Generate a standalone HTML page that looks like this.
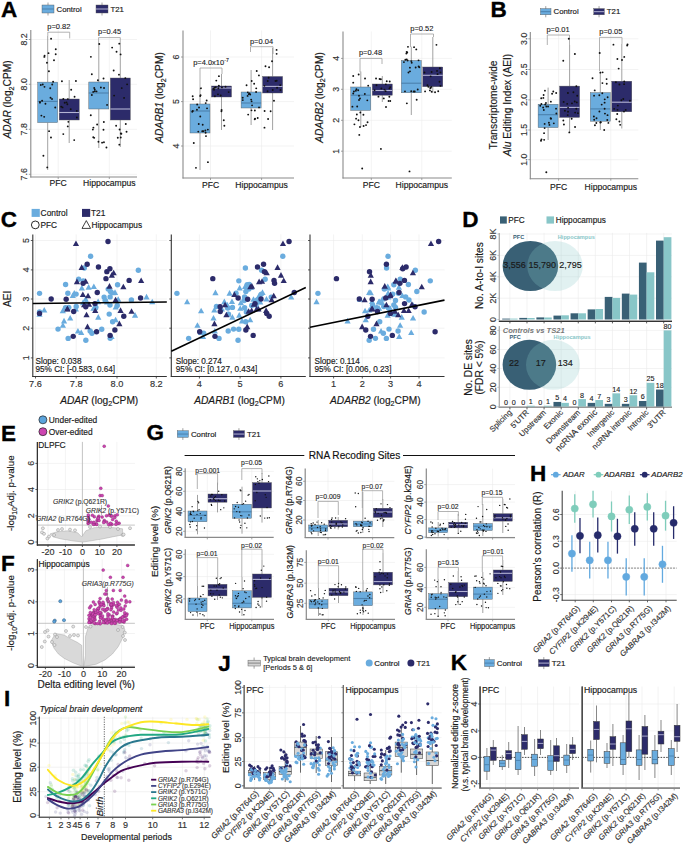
<!DOCTYPE html>
<html><head><meta charset="utf-8"><style>
html,body{margin:0;padding:0;background:#fff;}
svg{display:block;font-family:"Liberation Sans",sans-serif;}
</style></head><body>
<svg width="685" height="844" viewBox="0 0 685 844">
<rect width="685" height="844" fill="#fff"/>
<text x="0.95" y="17.05" font-size="22.5" font-weight="bold" fill="#000" stroke="#000" stroke-width="0.35">A</text>
<line x1="48.00" y1="2.50" x2="48.00" y2="15.50" stroke="#8a8a8a" stroke-width="0.8" />
<rect x="42.00" y="5.00" width="12.00" height="8.00" fill="#6aacde" stroke="#555" stroke-width="0.4" />
<line x1="42.00" y1="9.00" x2="54.00" y2="9.00" stroke="#4b81ad" stroke-width="1" />
<text x="56.50" y="11.69" font-size="7.8" text-anchor="start" fill="#1a1a1a" stroke="#1a1a1a" stroke-width="0.16">Control</text>
<line x1="102.00" y1="2.50" x2="102.00" y2="15.50" stroke="#8a8a8a" stroke-width="0.8" />
<rect x="96.00" y="5.00" width="12.00" height="8.00" fill="#2c2b6a" stroke="#555" stroke-width="0.4" />
<line x1="96.00" y1="9.00" x2="108.00" y2="9.00" stroke="#b4b4d4" stroke-width="1" />
<text x="110.50" y="11.69" font-size="7.8" text-anchor="start" fill="#1a1a1a" stroke="#1a1a1a" stroke-width="0.16">T21</text>
<line x1="30.80" y1="39.50" x2="137.00" y2="39.50" stroke="#ebebeb" stroke-width="0.6" />
<line x1="30.80" y1="84.30" x2="137.00" y2="84.30" stroke="#ebebeb" stroke-width="0.6" />
<line x1="30.80" y1="129.30" x2="137.00" y2="129.30" stroke="#ebebeb" stroke-width="0.6" />
<line x1="30.80" y1="174.30" x2="137.00" y2="174.30" stroke="#ebebeb" stroke-width="0.6" />
<line x1="58.20" y1="30.00" x2="58.20" y2="177.00" stroke="#ebebeb" stroke-width="0.6" />
<line x1="109.30" y1="30.00" x2="109.30" y2="177.00" stroke="#ebebeb" stroke-width="0.6" />
<line x1="30.80" y1="30.00" x2="30.80" y2="177.50" stroke="#8a8a8a" stroke-width="1.1" />
<line x1="30.30" y1="177.00" x2="137.00" y2="177.00" stroke="#8a8a8a" stroke-width="1.1" />
<line x1="28.80" y1="39.50" x2="30.80" y2="39.50" stroke="#8a8a8a" stroke-width="0.8" />
<text transform="translate(27.20,39.50) rotate(-90)" font-size="8.8" text-anchor="middle" fill="#333" stroke="#333" stroke-width="0.16">8.2</text>
<line x1="28.80" y1="84.30" x2="30.80" y2="84.30" stroke="#8a8a8a" stroke-width="0.8" />
<text transform="translate(27.20,84.30) rotate(-90)" font-size="8.8" text-anchor="middle" fill="#333" stroke="#333" stroke-width="0.16">8.0</text>
<line x1="28.80" y1="129.30" x2="30.80" y2="129.30" stroke="#8a8a8a" stroke-width="0.8" />
<text transform="translate(27.20,129.30) rotate(-90)" font-size="8.8" text-anchor="middle" fill="#333" stroke="#333" stroke-width="0.16">7.8</text>
<line x1="28.80" y1="174.30" x2="30.80" y2="174.30" stroke="#8a8a8a" stroke-width="0.8" />
<text transform="translate(27.20,174.30) rotate(-90)" font-size="8.8" text-anchor="middle" fill="#333" stroke="#333" stroke-width="0.16">7.6</text>
<line x1="58.20" y1="177.00" x2="58.20" y2="179.00" stroke="#8a8a8a" stroke-width="0.8" />
<line x1="109.30" y1="177.00" x2="109.30" y2="179.00" stroke="#8a8a8a" stroke-width="0.8" />
<line x1="47.70" y1="36.00" x2="47.70" y2="82.10" stroke="#8a8a8a" stroke-width="0.8" />
<line x1="47.70" y1="122.60" x2="47.70" y2="170.00" stroke="#8a8a8a" stroke-width="0.8" />
<rect x="37.70" y="82.10" width="20.00" height="40.50" fill="#6aacde" stroke="#555" stroke-width="0.4" />
<line x1="37.70" y1="101.40" x2="57.70" y2="101.40" stroke="#4b81ad" stroke-width="1.1" />
<circle cx="50.24" cy="88.21" r="0.95" fill="#111"/>
<circle cx="45.44" cy="103.80" r="0.95" fill="#111"/>
<circle cx="39.93" cy="102.65" r="0.95" fill="#111"/>
<circle cx="40.82" cy="84.93" r="0.95" fill="#111"/>
<circle cx="41.38" cy="115.59" r="0.95" fill="#111"/>
<circle cx="55.22" cy="107.51" r="0.95" fill="#111"/>
<circle cx="55.70" cy="54.29" r="0.95" fill="#111"/>
<circle cx="44.17" cy="116.87" r="0.95" fill="#111"/>
<circle cx="44.48" cy="86.87" r="0.95" fill="#111"/>
<circle cx="49.07" cy="131.17" r="0.95" fill="#111"/>
<circle cx="48.50" cy="53.17" r="0.95" fill="#111"/>
<circle cx="42.76" cy="84.51" r="0.95" fill="#111"/>
<circle cx="44.58" cy="55.71" r="0.95" fill="#111"/>
<circle cx="44.34" cy="56.89" r="0.95" fill="#111"/>
<circle cx="43.40" cy="155.73" r="0.95" fill="#111"/>
<circle cx="54.00" cy="60.21" r="0.95" fill="#111"/>
<circle cx="55.77" cy="49.27" r="0.95" fill="#111"/>
<circle cx="52.02" cy="99.03" r="0.95" fill="#111"/>
<circle cx="39.96" cy="101.90" r="0.95" fill="#111"/>
<circle cx="48.93" cy="71.25" r="0.95" fill="#111"/>
<circle cx="50.98" cy="137.47" r="0.95" fill="#111"/>
<circle cx="46.96" cy="62.73" r="0.95" fill="#111"/>
<circle cx="47.26" cy="167.38" r="0.95" fill="#111"/>
<circle cx="51.09" cy="38.80" r="0.95" fill="#111"/>
<circle cx="53.11" cy="81.78" r="0.95" fill="#111"/>
<circle cx="50.53" cy="97.72" r="0.95" fill="#111"/>
<circle cx="42.12" cy="100.80" r="0.95" fill="#111"/>
<circle cx="52.21" cy="84.49" r="0.95" fill="#111"/>
<line x1="69.20" y1="80.00" x2="69.20" y2="99.00" stroke="#8a8a8a" stroke-width="0.8" />
<line x1="69.20" y1="120.00" x2="69.20" y2="143.00" stroke="#8a8a8a" stroke-width="0.8" />
<rect x="59.20" y="99.00" width="20.00" height="21.00" fill="#2c2b6a" stroke="#555" stroke-width="0.4" />
<line x1="59.20" y1="112.50" x2="79.20" y2="112.50" stroke="#b4b4d4" stroke-width="1.1" />
<circle cx="67.37" cy="104.20" r="0.95" fill="#111"/>
<circle cx="68.35" cy="121.85" r="0.95" fill="#111"/>
<circle cx="74.56" cy="96.78" r="0.95" fill="#111"/>
<circle cx="67.78" cy="126.40" r="0.95" fill="#111"/>
<circle cx="76.89" cy="117.57" r="0.95" fill="#111"/>
<circle cx="64.70" cy="102.70" r="0.95" fill="#111"/>
<circle cx="70.70" cy="109.18" r="0.95" fill="#111"/>
<circle cx="67.84" cy="99.09" r="0.95" fill="#111"/>
<circle cx="76.81" cy="110.89" r="0.95" fill="#111"/>
<circle cx="71.18" cy="89.79" r="0.95" fill="#111"/>
<circle cx="75.91" cy="81.03" r="0.95" fill="#111"/>
<circle cx="74.20" cy="140.11" r="0.95" fill="#111"/>
<circle cx="62.54" cy="107.38" r="0.95" fill="#111"/>
<circle cx="61.93" cy="81.18" r="0.95" fill="#111"/>
<circle cx="66.51" cy="102.41" r="0.95" fill="#111"/>
<circle cx="63.34" cy="99.00" r="0.95" fill="#111"/>
<circle cx="61.23" cy="106.64" r="0.95" fill="#111"/>
<circle cx="63.30" cy="134.12" r="0.95" fill="#111"/>
<line x1="98.80" y1="43.00" x2="98.80" y2="82.00" stroke="#8a8a8a" stroke-width="0.8" />
<line x1="98.80" y1="109.00" x2="98.80" y2="148.00" stroke="#8a8a8a" stroke-width="0.8" />
<rect x="88.80" y="82.00" width="20.00" height="27.00" fill="#6aacde" stroke="#555" stroke-width="0.4" />
<line x1="88.80" y1="93.00" x2="108.80" y2="93.00" stroke="#4b81ad" stroke-width="1.1" />
<circle cx="96.52" cy="91.38" r="0.95" fill="#111"/>
<circle cx="107.08" cy="104.92" r="0.95" fill="#111"/>
<circle cx="91.84" cy="95.06" r="0.95" fill="#111"/>
<circle cx="94.85" cy="91.25" r="0.95" fill="#111"/>
<circle cx="90.79" cy="115.30" r="0.95" fill="#111"/>
<circle cx="92.86" cy="129.60" r="0.95" fill="#111"/>
<circle cx="99.27" cy="44.05" r="0.95" fill="#111"/>
<circle cx="102.10" cy="142.67" r="0.95" fill="#111"/>
<circle cx="93.21" cy="91.90" r="0.95" fill="#111"/>
<circle cx="103.49" cy="129.77" r="0.95" fill="#111"/>
<circle cx="104.03" cy="88.02" r="0.95" fill="#111"/>
<circle cx="103.94" cy="142.25" r="0.95" fill="#111"/>
<circle cx="94.21" cy="137.86" r="0.95" fill="#111"/>
<circle cx="90.89" cy="56.87" r="0.95" fill="#111"/>
<circle cx="94.75" cy="89.54" r="0.95" fill="#111"/>
<circle cx="97.91" cy="80.30" r="0.95" fill="#111"/>
<circle cx="106.44" cy="147.53" r="0.95" fill="#111"/>
<circle cx="94.21" cy="87.95" r="0.95" fill="#111"/>
<circle cx="100.88" cy="87.52" r="0.95" fill="#111"/>
<circle cx="98.46" cy="141.78" r="0.95" fill="#111"/>
<circle cx="91.82" cy="74.19" r="0.95" fill="#111"/>
<circle cx="103.54" cy="78.48" r="0.95" fill="#111"/>
<circle cx="93.40" cy="127.64" r="0.95" fill="#111"/>
<circle cx="103.85" cy="121.97" r="0.95" fill="#111"/>
<circle cx="97.14" cy="124.44" r="0.95" fill="#111"/>
<circle cx="93.26" cy="137.27" r="0.95" fill="#111"/>
<line x1="120.30" y1="43.00" x2="120.30" y2="78.00" stroke="#8a8a8a" stroke-width="0.8" />
<line x1="120.30" y1="120.00" x2="120.30" y2="147.00" stroke="#8a8a8a" stroke-width="0.8" />
<rect x="110.30" y="78.00" width="20.00" height="42.00" fill="#2c2b6a" stroke="#555" stroke-width="0.4" />
<line x1="110.30" y1="109.00" x2="130.30" y2="109.00" stroke="#b4b4d4" stroke-width="1.1" />
<circle cx="127.10" cy="84.35" r="0.95" fill="#111"/>
<circle cx="125.79" cy="123.95" r="0.95" fill="#111"/>
<circle cx="117.79" cy="137.75" r="0.95" fill="#111"/>
<circle cx="112.14" cy="47.58" r="0.95" fill="#111"/>
<circle cx="120.75" cy="137.54" r="0.95" fill="#111"/>
<circle cx="126.55" cy="131.71" r="0.95" fill="#111"/>
<circle cx="116.13" cy="125.70" r="0.95" fill="#111"/>
<circle cx="121.75" cy="88.10" r="0.95" fill="#111"/>
<circle cx="114.10" cy="95.60" r="0.95" fill="#111"/>
<circle cx="119.60" cy="129.55" r="0.95" fill="#111"/>
<circle cx="118.97" cy="74.65" r="0.95" fill="#111"/>
<circle cx="120.83" cy="133.54" r="0.95" fill="#111"/>
<circle cx="119.29" cy="43.65" r="0.95" fill="#111"/>
<circle cx="125.33" cy="78.17" r="0.95" fill="#111"/>
<circle cx="124.08" cy="97.89" r="0.95" fill="#111"/>
<circle cx="120.61" cy="54.41" r="0.95" fill="#111"/>
<circle cx="113.68" cy="70.45" r="0.95" fill="#111"/>
<circle cx="116.55" cy="51.70" r="0.95" fill="#111"/>
<circle cx="121.34" cy="133.71" r="0.95" fill="#111"/>
<circle cx="119.35" cy="144.64" r="0.95" fill="#111"/>
<text x="58.90" y="28.99" font-size="7.5" text-anchor="middle" fill="#222" stroke="#222" stroke-width="0.12">p=0.82</text>
<path d="M47.80,36.00V32.20H69.70V38.40" fill="none" stroke="#a0a0a0" stroke-width="0.8"/>
<text x="109.60" y="34.39" font-size="7.5" text-anchor="middle" fill="#222" stroke="#222" stroke-width="0.12">p=0.45</text>
<path d="M98.60,43.00V37.60H120.30V43.00" fill="none" stroke="#a0a0a0" stroke-width="0.8"/>
<text x="58.20" y="186.47" font-size="8.6" text-anchor="middle" fill="#1a1a1a" stroke="#1a1a1a" stroke-width="0.16">PFC</text>
<text x="109.30" y="186.47" font-size="8.6" text-anchor="middle" fill="#1a1a1a" stroke="#1a1a1a" stroke-width="0.16">Hippocampus</text>
<text transform="translate(11.12,99.50) rotate(-90)" font-size="10.2" text-anchor="middle" fill="#1a1a1a" stroke="#1a1a1a" stroke-width="0.16"><tspan font-style="italic">ADAR</tspan><tspan> (log</tspan><tspan font-size="7.14" dy="2.55">2</tspan><tspan dy="-2.55">CPM)</tspan></text>
<line x1="183.00" y1="57.00" x2="294.00" y2="57.00" stroke="#ebebeb" stroke-width="0.6" />
<line x1="183.00" y1="101.60" x2="294.00" y2="101.60" stroke="#ebebeb" stroke-width="0.6" />
<line x1="183.00" y1="146.00" x2="294.00" y2="146.00" stroke="#ebebeb" stroke-width="0.6" />
<line x1="210.50" y1="30.40" x2="210.50" y2="178.00" stroke="#ebebeb" stroke-width="0.6" />
<line x1="261.60" y1="30.40" x2="261.60" y2="178.00" stroke="#ebebeb" stroke-width="0.6" />
<line x1="183.00" y1="30.40" x2="183.00" y2="178.50" stroke="#8a8a8a" stroke-width="1.1" />
<line x1="182.50" y1="178.00" x2="294.00" y2="178.00" stroke="#8a8a8a" stroke-width="1.1" />
<line x1="181.00" y1="57.00" x2="183.00" y2="57.00" stroke="#8a8a8a" stroke-width="0.8" />
<text transform="translate(179.40,57.00) rotate(-90)" font-size="8.8" text-anchor="middle" fill="#333" stroke="#333" stroke-width="0.16">6</text>
<line x1="181.00" y1="101.60" x2="183.00" y2="101.60" stroke="#8a8a8a" stroke-width="0.8" />
<text transform="translate(179.40,101.60) rotate(-90)" font-size="8.8" text-anchor="middle" fill="#333" stroke="#333" stroke-width="0.16">5</text>
<line x1="181.00" y1="146.00" x2="183.00" y2="146.00" stroke="#8a8a8a" stroke-width="0.8" />
<text transform="translate(179.40,146.00) rotate(-90)" font-size="8.8" text-anchor="middle" fill="#333" stroke="#333" stroke-width="0.16">4</text>
<line x1="210.50" y1="178.00" x2="210.50" y2="180.00" stroke="#8a8a8a" stroke-width="0.8" />
<line x1="261.60" y1="178.00" x2="261.60" y2="180.00" stroke="#8a8a8a" stroke-width="0.8" />
<line x1="200.00" y1="88.00" x2="200.00" y2="104.00" stroke="#8a8a8a" stroke-width="0.8" />
<line x1="200.00" y1="133.00" x2="200.00" y2="170.00" stroke="#8a8a8a" stroke-width="0.8" />
<rect x="190.00" y="104.00" width="20.00" height="29.00" fill="#6aacde" stroke="#555" stroke-width="0.4" />
<line x1="190.00" y1="111.00" x2="210.00" y2="111.00" stroke="#4b81ad" stroke-width="1.1" />
<circle cx="200.20" cy="96.09" r="0.95" fill="#111"/>
<circle cx="200.56" cy="95.24" r="0.95" fill="#111"/>
<circle cx="203.35" cy="131.30" r="0.95" fill="#111"/>
<circle cx="195.96" cy="167.86" r="0.95" fill="#111"/>
<circle cx="205.71" cy="103.09" r="0.95" fill="#111"/>
<circle cx="199.03" cy="107.53" r="0.95" fill="#111"/>
<circle cx="192.83" cy="110.98" r="0.95" fill="#111"/>
<circle cx="206.67" cy="100.54" r="0.95" fill="#111"/>
<circle cx="202.69" cy="124.77" r="0.95" fill="#111"/>
<circle cx="207.85" cy="129.60" r="0.95" fill="#111"/>
<circle cx="198.29" cy="131.62" r="0.95" fill="#111"/>
<circle cx="205.59" cy="132.71" r="0.95" fill="#111"/>
<circle cx="200.26" cy="116.51" r="0.95" fill="#111"/>
<circle cx="196.95" cy="109.68" r="0.95" fill="#111"/>
<circle cx="200.91" cy="88.31" r="0.95" fill="#111"/>
<circle cx="197.17" cy="104.52" r="0.95" fill="#111"/>
<circle cx="192.68" cy="96.20" r="0.95" fill="#111"/>
<circle cx="207.92" cy="162.17" r="0.95" fill="#111"/>
<circle cx="192.27" cy="111.70" r="0.95" fill="#111"/>
<circle cx="193.78" cy="143.01" r="0.95" fill="#111"/>
<circle cx="205.36" cy="130.43" r="0.95" fill="#111"/>
<circle cx="207.04" cy="108.33" r="0.95" fill="#111"/>
<circle cx="193.10" cy="99.21" r="0.95" fill="#111"/>
<circle cx="198.75" cy="123.96" r="0.95" fill="#111"/>
<circle cx="202.26" cy="131.21" r="0.95" fill="#111"/>
<circle cx="205.98" cy="136.10" r="0.95" fill="#111"/>
<line x1="221.50" y1="74.00" x2="221.50" y2="86.00" stroke="#8a8a8a" stroke-width="0.8" />
<line x1="221.50" y1="97.00" x2="221.50" y2="130.00" stroke="#8a8a8a" stroke-width="0.8" />
<rect x="211.50" y="86.00" width="20.00" height="11.00" fill="#2c2b6a" stroke="#555" stroke-width="0.4" />
<line x1="211.50" y1="88.00" x2="231.50" y2="88.00" stroke="#b4b4d4" stroke-width="1.1" />
<circle cx="220.72" cy="95.49" r="0.95" fill="#111"/>
<circle cx="228.67" cy="92.08" r="0.95" fill="#111"/>
<circle cx="221.95" cy="87.42" r="0.95" fill="#111"/>
<circle cx="215.81" cy="87.20" r="0.95" fill="#111"/>
<circle cx="218.34" cy="88.22" r="0.95" fill="#111"/>
<circle cx="217.97" cy="94.35" r="0.95" fill="#111"/>
<circle cx="218.93" cy="76.13" r="0.95" fill="#111"/>
<circle cx="213.36" cy="88.75" r="0.95" fill="#111"/>
<circle cx="216.28" cy="80.61" r="0.95" fill="#111"/>
<circle cx="214.89" cy="96.28" r="0.95" fill="#111"/>
<circle cx="221.42" cy="111.26" r="0.95" fill="#111"/>
<circle cx="221.61" cy="109.97" r="0.95" fill="#111"/>
<circle cx="218.86" cy="85.79" r="0.95" fill="#111"/>
<circle cx="223.78" cy="120.32" r="0.95" fill="#111"/>
<circle cx="214.01" cy="89.82" r="0.95" fill="#111"/>
<circle cx="225.55" cy="86.78" r="0.95" fill="#111"/>
<circle cx="214.52" cy="87.80" r="0.95" fill="#111"/>
<circle cx="224.37" cy="125.73" r="0.95" fill="#111"/>
<line x1="251.10" y1="70.00" x2="251.10" y2="92.00" stroke="#8a8a8a" stroke-width="0.8" />
<line x1="251.10" y1="108.00" x2="251.10" y2="125.00" stroke="#8a8a8a" stroke-width="0.8" />
<rect x="241.10" y="92.00" width="20.00" height="16.00" fill="#6aacde" stroke="#555" stroke-width="0.4" />
<line x1="241.10" y1="103.00" x2="261.10" y2="103.00" stroke="#4b81ad" stroke-width="1.1" />
<circle cx="247.62" cy="95.88" r="0.95" fill="#111"/>
<circle cx="250.19" cy="94.52" r="0.95" fill="#111"/>
<circle cx="259.04" cy="107.39" r="0.95" fill="#111"/>
<circle cx="258.92" cy="75.38" r="0.95" fill="#111"/>
<circle cx="242.72" cy="97.71" r="0.95" fill="#111"/>
<circle cx="251.15" cy="99.59" r="0.95" fill="#111"/>
<circle cx="242.78" cy="100.08" r="0.95" fill="#111"/>
<circle cx="249.41" cy="93.44" r="0.95" fill="#111"/>
<circle cx="247.81" cy="92.36" r="0.95" fill="#111"/>
<circle cx="251.59" cy="101.37" r="0.95" fill="#111"/>
<circle cx="254.73" cy="119.18" r="0.95" fill="#111"/>
<circle cx="248.18" cy="114.62" r="0.95" fill="#111"/>
<circle cx="254.87" cy="110.54" r="0.95" fill="#111"/>
<circle cx="256.73" cy="70.96" r="0.95" fill="#111"/>
<circle cx="255.03" cy="118.66" r="0.95" fill="#111"/>
<circle cx="251.50" cy="110.37" r="0.95" fill="#111"/>
<circle cx="256.22" cy="88.37" r="0.95" fill="#111"/>
<circle cx="257.70" cy="117.93" r="0.95" fill="#111"/>
<circle cx="246.56" cy="85.25" r="0.95" fill="#111"/>
<circle cx="248.76" cy="94.13" r="0.95" fill="#111"/>
<circle cx="252.08" cy="105.37" r="0.95" fill="#111"/>
<circle cx="254.14" cy="83.78" r="0.95" fill="#111"/>
<circle cx="256.10" cy="92.05" r="0.95" fill="#111"/>
<circle cx="251.69" cy="81.07" r="0.95" fill="#111"/>
<line x1="272.60" y1="48.00" x2="272.60" y2="76.50" stroke="#8a8a8a" stroke-width="0.8" />
<line x1="272.60" y1="93.00" x2="272.60" y2="130.00" stroke="#8a8a8a" stroke-width="0.8" />
<rect x="262.60" y="76.50" width="20.00" height="16.50" fill="#2c2b6a" stroke="#555" stroke-width="0.4" />
<line x1="262.60" y1="86.40" x2="282.60" y2="86.40" stroke="#b4b4d4" stroke-width="1.1" />
<circle cx="276.58" cy="49.88" r="0.95" fill="#111"/>
<circle cx="268.66" cy="77.73" r="0.95" fill="#111"/>
<circle cx="276.63" cy="53.85" r="0.95" fill="#111"/>
<circle cx="270.63" cy="111.28" r="0.95" fill="#111"/>
<circle cx="277.09" cy="87.78" r="0.95" fill="#111"/>
<circle cx="265.50" cy="66.32" r="0.95" fill="#111"/>
<circle cx="276.69" cy="80.69" r="0.95" fill="#111"/>
<circle cx="264.41" cy="85.87" r="0.95" fill="#111"/>
<circle cx="275.49" cy="80.93" r="0.95" fill="#111"/>
<circle cx="269.09" cy="67.26" r="0.95" fill="#111"/>
<circle cx="272.03" cy="61.24" r="0.95" fill="#111"/>
<circle cx="267.55" cy="91.25" r="0.95" fill="#111"/>
<circle cx="264.49" cy="127.64" r="0.95" fill="#111"/>
<circle cx="280.46" cy="90.03" r="0.95" fill="#111"/>
<circle cx="267.73" cy="80.93" r="0.95" fill="#111"/>
<circle cx="273.97" cy="100.80" r="0.95" fill="#111"/>
<circle cx="280.21" cy="85.15" r="0.95" fill="#111"/>
<circle cx="272.75" cy="90.03" r="0.95" fill="#111"/>
<circle cx="268.09" cy="119.02" r="0.95" fill="#111"/>
<circle cx="264.62" cy="110.99" r="0.95" fill="#111"/>
<text x="211.00" y="65.09" font-size="7.5" text-anchor="middle" fill="#222" stroke="#222" stroke-width="0.12">p=4.0x10<tspan font-size="5.2" dy="-3">-7</tspan></text>
<path d="M200.00,88.00V68.00H222.00V74.00" fill="none" stroke="#a0a0a0" stroke-width="0.8"/>
<text x="261.50" y="44.09" font-size="7.5" text-anchor="middle" fill="#222" stroke="#222" stroke-width="0.12">p=0.04</text>
<path d="M250.50,52.00V46.70H273.00V54.00" fill="none" stroke="#a0a0a0" stroke-width="0.8"/>
<text x="210.50" y="188.27" font-size="8.6" text-anchor="middle" fill="#1a1a1a" stroke="#1a1a1a" stroke-width="0.16">PFC</text>
<text x="261.60" y="188.27" font-size="8.6" text-anchor="middle" fill="#1a1a1a" stroke="#1a1a1a" stroke-width="0.16">Hippocampus</text>
<text transform="translate(163.02,97.50) rotate(-90)" font-size="10.2" text-anchor="middle" fill="#1a1a1a" stroke="#1a1a1a" stroke-width="0.16"><tspan font-style="italic">ADARB1</tspan><tspan> (log</tspan><tspan font-size="7.14" dy="2.55">2</tspan><tspan dy="-2.55">CPM)</tspan></text>
<line x1="343.00" y1="58.40" x2="451.80" y2="58.40" stroke="#ebebeb" stroke-width="0.6" />
<line x1="343.00" y1="89.30" x2="451.80" y2="89.30" stroke="#ebebeb" stroke-width="0.6" />
<line x1="343.00" y1="120.30" x2="451.80" y2="120.30" stroke="#ebebeb" stroke-width="0.6" />
<line x1="343.00" y1="151.20" x2="451.80" y2="151.20" stroke="#ebebeb" stroke-width="0.6" />
<line x1="371.30" y1="31.50" x2="371.30" y2="178.00" stroke="#ebebeb" stroke-width="0.6" />
<line x1="421.80" y1="31.50" x2="421.80" y2="178.00" stroke="#ebebeb" stroke-width="0.6" />
<line x1="343.00" y1="31.50" x2="343.00" y2="178.50" stroke="#8a8a8a" stroke-width="1.1" />
<line x1="342.50" y1="178.00" x2="451.80" y2="178.00" stroke="#8a8a8a" stroke-width="1.1" />
<line x1="341.00" y1="58.40" x2="343.00" y2="58.40" stroke="#8a8a8a" stroke-width="0.8" />
<text transform="translate(339.40,58.40) rotate(-90)" font-size="8.8" text-anchor="middle" fill="#333" stroke="#333" stroke-width="0.16">4</text>
<line x1="341.00" y1="89.30" x2="343.00" y2="89.30" stroke="#8a8a8a" stroke-width="0.8" />
<text transform="translate(339.40,89.30) rotate(-90)" font-size="8.8" text-anchor="middle" fill="#333" stroke="#333" stroke-width="0.16">3</text>
<line x1="341.00" y1="120.30" x2="343.00" y2="120.30" stroke="#8a8a8a" stroke-width="0.8" />
<text transform="translate(339.40,120.30) rotate(-90)" font-size="8.8" text-anchor="middle" fill="#333" stroke="#333" stroke-width="0.16">2</text>
<line x1="341.00" y1="151.20" x2="343.00" y2="151.20" stroke="#8a8a8a" stroke-width="0.8" />
<text transform="translate(339.40,151.20) rotate(-90)" font-size="8.8" text-anchor="middle" fill="#333" stroke="#333" stroke-width="0.16">1</text>
<line x1="371.30" y1="178.00" x2="371.30" y2="180.00" stroke="#8a8a8a" stroke-width="0.8" />
<line x1="421.80" y1="178.00" x2="421.80" y2="180.00" stroke="#8a8a8a" stroke-width="0.8" />
<line x1="360.80" y1="71.50" x2="360.80" y2="87.00" stroke="#8a8a8a" stroke-width="0.8" />
<line x1="360.80" y1="110.40" x2="360.80" y2="127.00" stroke="#8a8a8a" stroke-width="0.8" />
<rect x="350.80" y="87.00" width="20.00" height="23.40" fill="#6aacde" stroke="#555" stroke-width="0.4" />
<line x1="350.80" y1="95.20" x2="370.80" y2="95.20" stroke="#4b81ad" stroke-width="1.1" />
<circle cx="359.97" cy="98.51" r="0.95" fill="#111"/>
<circle cx="358.18" cy="90.29" r="0.95" fill="#111"/>
<circle cx="352.43" cy="106.66" r="0.95" fill="#111"/>
<circle cx="354.42" cy="124.33" r="0.95" fill="#111"/>
<circle cx="367.55" cy="122.24" r="0.95" fill="#111"/>
<circle cx="359.00" cy="95.71" r="0.95" fill="#111"/>
<circle cx="358.46" cy="120.18" r="0.95" fill="#111"/>
<circle cx="353.21" cy="93.44" r="0.95" fill="#111"/>
<circle cx="357.20" cy="106.53" r="0.95" fill="#111"/>
<circle cx="356.86" cy="114.54" r="0.95" fill="#111"/>
<circle cx="358.67" cy="74.44" r="0.95" fill="#111"/>
<circle cx="366.04" cy="125.08" r="0.95" fill="#111"/>
<circle cx="368.20" cy="85.66" r="0.95" fill="#111"/>
<circle cx="353.23" cy="82.65" r="0.95" fill="#111"/>
<circle cx="365.04" cy="78.49" r="0.95" fill="#111"/>
<circle cx="353.22" cy="75.94" r="0.95" fill="#111"/>
<circle cx="360.33" cy="112.51" r="0.95" fill="#111"/>
<circle cx="364.82" cy="93.97" r="0.95" fill="#111"/>
<circle cx="363.42" cy="114.72" r="0.95" fill="#111"/>
<circle cx="359.03" cy="100.04" r="0.95" fill="#111"/>
<circle cx="355.89" cy="90.78" r="0.95" fill="#111"/>
<circle cx="356.10" cy="118.65" r="0.95" fill="#111"/>
<circle cx="359.96" cy="126.94" r="0.95" fill="#111"/>
<circle cx="353.92" cy="91.50" r="0.95" fill="#111"/>
<circle cx="356.42" cy="89.13" r="0.95" fill="#111"/>
<circle cx="367.31" cy="100.33" r="0.95" fill="#111"/>
<line x1="382.30" y1="76.00" x2="382.30" y2="84.00" stroke="#8a8a8a" stroke-width="0.8" />
<line x1="382.30" y1="95.20" x2="382.30" y2="102.00" stroke="#8a8a8a" stroke-width="0.8" />
<rect x="372.30" y="84.00" width="20.00" height="11.20" fill="#2c2b6a" stroke="#555" stroke-width="0.4" />
<line x1="372.30" y1="90.50" x2="392.30" y2="90.50" stroke="#b4b4d4" stroke-width="1.1" />
<circle cx="380.85" cy="79.30" r="0.95" fill="#111"/>
<circle cx="379.58" cy="79.01" r="0.95" fill="#111"/>
<circle cx="390.16" cy="87.11" r="0.95" fill="#111"/>
<circle cx="384.48" cy="89.64" r="0.95" fill="#111"/>
<circle cx="378.45" cy="96.67" r="0.95" fill="#111"/>
<circle cx="381.39" cy="88.48" r="0.95" fill="#111"/>
<circle cx="388.56" cy="100.97" r="0.95" fill="#111"/>
<circle cx="385.82" cy="84.36" r="0.95" fill="#111"/>
<circle cx="383.76" cy="98.42" r="0.95" fill="#111"/>
<circle cx="389.47" cy="88.39" r="0.95" fill="#111"/>
<circle cx="390.23" cy="101.02" r="0.95" fill="#111"/>
<circle cx="376.49" cy="85.22" r="0.95" fill="#111"/>
<circle cx="389.72" cy="81.46" r="0.95" fill="#111"/>
<circle cx="386.75" cy="81.18" r="0.95" fill="#111"/>
<circle cx="374.56" cy="90.18" r="0.95" fill="#111"/>
<circle cx="389.35" cy="96.78" r="0.95" fill="#111"/>
<circle cx="376.05" cy="78.43" r="0.95" fill="#111"/>
<circle cx="385.64" cy="91.13" r="0.95" fill="#111"/>
<line x1="411.30" y1="46.70" x2="411.30" y2="60.40" stroke="#8a8a8a" stroke-width="0.8" />
<line x1="411.30" y1="92.80" x2="411.30" y2="115.00" stroke="#8a8a8a" stroke-width="0.8" />
<rect x="401.30" y="60.40" width="20.00" height="32.40" fill="#6aacde" stroke="#555" stroke-width="0.4" />
<line x1="401.30" y1="83.20" x2="421.30" y2="83.20" stroke="#4b81ad" stroke-width="1.1" />
<circle cx="411.71" cy="62.68" r="0.95" fill="#111"/>
<circle cx="406.66" cy="52.02" r="0.95" fill="#111"/>
<circle cx="407.97" cy="46.84" r="0.95" fill="#111"/>
<circle cx="413.73" cy="91.47" r="0.95" fill="#111"/>
<circle cx="406.84" cy="103.35" r="0.95" fill="#111"/>
<circle cx="414.74" cy="91.52" r="0.95" fill="#111"/>
<circle cx="411.27" cy="61.11" r="0.95" fill="#111"/>
<circle cx="407.22" cy="52.45" r="0.95" fill="#111"/>
<circle cx="406.71" cy="59.37" r="0.95" fill="#111"/>
<circle cx="409.97" cy="71.35" r="0.95" fill="#111"/>
<circle cx="416.29" cy="49.41" r="0.95" fill="#111"/>
<circle cx="406.35" cy="53.62" r="0.95" fill="#111"/>
<circle cx="416.68" cy="99.72" r="0.95" fill="#111"/>
<circle cx="415.68" cy="67.57" r="0.95" fill="#111"/>
<circle cx="411.23" cy="91.24" r="0.95" fill="#111"/>
<circle cx="409.91" cy="67.64" r="0.95" fill="#111"/>
<circle cx="405.36" cy="59.70" r="0.95" fill="#111"/>
<circle cx="419.27" cy="67.30" r="0.95" fill="#111"/>
<circle cx="403.91" cy="62.08" r="0.95" fill="#111"/>
<circle cx="417.74" cy="89.50" r="0.95" fill="#111"/>
<circle cx="418.55" cy="60.37" r="0.95" fill="#111"/>
<circle cx="418.62" cy="66.41" r="0.95" fill="#111"/>
<circle cx="414.06" cy="47.14" r="0.95" fill="#111"/>
<circle cx="408.47" cy="72.51" r="0.95" fill="#111"/>
<circle cx="407.60" cy="60.49" r="0.95" fill="#111"/>
<circle cx="404.98" cy="91.36" r="0.95" fill="#111"/>
<line x1="432.80" y1="37.00" x2="432.80" y2="67.00" stroke="#8a8a8a" stroke-width="0.8" />
<line x1="432.80" y1="86.70" x2="432.80" y2="92.80" stroke="#8a8a8a" stroke-width="0.8" />
<rect x="422.80" y="67.00" width="20.00" height="19.70" fill="#2c2b6a" stroke="#555" stroke-width="0.4" />
<line x1="422.80" y1="75.30" x2="442.80" y2="75.30" stroke="#b4b4d4" stroke-width="1.1" />
<circle cx="430.39" cy="87.97" r="0.95" fill="#111"/>
<circle cx="431.67" cy="91.71" r="0.95" fill="#111"/>
<circle cx="430.66" cy="76.33" r="0.95" fill="#111"/>
<circle cx="430.52" cy="87.88" r="0.95" fill="#111"/>
<circle cx="431.30" cy="86.88" r="0.95" fill="#111"/>
<circle cx="425.08" cy="91.38" r="0.95" fill="#111"/>
<circle cx="439.86" cy="68.23" r="0.95" fill="#111"/>
<circle cx="439.50" cy="81.72" r="0.95" fill="#111"/>
<circle cx="440.49" cy="72.36" r="0.95" fill="#111"/>
<circle cx="436.44" cy="44.87" r="0.95" fill="#111"/>
<circle cx="424.46" cy="72.43" r="0.95" fill="#111"/>
<circle cx="435.05" cy="92.29" r="0.95" fill="#111"/>
<circle cx="428.33" cy="86.85" r="0.95" fill="#111"/>
<circle cx="440.43" cy="85.85" r="0.95" fill="#111"/>
<circle cx="431.62" cy="71.95" r="0.95" fill="#111"/>
<circle cx="427.47" cy="85.28" r="0.95" fill="#111"/>
<circle cx="438.22" cy="91.20" r="0.95" fill="#111"/>
<circle cx="429.91" cy="90.40" r="0.95" fill="#111"/>
<circle cx="437.54" cy="74.13" r="0.95" fill="#111"/>
<circle cx="437.05" cy="70.89" r="0.95" fill="#111"/>
<text x="370.50" y="55.09" font-size="7.5" text-anchor="middle" fill="#222" stroke="#222" stroke-width="0.12">p=0.48</text>
<path d="M360.00,72.00V58.40H382.00V64.00" fill="none" stroke="#a0a0a0" stroke-width="0.8"/>
<text x="421.80" y="30.89" font-size="7.5" text-anchor="middle" fill="#222" stroke="#222" stroke-width="0.12">p=0.52</text>
<path d="M410.50,47.00V34.00H433.50V37.00" fill="none" stroke="#a0a0a0" stroke-width="0.8"/>
<text x="371.30" y="188.27" font-size="8.6" text-anchor="middle" fill="#1a1a1a" stroke="#1a1a1a" stroke-width="0.16">PFC</text>
<text x="421.80" y="188.27" font-size="8.6" text-anchor="middle" fill="#1a1a1a" stroke="#1a1a1a" stroke-width="0.16">Hippocampus</text>
<text transform="translate(322.52,97.50) rotate(-90)" font-size="10.2" text-anchor="middle" fill="#1a1a1a" stroke="#1a1a1a" stroke-width="0.16"><tspan font-style="italic">ADARB2</tspan><tspan> (log</tspan><tspan font-size="7.14" dy="2.55">2</tspan><tspan dy="-2.55">CPM)</tspan></text>
<circle cx="362.20" cy="168.50" r="0.95" fill="#111"/>
<circle cx="380.90" cy="148.90" r="0.95" fill="#111"/>
<circle cx="359.30" cy="134.90" r="0.95" fill="#111"/>
<circle cx="409.50" cy="171.40" r="0.95" fill="#111"/>
<circle cx="363.60" cy="126.00" r="0.95" fill="#111"/>
<circle cx="386.00" cy="107.00" r="0.95" fill="#111"/>
<text x="490.50" y="16.90" font-size="22.5" font-weight="bold" fill="#000" stroke="#000" stroke-width="0.35">B</text>
<line x1="545.75" y1="6.10" x2="545.75" y2="17.30" stroke="#8a8a8a" stroke-width="0.8" />
<rect x="540.50" y="8.60" width="10.50" height="6.20" fill="#6aacde" stroke="#555" stroke-width="0.4" />
<line x1="540.50" y1="11.70" x2="551.00" y2="11.70" stroke="#4b81ad" stroke-width="1" />
<text x="553.50" y="14.39" font-size="7.8" text-anchor="start" fill="#1a1a1a" stroke="#1a1a1a" stroke-width="0.16">Control</text>
<line x1="599.05" y1="6.10" x2="599.05" y2="17.30" stroke="#8a8a8a" stroke-width="0.8" />
<rect x="593.80" y="8.60" width="10.50" height="6.20" fill="#2c2b6a" stroke="#555" stroke-width="0.4" />
<line x1="593.80" y1="11.70" x2="604.30" y2="11.70" stroke="#b4b4d4" stroke-width="1" />
<text x="606.80" y="14.39" font-size="7.8" text-anchor="start" fill="#1a1a1a" stroke="#1a1a1a" stroke-width="0.16">T21</text>
<line x1="530.30" y1="38.80" x2="638.30" y2="38.80" stroke="#ebebeb" stroke-width="0.6" />
<line x1="530.30" y1="69.50" x2="638.30" y2="69.50" stroke="#ebebeb" stroke-width="0.6" />
<line x1="530.30" y1="99.90" x2="638.30" y2="99.90" stroke="#ebebeb" stroke-width="0.6" />
<line x1="530.30" y1="130.00" x2="638.30" y2="130.00" stroke="#ebebeb" stroke-width="0.6" />
<line x1="530.30" y1="159.70" x2="638.30" y2="159.70" stroke="#ebebeb" stroke-width="0.6" />
<line x1="558.60" y1="32.00" x2="558.60" y2="178.70" stroke="#ebebeb" stroke-width="0.6" />
<line x1="610.80" y1="32.00" x2="610.80" y2="178.70" stroke="#ebebeb" stroke-width="0.6" />
<line x1="530.30" y1="32.00" x2="530.30" y2="179.20" stroke="#8a8a8a" stroke-width="1.1" />
<line x1="529.80" y1="178.70" x2="638.30" y2="178.70" stroke="#8a8a8a" stroke-width="1.1" />
<line x1="528.30" y1="38.80" x2="530.30" y2="38.80" stroke="#8a8a8a" stroke-width="0.8" />
<text transform="translate(526.70,38.80) rotate(-90)" font-size="8.8" text-anchor="middle" fill="#333" stroke="#333" stroke-width="0.16">3.0</text>
<line x1="528.30" y1="69.50" x2="530.30" y2="69.50" stroke="#8a8a8a" stroke-width="0.8" />
<text transform="translate(526.70,69.50) rotate(-90)" font-size="8.8" text-anchor="middle" fill="#333" stroke="#333" stroke-width="0.16">2.5</text>
<line x1="528.30" y1="99.90" x2="530.30" y2="99.90" stroke="#8a8a8a" stroke-width="0.8" />
<text transform="translate(526.70,99.90) rotate(-90)" font-size="8.8" text-anchor="middle" fill="#333" stroke="#333" stroke-width="0.16">2.0</text>
<line x1="528.30" y1="130.00" x2="530.30" y2="130.00" stroke="#8a8a8a" stroke-width="0.8" />
<text transform="translate(526.70,130.00) rotate(-90)" font-size="8.8" text-anchor="middle" fill="#333" stroke="#333" stroke-width="0.16">1.5</text>
<line x1="528.30" y1="159.70" x2="530.30" y2="159.70" stroke="#8a8a8a" stroke-width="0.8" />
<text transform="translate(526.70,159.70) rotate(-90)" font-size="8.8" text-anchor="middle" fill="#333" stroke="#333" stroke-width="0.16">1.0</text>
<line x1="558.60" y1="178.70" x2="558.60" y2="180.70" stroke="#8a8a8a" stroke-width="0.8" />
<line x1="610.80" y1="178.70" x2="610.80" y2="180.70" stroke="#8a8a8a" stroke-width="0.8" />
<line x1="548.10" y1="87.60" x2="548.10" y2="104.20" stroke="#8a8a8a" stroke-width="0.8" />
<line x1="548.10" y1="127.60" x2="548.10" y2="140.00" stroke="#8a8a8a" stroke-width="0.8" />
<rect x="538.10" y="104.20" width="20.00" height="23.40" fill="#6aacde" stroke="#555" stroke-width="0.4" />
<line x1="538.10" y1="114.70" x2="558.10" y2="114.70" stroke="#4b81ad" stroke-width="1.1" />
<circle cx="540.27" cy="105.71" r="0.95" fill="#111"/>
<circle cx="556.17" cy="93.01" r="0.95" fill="#111"/>
<circle cx="544.15" cy="139.85" r="0.95" fill="#111"/>
<circle cx="548.07" cy="106.46" r="0.95" fill="#111"/>
<circle cx="543.63" cy="95.02" r="0.95" fill="#111"/>
<circle cx="551.03" cy="118.72" r="0.95" fill="#111"/>
<circle cx="550.86" cy="101.66" r="0.95" fill="#111"/>
<circle cx="544.64" cy="123.88" r="0.95" fill="#111"/>
<circle cx="552.10" cy="93.79" r="0.95" fill="#111"/>
<circle cx="543.82" cy="109.99" r="0.95" fill="#111"/>
<circle cx="549.42" cy="124.89" r="0.95" fill="#111"/>
<circle cx="556.37" cy="113.47" r="0.95" fill="#111"/>
<circle cx="553.28" cy="91.44" r="0.95" fill="#111"/>
<circle cx="541.42" cy="104.05" r="0.95" fill="#111"/>
<circle cx="553.82" cy="123.37" r="0.95" fill="#111"/>
<circle cx="544.63" cy="128.10" r="0.95" fill="#111"/>
<circle cx="556.05" cy="108.64" r="0.95" fill="#111"/>
<circle cx="545.95" cy="103.04" r="0.95" fill="#111"/>
<circle cx="544.07" cy="133.17" r="0.95" fill="#111"/>
<circle cx="541.48" cy="139.33" r="0.95" fill="#111"/>
<circle cx="543.36" cy="97.89" r="0.95" fill="#111"/>
<circle cx="543.13" cy="107.51" r="0.95" fill="#111"/>
<circle cx="550.65" cy="118.23" r="0.95" fill="#111"/>
<circle cx="545.20" cy="104.47" r="0.95" fill="#111"/>
<circle cx="544.94" cy="90.67" r="0.95" fill="#111"/>
<circle cx="548.91" cy="122.81" r="0.95" fill="#111"/>
<circle cx="546.34" cy="106.57" r="0.95" fill="#111"/>
<circle cx="541.23" cy="98.21" r="0.95" fill="#111"/>
<line x1="569.60" y1="45.00" x2="569.60" y2="86.10" stroke="#8a8a8a" stroke-width="0.8" />
<line x1="569.60" y1="117.40" x2="569.60" y2="132.80" stroke="#8a8a8a" stroke-width="0.8" />
<rect x="559.60" y="86.10" width="20.00" height="31.30" fill="#2c2b6a" stroke="#555" stroke-width="0.4" />
<line x1="559.60" y1="107.40" x2="579.60" y2="107.40" stroke="#b4b4d4" stroke-width="1.1" />
<circle cx="568.08" cy="107.87" r="0.95" fill="#111"/>
<circle cx="577.21" cy="95.73" r="0.95" fill="#111"/>
<circle cx="567.20" cy="103.83" r="0.95" fill="#111"/>
<circle cx="577.94" cy="113.15" r="0.95" fill="#111"/>
<circle cx="573.43" cy="92.27" r="0.95" fill="#111"/>
<circle cx="576.35" cy="86.28" r="0.95" fill="#111"/>
<circle cx="568.02" cy="111.78" r="0.95" fill="#111"/>
<circle cx="563.93" cy="124.50" r="0.95" fill="#111"/>
<circle cx="571.96" cy="103.36" r="0.95" fill="#111"/>
<circle cx="571.65" cy="118.77" r="0.95" fill="#111"/>
<circle cx="563.65" cy="101.89" r="0.95" fill="#111"/>
<circle cx="576.75" cy="102.41" r="0.95" fill="#111"/>
<circle cx="574.72" cy="101.45" r="0.95" fill="#111"/>
<circle cx="563.33" cy="120.44" r="0.95" fill="#111"/>
<circle cx="569.31" cy="132.42" r="0.95" fill="#111"/>
<circle cx="567.72" cy="115.09" r="0.95" fill="#111"/>
<circle cx="575.05" cy="126.95" r="0.95" fill="#111"/>
<circle cx="564.93" cy="110.70" r="0.95" fill="#111"/>
<circle cx="575.13" cy="112.59" r="0.95" fill="#111"/>
<circle cx="567.92" cy="92.93" r="0.95" fill="#111"/>
<circle cx="563.27" cy="60.76" r="0.95" fill="#111"/>
<circle cx="576.27" cy="108.79" r="0.95" fill="#111"/>
<line x1="600.30" y1="71.50" x2="600.30" y2="92.60" stroke="#8a8a8a" stroke-width="0.8" />
<line x1="600.30" y1="121.20" x2="600.30" y2="130.00" stroke="#8a8a8a" stroke-width="0.8" />
<rect x="590.30" y="92.60" width="20.00" height="28.60" fill="#6aacde" stroke="#555" stroke-width="0.4" />
<line x1="590.30" y1="108.90" x2="610.30" y2="108.90" stroke="#4b81ad" stroke-width="1.1" />
<circle cx="604.63" cy="108.68" r="0.95" fill="#111"/>
<circle cx="593.88" cy="116.57" r="0.95" fill="#111"/>
<circle cx="602.43" cy="83.11" r="0.95" fill="#111"/>
<circle cx="601.69" cy="104.61" r="0.95" fill="#111"/>
<circle cx="599.41" cy="111.44" r="0.95" fill="#111"/>
<circle cx="602.30" cy="93.27" r="0.95" fill="#111"/>
<circle cx="604.73" cy="99.33" r="0.95" fill="#111"/>
<circle cx="594.92" cy="125.23" r="0.95" fill="#111"/>
<circle cx="594.06" cy="95.66" r="0.95" fill="#111"/>
<circle cx="599.33" cy="95.22" r="0.95" fill="#111"/>
<circle cx="602.59" cy="72.36" r="0.95" fill="#111"/>
<circle cx="604.96" cy="113.58" r="0.95" fill="#111"/>
<circle cx="600.37" cy="72.64" r="0.95" fill="#111"/>
<circle cx="594.19" cy="119.79" r="0.95" fill="#111"/>
<circle cx="604.20" cy="129.97" r="0.95" fill="#111"/>
<circle cx="608.39" cy="122.90" r="0.95" fill="#111"/>
<circle cx="607.29" cy="119.96" r="0.95" fill="#111"/>
<circle cx="607.53" cy="115.15" r="0.95" fill="#111"/>
<circle cx="604.60" cy="102.64" r="0.95" fill="#111"/>
<circle cx="596.52" cy="118.24" r="0.95" fill="#111"/>
<circle cx="600.34" cy="122.46" r="0.95" fill="#111"/>
<circle cx="596.32" cy="123.03" r="0.95" fill="#111"/>
<circle cx="592.52" cy="78.23" r="0.95" fill="#111"/>
<circle cx="607.63" cy="97.21" r="0.95" fill="#111"/>
<circle cx="594.73" cy="90.39" r="0.95" fill="#111"/>
<circle cx="600.82" cy="122.21" r="0.95" fill="#111"/>
<circle cx="606.57" cy="79.09" r="0.95" fill="#111"/>
<circle cx="606.73" cy="83.74" r="0.95" fill="#111"/>
<line x1="621.80" y1="43.80" x2="621.80" y2="81.20" stroke="#8a8a8a" stroke-width="0.8" />
<line x1="621.80" y1="111.80" x2="621.80" y2="128.50" stroke="#8a8a8a" stroke-width="0.8" />
<rect x="611.80" y="81.20" width="20.00" height="30.60" fill="#2c2b6a" stroke="#555" stroke-width="0.4" />
<line x1="611.80" y1="102.20" x2="631.80" y2="102.20" stroke="#b4b4d4" stroke-width="1.1" />
<circle cx="623.98" cy="111.58" r="0.95" fill="#111"/>
<circle cx="617.85" cy="105.61" r="0.95" fill="#111"/>
<circle cx="619.45" cy="121.44" r="0.95" fill="#111"/>
<circle cx="616.37" cy="119.19" r="0.95" fill="#111"/>
<circle cx="627.17" cy="45.61" r="0.95" fill="#111"/>
<circle cx="629.93" cy="100.76" r="0.95" fill="#111"/>
<circle cx="618.65" cy="68.62" r="0.95" fill="#111"/>
<circle cx="615.91" cy="82.23" r="0.95" fill="#111"/>
<circle cx="622.01" cy="59.97" r="0.95" fill="#111"/>
<circle cx="617.22" cy="114.00" r="0.95" fill="#111"/>
<circle cx="613.44" cy="44.63" r="0.95" fill="#111"/>
<circle cx="619.40" cy="84.45" r="0.95" fill="#111"/>
<circle cx="623.30" cy="99.06" r="0.95" fill="#111"/>
<circle cx="621.38" cy="100.29" r="0.95" fill="#111"/>
<circle cx="617.49" cy="109.86" r="0.95" fill="#111"/>
<circle cx="624.12" cy="84.13" r="0.95" fill="#111"/>
<circle cx="620.15" cy="124.86" r="0.95" fill="#111"/>
<circle cx="624.24" cy="81.55" r="0.95" fill="#111"/>
<circle cx="624.25" cy="56.90" r="0.95" fill="#111"/>
<circle cx="625.72" cy="109.88" r="0.95" fill="#111"/>
<circle cx="614.14" cy="108.85" r="0.95" fill="#111"/>
<circle cx="617.39" cy="58.98" r="0.95" fill="#111"/>
<text x="558.00" y="31.79" font-size="7.5" text-anchor="middle" fill="#222" stroke="#222" stroke-width="0.12">p=0.01</text>
<path d="M547.30,45.00V35.00H569.50V45.00" fill="none" stroke="#a0a0a0" stroke-width="0.8"/>
<text x="610.80" y="34.09" font-size="7.5" text-anchor="middle" fill="#222" stroke="#222" stroke-width="0.12">p=0.05</text>
<path d="M599.50,71.00V37.40H622.00V43.80" fill="none" stroke="#a0a0a0" stroke-width="0.8"/>
<text x="558.60" y="189.87" font-size="8.6" text-anchor="middle" fill="#1a1a1a" stroke="#1a1a1a" stroke-width="0.16">PFC</text>
<text x="610.80" y="189.87" font-size="8.6" text-anchor="middle" fill="#1a1a1a" stroke="#1a1a1a" stroke-width="0.16">Hippocampus</text>
<circle cx="546.30" cy="172.30" r="1.00" fill="#111"/>
<circle cx="568.80" cy="38.80" r="1.00" fill="#111"/>
<circle cx="574.90" cy="54.00" r="1.00" fill="#111"/>
<circle cx="599.70" cy="53.10" r="1.00" fill="#111"/>
<circle cx="627.50" cy="44.40" r="1.00" fill="#111"/>
<circle cx="541.00" cy="140.70" r="1.00" fill="#111"/>
<text transform="translate(497.32,105.00) rotate(-90)" font-size="10.2" text-anchor="middle" fill="#1a1a1a" stroke="#1a1a1a" stroke-width="0.16">Transcriptome-wide</text>
<text transform="translate(510.52,105.00) rotate(-90)" font-size="10.2" text-anchor="middle" fill="#1a1a1a" stroke="#1a1a1a" stroke-width="0.16"><tspan font-style="italic">Alu</tspan><tspan> Editing Index (AEI)</tspan></text>
<text x="0.80" y="226.70" font-size="22.5" font-weight="bold" fill="#000" stroke="#000" stroke-width="0.35">C</text>
<rect x="31.60" y="208.90" width="8.20" height="8.00" fill="#6aacde" />
<text x="40.60" y="215.90" font-size="8.4" text-anchor="start" fill="#1a1a1a" stroke="#1a1a1a" stroke-width="0.16">Control</text>
<rect x="82.00" y="208.90" width="8.20" height="8.00" fill="#2c2b6a" />
<text x="91.00" y="215.90" font-size="8.4" text-anchor="start" fill="#1a1a1a" stroke="#1a1a1a" stroke-width="0.16">T21</text>
<circle cx="35.3" cy="224.9" r="3.9" fill="none" stroke="#111" stroke-width="0.9"/>
<text x="40.50" y="227.66" font-size="8.3" text-anchor="start" fill="#1a1a1a" stroke="#1a1a1a" stroke-width="0.16">PFC</text>
<path d="M86.3,220.6L90.6,228.4L82,228.4Z" fill="none" stroke="#111" stroke-width="0.8"/>
<text x="91.40" y="227.66" font-size="8.3" text-anchor="start" fill="#1a1a1a" stroke="#1a1a1a" stroke-width="0.16">Hippocampus</text>
<line x1="32.80" y1="240.50" x2="166.80" y2="240.50" stroke="#ebebeb" stroke-width="0.6" />
<line x1="32.80" y1="269.90" x2="166.80" y2="269.90" stroke="#ebebeb" stroke-width="0.6" />
<line x1="32.80" y1="299.00" x2="166.80" y2="299.00" stroke="#ebebeb" stroke-width="0.6" />
<line x1="32.80" y1="328.20" x2="166.80" y2="328.20" stroke="#ebebeb" stroke-width="0.6" />
<line x1="32.80" y1="357.90" x2="166.80" y2="357.90" stroke="#ebebeb" stroke-width="0.6" />
<line x1="35.50" y1="234.40" x2="35.50" y2="376.50" stroke="#ebebeb" stroke-width="0.6" />
<line x1="76.20" y1="234.40" x2="76.20" y2="376.50" stroke="#ebebeb" stroke-width="0.6" />
<line x1="117.00" y1="234.40" x2="117.00" y2="376.50" stroke="#ebebeb" stroke-width="0.6" />
<line x1="156.30" y1="234.40" x2="156.30" y2="376.50" stroke="#ebebeb" stroke-width="0.6" />
<line x1="32.80" y1="234.40" x2="32.80" y2="377.00" stroke="#333" stroke-width="1.1" />
<line x1="32.30" y1="376.50" x2="166.80" y2="376.50" stroke="#333" stroke-width="1.1" />
<line x1="30.80" y1="240.50" x2="32.80" y2="240.50" stroke="#333" stroke-width="0.8" />
<text transform="translate(29.20,240.50) rotate(-90)" font-size="8.8" text-anchor="middle" fill="#333" stroke="#333" stroke-width="0.16">5</text>
<line x1="30.80" y1="269.90" x2="32.80" y2="269.90" stroke="#333" stroke-width="0.8" />
<text transform="translate(29.20,269.90) rotate(-90)" font-size="8.8" text-anchor="middle" fill="#333" stroke="#333" stroke-width="0.16">4</text>
<line x1="30.80" y1="299.00" x2="32.80" y2="299.00" stroke="#333" stroke-width="0.8" />
<text transform="translate(29.20,299.00) rotate(-90)" font-size="8.8" text-anchor="middle" fill="#333" stroke="#333" stroke-width="0.16">3</text>
<line x1="30.80" y1="328.20" x2="32.80" y2="328.20" stroke="#333" stroke-width="0.8" />
<text transform="translate(29.20,328.20) rotate(-90)" font-size="8.8" text-anchor="middle" fill="#333" stroke="#333" stroke-width="0.16">2</text>
<line x1="30.80" y1="357.90" x2="32.80" y2="357.90" stroke="#333" stroke-width="0.8" />
<text transform="translate(29.20,357.90) rotate(-90)" font-size="8.8" text-anchor="middle" fill="#333" stroke="#333" stroke-width="0.16">1</text>
<line x1="35.50" y1="376.50" x2="35.50" y2="378.50" stroke="#333" stroke-width="0.8" />
<line x1="76.20" y1="376.50" x2="76.20" y2="378.50" stroke="#333" stroke-width="0.8" />
<line x1="117.00" y1="376.50" x2="117.00" y2="378.50" stroke="#333" stroke-width="0.8" />
<line x1="156.30" y1="376.50" x2="156.30" y2="378.50" stroke="#333" stroke-width="0.8" />
<text x="35.50" y="387.37" font-size="9.2" text-anchor="middle" fill="#333" stroke="#333" stroke-width="0.16">7.6</text>
<text x="76.20" y="387.37" font-size="9.2" text-anchor="middle" fill="#333" stroke="#333" stroke-width="0.16">7.8</text>
<text x="117.00" y="387.37" font-size="9.2" text-anchor="middle" fill="#333" stroke="#333" stroke-width="0.16">8.0</text>
<text x="156.30" y="387.37" font-size="9.2" text-anchor="middle" fill="#333" stroke="#333" stroke-width="0.16">8.2</text>
<circle cx="101.75" cy="329.23" r="2.70" fill="#6aacde"/>
<circle cx="90.15" cy="330.93" r="2.70" fill="#6aacde"/>
<circle cx="58.03" cy="329.10" r="2.70" fill="#6aacde"/>
<circle cx="117.57" cy="284.71" r="2.70" fill="#6aacde"/>
<circle cx="84.31" cy="267.98" r="2.70" fill="#6aacde"/>
<circle cx="95.67" cy="307.93" r="2.70" fill="#6aacde"/>
<circle cx="109.98" cy="305.06" r="2.70" fill="#6aacde"/>
<circle cx="110.23" cy="338.36" r="2.70" fill="#6aacde"/>
<circle cx="91.92" cy="333.26" r="2.70" fill="#6aacde"/>
<circle cx="90.59" cy="256.20" r="2.70" fill="#6aacde"/>
<circle cx="109.20" cy="314.12" r="2.70" fill="#6aacde"/>
<circle cx="65.53" cy="307.80" r="2.70" fill="#6aacde"/>
<circle cx="78.64" cy="279.26" r="2.70" fill="#6aacde"/>
<circle cx="76.11" cy="294.10" r="2.70" fill="#6aacde"/>
<circle cx="108.20" cy="289.08" r="2.70" fill="#6aacde"/>
<circle cx="104.12" cy="297.08" r="2.70" fill="#6aacde"/>
<circle cx="105.16" cy="300.52" r="2.70" fill="#6aacde"/>
<circle cx="76.20" cy="306.53" r="2.70" fill="#6aacde"/>
<circle cx="131.41" cy="299.94" r="2.70" fill="#6aacde"/>
<circle cx="110.14" cy="296.92" r="2.70" fill="#6aacde"/>
<circle cx="83.29" cy="280.84" r="2.70" fill="#6aacde"/>
<circle cx="117.27" cy="305.52" r="2.70" fill="#6aacde"/>
<circle cx="138.34" cy="270.19" r="2.70" fill="#6aacde"/>
<circle cx="68.73" cy="307.42" r="2.70" fill="#6aacde"/>
<circle cx="110.42" cy="291.46" r="2.70" fill="#6aacde"/>
<circle cx="112.61" cy="321.75" r="2.70" fill="#6aacde"/>
<circle cx="68.15" cy="338.38" r="2.70" fill="#6aacde"/>
<circle cx="65.59" cy="284.48" r="2.70" fill="#6aacde"/>
<circle cx="39.53" cy="312.02" r="2.70" fill="#6aacde"/>
<circle cx="67.86" cy="293.26" r="2.70" fill="#6aacde"/>
<path d="M62.78,307.76L65.88,313.34L59.68,313.34Z" fill="#6aacde"/>
<path d="M95.81,301.81L98.91,307.39L92.71,307.39Z" fill="#6aacde"/>
<path d="M107.12,298.83L110.22,304.41L104.02,304.41Z" fill="#6aacde"/>
<path d="M111.55,333.52L114.65,339.10L108.45,339.10Z" fill="#6aacde"/>
<path d="M118.21,296.27L121.31,301.85L115.11,301.85Z" fill="#6aacde"/>
<path d="M74.25,290.11L77.35,295.69L71.15,295.69Z" fill="#6aacde"/>
<path d="M115.01,289.32L118.11,294.90L111.91,294.90Z" fill="#6aacde"/>
<path d="M39.53,311.26L42.63,316.84L36.43,316.84Z" fill="#6aacde"/>
<path d="M98.27,314.05L101.37,319.63L95.17,319.63Z" fill="#6aacde"/>
<path d="M70.17,314.98L73.27,320.56L67.07,320.56Z" fill="#6aacde"/>
<path d="M88.63,284.12L91.73,289.70L85.53,289.70Z" fill="#6aacde"/>
<path d="M86.40,298.44L89.50,304.02L83.30,304.02Z" fill="#6aacde"/>
<path d="M135.05,312.08L138.15,317.66L131.95,317.66Z" fill="#6aacde"/>
<path d="M93.50,305.19L96.60,310.77L90.40,310.77Z" fill="#6aacde"/>
<path d="M98.14,298.55L101.24,304.13L95.04,304.13Z" fill="#6aacde"/>
<path d="M64.04,317.85L67.14,323.43L60.94,323.43Z" fill="#6aacde"/>
<path d="M75.87,306.03L78.97,311.61L72.77,311.61Z" fill="#6aacde"/>
<path d="M93.86,283.51L96.96,289.09L90.76,289.09Z" fill="#6aacde"/>
<path d="M115.73,303.80L118.83,309.38L112.63,309.38Z" fill="#6aacde"/>
<path d="M62.90,322.13L66.00,327.71L59.80,327.71Z" fill="#6aacde"/>
<path d="M85.65,295.99L88.75,301.57L82.55,301.57Z" fill="#6aacde"/>
<path d="M112.82,289.57L115.92,295.15L109.72,295.15Z" fill="#6aacde"/>
<path d="M115.59,316.69L118.69,322.27L112.49,322.27Z" fill="#6aacde"/>
<path d="M81.84,284.80L84.94,290.38L78.74,290.38Z" fill="#6aacde"/>
<path d="M44.28,306.95L47.38,312.53L41.18,312.53Z" fill="#6aacde"/>
<path d="M146.53,293.80L149.63,299.38L143.43,299.38Z" fill="#6aacde"/>
<path d="M81.21,329.51L84.31,335.09L78.11,335.09Z" fill="#6aacde"/>
<path d="M72.80,292.50L75.90,298.08L69.70,298.08Z" fill="#6aacde"/>
<path d="M77.96,327.96L81.06,333.54L74.86,333.54Z" fill="#6aacde"/>
<path d="M82.99,299.59L86.09,305.17L79.89,305.17Z" fill="#6aacde"/>
<circle cx="85.83" cy="340.29" r="2.70" fill="#6aacde"/>
<circle cx="39.53" cy="293.33" r="2.70" fill="#6aacde"/>
<path d="M152.25,298.79L155.35,304.37L149.15,304.37Z" fill="#6aacde"/>
<circle cx="108.02" cy="241.47" r="2.70" fill="#2c2b6a"/>
<circle cx="140.57" cy="298.06" r="2.70" fill="#2c2b6a"/>
<circle cx="129.14" cy="280.40" r="2.70" fill="#2c2b6a"/>
<circle cx="73.21" cy="336.36" r="2.70" fill="#2c2b6a"/>
<circle cx="83.09" cy="283.36" r="2.70" fill="#2c2b6a"/>
<circle cx="94.96" cy="303.59" r="2.70" fill="#2c2b6a"/>
<circle cx="85.77" cy="306.78" r="2.70" fill="#2c2b6a"/>
<circle cx="87.18" cy="264.31" r="2.70" fill="#2c2b6a"/>
<circle cx="97.26" cy="292.53" r="2.70" fill="#2c2b6a"/>
<circle cx="39.53" cy="313.39" r="2.70" fill="#2c2b6a"/>
<circle cx="96.58" cy="331.69" r="2.70" fill="#2c2b6a"/>
<circle cx="106.84" cy="271.63" r="2.70" fill="#2c2b6a"/>
<circle cx="51.18" cy="299.05" r="2.70" fill="#2c2b6a"/>
<circle cx="123.78" cy="316.25" r="2.70" fill="#2c2b6a"/>
<circle cx="114.88" cy="330.03" r="2.70" fill="#2c2b6a"/>
<circle cx="73.70" cy="311.55" r="2.70" fill="#2c2b6a"/>
<circle cx="109.91" cy="268.73" r="2.70" fill="#2c2b6a"/>
<circle cx="66.16" cy="299.24" r="2.70" fill="#2c2b6a"/>
<circle cx="110.10" cy="335.39" r="2.70" fill="#2c2b6a"/>
<circle cx="98.47" cy="266.94" r="2.70" fill="#2c2b6a"/>
<path d="M131.53,308.25L134.63,313.83L128.43,313.83Z" fill="#2c2b6a"/>
<path d="M87.51,323.62L90.61,329.20L84.41,329.20Z" fill="#2c2b6a"/>
<path d="M81.67,264.35L84.77,269.93L78.57,269.93Z" fill="#2c2b6a"/>
<path d="M123.36,283.70L126.46,289.28L120.26,289.28Z" fill="#2c2b6a"/>
<path d="M67.48,305.73L70.58,311.31L64.38,311.31Z" fill="#2c2b6a"/>
<path d="M115.60,296.67L118.70,302.25L112.50,302.25Z" fill="#2c2b6a"/>
<path d="M141.16,277.38L144.26,282.96L138.06,282.96Z" fill="#2c2b6a"/>
<path d="M84.10,301.74L87.20,307.32L81.00,307.32Z" fill="#2c2b6a"/>
<path d="M88.05,292.64L91.15,298.22L84.95,298.22Z" fill="#2c2b6a"/>
<path d="M119.37,320.60L122.47,326.18L116.27,326.18Z" fill="#2c2b6a"/>
<path d="M82.86,291.46L85.96,297.04L79.76,297.04Z" fill="#2c2b6a"/>
<path d="M75.98,240.44L79.08,246.02L72.88,246.02Z" fill="#2c2b6a"/>
<path d="M111.84,272.12L114.94,277.70L108.74,277.70Z" fill="#2c2b6a"/>
<path d="M95.22,307.54L98.32,313.12L92.12,313.12Z" fill="#2c2b6a"/>
<path d="M85.63,278.18L88.73,283.76L82.53,283.76Z" fill="#2c2b6a"/>
<path d="M109.51,283.08L112.61,288.66L106.41,288.66Z" fill="#2c2b6a"/>
<path d="M120.57,307.33L123.67,312.91L117.47,312.91Z" fill="#2c2b6a"/>
<path d="M113.67,269.65L116.77,275.23L110.57,275.23Z" fill="#2c2b6a"/>
<path d="M86.55,311.67L89.65,317.25L83.45,317.25Z" fill="#2c2b6a"/>
<path d="M89.03,301.28L92.13,306.86L85.93,306.86Z" fill="#2c2b6a"/>
<path d="M67.30,305.95L70.40,311.53L64.20,311.53Z" fill="#2c2b6a"/>
<path d="M76.95,278.56L80.05,284.14L73.85,284.14Z" fill="#2c2b6a"/>
<circle cx="105.96" cy="278.65" r="2.70" fill="#2c2b6a"/>
<line x1="32.80" y1="303.50" x2="166.80" y2="302.00" stroke="#000" stroke-width="1.6" />
<text x="35.50" y="363.83" font-size="8.2" text-anchor="start" fill="#1a1a1a" stroke="#1a1a1a" stroke-width="0.16">Slope: 0.038</text>
<text x="35.50" y="372.43" font-size="8.2" text-anchor="start" fill="#1a1a1a" stroke="#1a1a1a" stroke-width="0.16">95% CI: [-0.583, 0.64]</text>
<text x="99.20" y="403.82" font-size="10.2" text-anchor="middle" fill="#1a1a1a" stroke="#1a1a1a" stroke-width="0.16"><tspan font-style="italic">ADAR</tspan><tspan> (log</tspan><tspan font-size="7.14" dy="2.55">2</tspan><tspan dy="-2.55">CPM)</tspan></text>
<line x1="171.30" y1="240.50" x2="305.80" y2="240.50" stroke="#ebebeb" stroke-width="0.6" />
<line x1="171.30" y1="269.90" x2="305.80" y2="269.90" stroke="#ebebeb" stroke-width="0.6" />
<line x1="171.30" y1="299.00" x2="305.80" y2="299.00" stroke="#ebebeb" stroke-width="0.6" />
<line x1="171.30" y1="328.20" x2="305.80" y2="328.20" stroke="#ebebeb" stroke-width="0.6" />
<line x1="171.30" y1="357.90" x2="305.80" y2="357.90" stroke="#ebebeb" stroke-width="0.6" />
<line x1="199.40" y1="234.40" x2="199.40" y2="376.50" stroke="#ebebeb" stroke-width="0.6" />
<line x1="240.10" y1="234.40" x2="240.10" y2="376.50" stroke="#ebebeb" stroke-width="0.6" />
<line x1="280.90" y1="234.40" x2="280.90" y2="376.50" stroke="#ebebeb" stroke-width="0.6" />
<line x1="171.30" y1="234.40" x2="171.30" y2="377.00" stroke="#333" stroke-width="1.1" />
<line x1="170.80" y1="376.50" x2="305.80" y2="376.50" stroke="#333" stroke-width="1.1" />
<line x1="169.30" y1="240.50" x2="171.30" y2="240.50" stroke="#333" stroke-width="0.8" />
<line x1="169.30" y1="269.90" x2="171.30" y2="269.90" stroke="#333" stroke-width="0.8" />
<line x1="169.30" y1="299.00" x2="171.30" y2="299.00" stroke="#333" stroke-width="0.8" />
<line x1="169.30" y1="328.20" x2="171.30" y2="328.20" stroke="#333" stroke-width="0.8" />
<line x1="169.30" y1="357.90" x2="171.30" y2="357.90" stroke="#333" stroke-width="0.8" />
<line x1="199.40" y1="376.50" x2="199.40" y2="378.50" stroke="#333" stroke-width="0.8" />
<line x1="240.10" y1="376.50" x2="240.10" y2="378.50" stroke="#333" stroke-width="0.8" />
<line x1="280.90" y1="376.50" x2="280.90" y2="378.50" stroke="#333" stroke-width="0.8" />
<text x="199.40" y="387.37" font-size="9.2" text-anchor="middle" fill="#333" stroke="#333" stroke-width="0.16">4</text>
<text x="240.10" y="387.37" font-size="9.2" text-anchor="middle" fill="#333" stroke="#333" stroke-width="0.16">5</text>
<text x="280.90" y="387.37" font-size="9.2" text-anchor="middle" fill="#333" stroke="#333" stroke-width="0.16">6</text>
<circle cx="238.79" cy="329.23" r="2.70" fill="#6aacde"/>
<circle cx="228.22" cy="330.93" r="2.70" fill="#6aacde"/>
<circle cx="233.57" cy="329.10" r="2.70" fill="#6aacde"/>
<circle cx="247.20" cy="284.71" r="2.70" fill="#6aacde"/>
<circle cx="245.40" cy="267.98" r="2.70" fill="#6aacde"/>
<circle cx="227.87" cy="307.93" r="2.70" fill="#6aacde"/>
<circle cx="256.14" cy="305.06" r="2.70" fill="#6aacde"/>
<circle cx="188.66" cy="338.36" r="2.70" fill="#6aacde"/>
<circle cx="203.68" cy="333.26" r="2.70" fill="#6aacde"/>
<circle cx="282.79" cy="256.20" r="2.70" fill="#6aacde"/>
<circle cx="228.52" cy="314.12" r="2.70" fill="#6aacde"/>
<circle cx="244.61" cy="307.80" r="2.70" fill="#6aacde"/>
<circle cx="265.15" cy="279.26" r="2.70" fill="#6aacde"/>
<circle cx="261.37" cy="294.10" r="2.70" fill="#6aacde"/>
<circle cx="248.86" cy="289.08" r="2.70" fill="#6aacde"/>
<circle cx="271.25" cy="297.08" r="2.70" fill="#6aacde"/>
<circle cx="244.13" cy="300.52" r="2.70" fill="#6aacde"/>
<circle cx="216.48" cy="306.53" r="2.70" fill="#6aacde"/>
<circle cx="257.23" cy="299.94" r="2.70" fill="#6aacde"/>
<circle cx="244.61" cy="296.92" r="2.70" fill="#6aacde"/>
<circle cx="238.83" cy="280.84" r="2.70" fill="#6aacde"/>
<circle cx="251.76" cy="305.52" r="2.70" fill="#6aacde"/>
<circle cx="261.62" cy="270.19" r="2.70" fill="#6aacde"/>
<circle cx="232.46" cy="307.42" r="2.70" fill="#6aacde"/>
<circle cx="245.84" cy="291.46" r="2.70" fill="#6aacde"/>
<circle cx="245.73" cy="321.75" r="2.70" fill="#6aacde"/>
<circle cx="219.03" cy="338.38" r="2.70" fill="#6aacde"/>
<circle cx="249.26" cy="284.48" r="2.70" fill="#6aacde"/>
<circle cx="246.36" cy="312.02" r="2.70" fill="#6aacde"/>
<circle cx="236.03" cy="293.26" r="2.70" fill="#6aacde"/>
<path d="M201.12,307.76L204.22,313.34L198.02,313.34Z" fill="#6aacde"/>
<path d="M227.27,301.81L230.37,307.39L224.17,307.39Z" fill="#6aacde"/>
<path d="M260.22,298.83L263.32,304.41L257.12,304.41Z" fill="#6aacde"/>
<path d="M203.02,333.52L206.12,339.10L199.92,339.10Z" fill="#6aacde"/>
<path d="M253.52,296.27L256.62,301.85L250.42,301.85Z" fill="#6aacde"/>
<path d="M229.60,290.11L232.70,295.69L226.50,295.69Z" fill="#6aacde"/>
<path d="M262.52,289.32L265.62,294.90L259.42,294.90Z" fill="#6aacde"/>
<path d="M228.05,311.26L231.15,316.84L224.95,316.84Z" fill="#6aacde"/>
<path d="M232.36,314.05L235.46,319.63L229.26,319.63Z" fill="#6aacde"/>
<path d="M213.53,314.98L216.63,320.56L210.43,320.56Z" fill="#6aacde"/>
<path d="M251.44,284.12L254.54,289.70L248.34,289.70Z" fill="#6aacde"/>
<path d="M232.00,298.44L235.10,304.02L228.90,304.02Z" fill="#6aacde"/>
<path d="M239.22,312.08L242.32,317.66L236.12,317.66Z" fill="#6aacde"/>
<path d="M240.28,305.19L243.38,310.77L237.18,310.77Z" fill="#6aacde"/>
<path d="M224.33,298.55L227.43,304.13L221.23,304.13Z" fill="#6aacde"/>
<path d="M242.01,317.85L245.11,323.43L238.91,323.43Z" fill="#6aacde"/>
<path d="M221.90,306.03L225.00,311.61L218.80,311.61Z" fill="#6aacde"/>
<path d="M245.12,283.51L248.22,289.09L242.02,289.09Z" fill="#6aacde"/>
<path d="M227.47,303.80L230.57,309.38L224.37,309.38Z" fill="#6aacde"/>
<path d="M197.46,322.13L200.56,327.71L194.36,327.71Z" fill="#6aacde"/>
<path d="M266.46,295.99L269.56,301.57L263.36,301.57Z" fill="#6aacde"/>
<path d="M215.46,289.57L218.56,295.15L212.36,295.15Z" fill="#6aacde"/>
<path d="M250.20,316.69L253.30,322.27L247.10,322.27Z" fill="#6aacde"/>
<path d="M239.66,284.80L242.76,290.38L236.56,290.38Z" fill="#6aacde"/>
<path d="M214.31,306.95L217.41,312.53L211.21,312.53Z" fill="#6aacde"/>
<path d="M291.19,293.80L294.29,299.38L288.09,299.38Z" fill="#6aacde"/>
<path d="M200.99,329.51L204.09,335.09L197.89,335.09Z" fill="#6aacde"/>
<path d="M259.09,292.50L262.19,298.08L255.99,298.08Z" fill="#6aacde"/>
<path d="M214.82,327.96L217.92,333.54L211.72,333.54Z" fill="#6aacde"/>
<path d="M240.87,299.59L243.97,305.17L237.77,305.17Z" fill="#6aacde"/>
<circle cx="238.06" cy="340.29" r="2.70" fill="#6aacde"/>
<circle cx="176.94" cy="293.33" r="2.70" fill="#6aacde"/>
<path d="M187.12,298.79L190.22,304.37L184.03,304.37Z" fill="#6aacde"/>
<circle cx="289.05" cy="241.47" r="2.70" fill="#2c2b6a"/>
<circle cx="238.14" cy="298.06" r="2.70" fill="#2c2b6a"/>
<circle cx="274.01" cy="280.40" r="2.70" fill="#2c2b6a"/>
<circle cx="214.96" cy="336.36" r="2.70" fill="#2c2b6a"/>
<circle cx="274.57" cy="283.36" r="2.70" fill="#2c2b6a"/>
<circle cx="255.02" cy="303.59" r="2.70" fill="#2c2b6a"/>
<circle cx="220.11" cy="306.78" r="2.70" fill="#2c2b6a"/>
<circle cx="263.56" cy="264.31" r="2.70" fill="#2c2b6a"/>
<circle cx="294.26" cy="292.53" r="2.70" fill="#2c2b6a"/>
<circle cx="266.73" cy="313.39" r="2.70" fill="#2c2b6a"/>
<circle cx="199.66" cy="331.69" r="2.70" fill="#2c2b6a"/>
<circle cx="264.43" cy="271.63" r="2.70" fill="#2c2b6a"/>
<circle cx="261.01" cy="299.05" r="2.70" fill="#2c2b6a"/>
<circle cx="269.19" cy="316.25" r="2.70" fill="#2c2b6a"/>
<circle cx="245.86" cy="330.03" r="2.70" fill="#2c2b6a"/>
<circle cx="220.25" cy="311.55" r="2.70" fill="#2c2b6a"/>
<circle cx="247.68" cy="299.24" r="2.70" fill="#2c2b6a"/>
<circle cx="253.19" cy="335.39" r="2.70" fill="#2c2b6a"/>
<circle cx="257.48" cy="266.94" r="2.70" fill="#2c2b6a"/>
<path d="M248.64,308.25L251.74,313.83L245.54,313.83Z" fill="#2c2b6a"/>
<path d="M247.20,323.62L250.30,329.20L244.10,329.20Z" fill="#2c2b6a"/>
<path d="M277.55,264.35L280.65,269.93L274.45,269.93Z" fill="#2c2b6a"/>
<path d="M250.36,283.70L253.46,289.28L247.26,289.28Z" fill="#2c2b6a"/>
<path d="M256.68,305.73L259.78,311.31L253.58,311.31Z" fill="#2c2b6a"/>
<path d="M271.65,296.67L274.75,302.25L268.55,302.25Z" fill="#2c2b6a"/>
<path d="M283.73,277.38L286.83,282.96L280.63,282.96Z" fill="#2c2b6a"/>
<path d="M225.06,301.74L228.16,307.32L221.96,307.32Z" fill="#2c2b6a"/>
<path d="M273.72,292.64L276.82,298.22L270.62,298.22Z" fill="#2c2b6a"/>
<path d="M214.44,320.60L217.54,326.18L211.34,326.18Z" fill="#2c2b6a"/>
<path d="M234.39,291.46L237.49,297.04L231.29,297.04Z" fill="#2c2b6a"/>
<path d="M282.98,240.44L286.08,246.02L279.88,246.02Z" fill="#2c2b6a"/>
<path d="M280.99,272.12L284.09,277.70L277.89,277.70Z" fill="#2c2b6a"/>
<path d="M251.63,307.54L254.73,313.12L248.53,313.12Z" fill="#2c2b6a"/>
<path d="M262.02,278.18L265.12,283.76L258.92,283.76Z" fill="#2c2b6a"/>
<path d="M251.93,283.08L255.03,288.66L248.83,288.66Z" fill="#2c2b6a"/>
<path d="M266.11,307.33L269.21,312.91L263.01,312.91Z" fill="#2c2b6a"/>
<path d="M266.72,269.65L269.82,275.23L263.62,275.23Z" fill="#2c2b6a"/>
<path d="M226.38,311.67L229.48,317.25L223.28,317.25Z" fill="#2c2b6a"/>
<path d="M253.84,301.28L256.94,306.86L250.74,306.86Z" fill="#2c2b6a"/>
<path d="M258.49,305.95L261.59,311.53L255.39,311.53Z" fill="#2c2b6a"/>
<path d="M259.12,278.56L262.22,284.14L256.02,284.14Z" fill="#2c2b6a"/>
<circle cx="212.80" cy="278.65" r="2.70" fill="#2c2b6a"/>
<line x1="171.30" y1="351.30" x2="305.80" y2="287.50" stroke="#000" stroke-width="1.6" />
<text x="175.80" y="363.83" font-size="8.2" text-anchor="start" fill="#1a1a1a" stroke="#1a1a1a" stroke-width="0.16">Slope: 0.274</text>
<text x="175.80" y="372.43" font-size="8.2" text-anchor="start" fill="#1a1a1a" stroke="#1a1a1a" stroke-width="0.16">95% CI: [0.127, 0.434]</text>
<text x="239.50" y="403.82" font-size="10.2" text-anchor="middle" fill="#1a1a1a" stroke="#1a1a1a" stroke-width="0.16"><tspan font-style="italic">ADARB1</tspan><tspan> (log</tspan><tspan font-size="7.14" dy="2.55">2</tspan><tspan dy="-2.55">CPM)</tspan></text>
<line x1="310.00" y1="240.50" x2="444.50" y2="240.50" stroke="#ebebeb" stroke-width="0.6" />
<line x1="310.00" y1="269.90" x2="444.50" y2="269.90" stroke="#ebebeb" stroke-width="0.6" />
<line x1="310.00" y1="299.00" x2="444.50" y2="299.00" stroke="#ebebeb" stroke-width="0.6" />
<line x1="310.00" y1="328.20" x2="444.50" y2="328.20" stroke="#ebebeb" stroke-width="0.6" />
<line x1="310.00" y1="357.90" x2="444.50" y2="357.90" stroke="#ebebeb" stroke-width="0.6" />
<line x1="333.60" y1="234.40" x2="333.60" y2="376.50" stroke="#ebebeb" stroke-width="0.6" />
<line x1="362.30" y1="234.40" x2="362.30" y2="376.50" stroke="#ebebeb" stroke-width="0.6" />
<line x1="390.60" y1="234.40" x2="390.60" y2="376.50" stroke="#ebebeb" stroke-width="0.6" />
<line x1="419.00" y1="234.40" x2="419.00" y2="376.50" stroke="#ebebeb" stroke-width="0.6" />
<line x1="310.00" y1="234.40" x2="310.00" y2="377.00" stroke="#333" stroke-width="1.1" />
<line x1="309.50" y1="376.50" x2="444.50" y2="376.50" stroke="#333" stroke-width="1.1" />
<line x1="308.00" y1="240.50" x2="310.00" y2="240.50" stroke="#333" stroke-width="0.8" />
<line x1="308.00" y1="269.90" x2="310.00" y2="269.90" stroke="#333" stroke-width="0.8" />
<line x1="308.00" y1="299.00" x2="310.00" y2="299.00" stroke="#333" stroke-width="0.8" />
<line x1="308.00" y1="328.20" x2="310.00" y2="328.20" stroke="#333" stroke-width="0.8" />
<line x1="308.00" y1="357.90" x2="310.00" y2="357.90" stroke="#333" stroke-width="0.8" />
<line x1="333.60" y1="376.50" x2="333.60" y2="378.50" stroke="#333" stroke-width="0.8" />
<line x1="362.30" y1="376.50" x2="362.30" y2="378.50" stroke="#333" stroke-width="0.8" />
<line x1="390.60" y1="376.50" x2="390.60" y2="378.50" stroke="#333" stroke-width="0.8" />
<line x1="419.00" y1="376.50" x2="419.00" y2="378.50" stroke="#333" stroke-width="0.8" />
<text x="333.60" y="387.37" font-size="9.2" text-anchor="middle" fill="#333" stroke="#333" stroke-width="0.16">1</text>
<text x="362.30" y="387.37" font-size="9.2" text-anchor="middle" fill="#333" stroke="#333" stroke-width="0.16">2</text>
<text x="390.60" y="387.37" font-size="9.2" text-anchor="middle" fill="#333" stroke="#333" stroke-width="0.16">3</text>
<text x="419.00" y="387.37" font-size="9.2" text-anchor="middle" fill="#333" stroke="#333" stroke-width="0.16">4</text>
<circle cx="373.49" cy="329.23" r="2.70" fill="#6aacde"/>
<circle cx="398.09" cy="330.93" r="2.70" fill="#6aacde"/>
<circle cx="389.00" cy="329.10" r="2.70" fill="#6aacde"/>
<circle cx="393.84" cy="284.71" r="2.70" fill="#6aacde"/>
<circle cx="386.55" cy="267.98" r="2.70" fill="#6aacde"/>
<circle cx="388.50" cy="307.93" r="2.70" fill="#6aacde"/>
<circle cx="393.83" cy="305.06" r="2.70" fill="#6aacde"/>
<circle cx="375.43" cy="338.36" r="2.70" fill="#6aacde"/>
<circle cx="383.37" cy="333.26" r="2.70" fill="#6aacde"/>
<circle cx="388.05" cy="256.20" r="2.70" fill="#6aacde"/>
<circle cx="392.96" cy="314.12" r="2.70" fill="#6aacde"/>
<circle cx="376.80" cy="307.80" r="2.70" fill="#6aacde"/>
<circle cx="400.21" cy="279.26" r="2.70" fill="#6aacde"/>
<circle cx="392.69" cy="294.10" r="2.70" fill="#6aacde"/>
<circle cx="384.29" cy="289.08" r="2.70" fill="#6aacde"/>
<circle cx="387.62" cy="297.08" r="2.70" fill="#6aacde"/>
<circle cx="395.50" cy="300.52" r="2.70" fill="#6aacde"/>
<circle cx="383.79" cy="306.53" r="2.70" fill="#6aacde"/>
<circle cx="408.95" cy="299.94" r="2.70" fill="#6aacde"/>
<circle cx="405.66" cy="296.92" r="2.70" fill="#6aacde"/>
<circle cx="430.27" cy="280.84" r="2.70" fill="#6aacde"/>
<circle cx="372.59" cy="305.52" r="2.70" fill="#6aacde"/>
<circle cx="415.34" cy="270.19" r="2.70" fill="#6aacde"/>
<circle cx="395.52" cy="307.42" r="2.70" fill="#6aacde"/>
<circle cx="416.83" cy="291.46" r="2.70" fill="#6aacde"/>
<circle cx="379.74" cy="321.75" r="2.70" fill="#6aacde"/>
<circle cx="386.38" cy="338.38" r="2.70" fill="#6aacde"/>
<circle cx="408.38" cy="284.48" r="2.70" fill="#6aacde"/>
<circle cx="424.15" cy="312.02" r="2.70" fill="#6aacde"/>
<circle cx="398.42" cy="293.26" r="2.70" fill="#6aacde"/>
<path d="M365.07,307.76L368.17,313.34L361.97,313.34Z" fill="#6aacde"/>
<path d="M412.88,301.81L415.98,307.39L409.78,307.39Z" fill="#6aacde"/>
<path d="M378.78,298.83L381.88,304.41L375.68,304.41Z" fill="#6aacde"/>
<path d="M399.20,333.52L402.30,339.10L396.10,339.10Z" fill="#6aacde"/>
<path d="M359.99,296.27L363.09,301.85L356.89,301.85Z" fill="#6aacde"/>
<path d="M388.06,290.11L391.16,295.69L384.96,295.69Z" fill="#6aacde"/>
<path d="M369.18,289.32L372.28,294.90L366.08,294.90Z" fill="#6aacde"/>
<path d="M396.38,311.26L399.48,316.84L393.28,316.84Z" fill="#6aacde"/>
<path d="M401.72,314.05L404.82,319.63L398.62,319.63Z" fill="#6aacde"/>
<path d="M413.04,314.98L416.14,320.56L409.94,320.56Z" fill="#6aacde"/>
<path d="M398.90,284.12L402.00,289.70L395.80,289.70Z" fill="#6aacde"/>
<path d="M372.09,298.44L375.19,304.02L368.99,304.02Z" fill="#6aacde"/>
<path d="M387.69,312.08L390.79,317.66L384.59,317.66Z" fill="#6aacde"/>
<path d="M379.13,305.19L382.23,310.77L376.03,310.77Z" fill="#6aacde"/>
<path d="M379.37,298.55L382.47,304.13L376.27,304.13Z" fill="#6aacde"/>
<path d="M347.57,317.85L350.67,323.43L344.47,323.43Z" fill="#6aacde"/>
<path d="M390.46,306.03L393.56,311.61L387.36,311.61Z" fill="#6aacde"/>
<path d="M387.74,283.51L390.84,289.09L384.64,289.09Z" fill="#6aacde"/>
<path d="M371.81,303.80L374.91,309.38L368.71,309.38Z" fill="#6aacde"/>
<path d="M400.14,322.13L403.24,327.71L397.04,327.71Z" fill="#6aacde"/>
<path d="M382.38,295.99L385.48,301.57L379.28,301.57Z" fill="#6aacde"/>
<path d="M370.70,289.57L373.80,295.15L367.60,295.15Z" fill="#6aacde"/>
<path d="M365.73,316.69L368.83,322.27L362.63,322.27Z" fill="#6aacde"/>
<path d="M388.22,284.80L391.32,290.38L385.12,290.38Z" fill="#6aacde"/>
<path d="M369.24,306.95L372.34,312.53L366.14,312.53Z" fill="#6aacde"/>
<path d="M388.22,293.80L391.32,299.38L385.12,299.38Z" fill="#6aacde"/>
<path d="M411.23,329.51L414.33,335.09L408.13,335.09Z" fill="#6aacde"/>
<path d="M402.37,292.50L405.47,298.08L399.27,298.08Z" fill="#6aacde"/>
<path d="M381.05,327.96L384.15,333.54L377.95,333.54Z" fill="#6aacde"/>
<path d="M382.16,299.59L385.26,305.17L379.06,305.17Z" fill="#6aacde"/>
<circle cx="369.19" cy="340.29" r="2.70" fill="#6aacde"/>
<circle cx="317.94" cy="293.33" r="2.70" fill="#6aacde"/>
<path d="M316.52,298.79L319.62,304.37L313.42,304.37Z" fill="#6aacde"/>
<circle cx="438.65" cy="241.47" r="2.70" fill="#2c2b6a"/>
<circle cx="385.72" cy="298.06" r="2.70" fill="#2c2b6a"/>
<circle cx="404.47" cy="280.40" r="2.70" fill="#2c2b6a"/>
<circle cx="370.51" cy="336.36" r="2.70" fill="#2c2b6a"/>
<circle cx="399.93" cy="283.36" r="2.70" fill="#2c2b6a"/>
<circle cx="404.53" cy="303.59" r="2.70" fill="#2c2b6a"/>
<circle cx="415.02" cy="306.78" r="2.70" fill="#2c2b6a"/>
<circle cx="386.40" cy="264.31" r="2.70" fill="#2c2b6a"/>
<circle cx="399.08" cy="292.53" r="2.70" fill="#2c2b6a"/>
<circle cx="390.40" cy="313.39" r="2.70" fill="#2c2b6a"/>
<circle cx="435.11" cy="331.69" r="2.70" fill="#2c2b6a"/>
<circle cx="369.51" cy="271.63" r="2.70" fill="#2c2b6a"/>
<circle cx="359.30" cy="299.05" r="2.70" fill="#2c2b6a"/>
<circle cx="367.87" cy="316.25" r="2.70" fill="#2c2b6a"/>
<circle cx="365.78" cy="330.03" r="2.70" fill="#2c2b6a"/>
<circle cx="377.47" cy="311.55" r="2.70" fill="#2c2b6a"/>
<circle cx="402.74" cy="268.73" r="2.70" fill="#2c2b6a"/>
<circle cx="372.15" cy="299.24" r="2.70" fill="#2c2b6a"/>
<circle cx="392.33" cy="335.39" r="2.70" fill="#2c2b6a"/>
<circle cx="406.12" cy="266.94" r="2.70" fill="#2c2b6a"/>
<path d="M394.97,308.25L398.07,313.83L391.87,313.83Z" fill="#2c2b6a"/>
<path d="M362.15,323.62L365.25,329.20L359.05,329.20Z" fill="#2c2b6a"/>
<path d="M402.40,264.35L405.50,269.93L399.30,269.93Z" fill="#2c2b6a"/>
<path d="M421.76,283.70L424.86,289.28L418.66,289.28Z" fill="#2c2b6a"/>
<path d="M372.35,305.73L375.45,311.31L369.25,311.31Z" fill="#2c2b6a"/>
<path d="M364.63,296.67L367.73,302.25L361.53,302.25Z" fill="#2c2b6a"/>
<path d="M395.86,277.38L398.96,282.96L392.76,282.96Z" fill="#2c2b6a"/>
<path d="M386.39,301.74L389.49,307.32L383.29,307.32Z" fill="#2c2b6a"/>
<path d="M390.33,292.64L393.43,298.22L387.23,298.22Z" fill="#2c2b6a"/>
<path d="M376.49,320.60L379.59,326.18L373.39,326.18Z" fill="#2c2b6a"/>
<path d="M390.47,291.46L393.57,297.04L387.37,297.04Z" fill="#2c2b6a"/>
<path d="M431.00,240.44L434.10,246.02L427.90,246.02Z" fill="#2c2b6a"/>
<path d="M370.77,272.12L373.87,277.70L367.67,277.70Z" fill="#2c2b6a"/>
<path d="M408.64,307.54L411.74,313.12L405.54,313.12Z" fill="#2c2b6a"/>
<path d="M396.02,278.18L399.12,283.76L392.92,283.76Z" fill="#2c2b6a"/>
<path d="M384.76,283.08L387.86,288.66L381.66,288.66Z" fill="#2c2b6a"/>
<path d="M403.98,307.33L407.08,312.91L400.88,312.91Z" fill="#2c2b6a"/>
<path d="M412.90,269.65L416.00,275.23L409.80,275.23Z" fill="#2c2b6a"/>
<path d="M398.21,311.67L401.31,317.25L395.11,317.25Z" fill="#2c2b6a"/>
<path d="M411.92,301.28L415.02,306.86L408.82,306.86Z" fill="#2c2b6a"/>
<path d="M371.64,305.95L374.74,311.53L368.54,311.53Z" fill="#2c2b6a"/>
<path d="M370.67,278.56L373.77,284.14L367.57,284.14Z" fill="#2c2b6a"/>
<circle cx="336.45" cy="278.65" r="2.70" fill="#2c2b6a"/>
<line x1="310.00" y1="327.20" x2="444.50" y2="300.10" stroke="#000" stroke-width="1.6" />
<text x="314.50" y="363.83" font-size="8.2" text-anchor="start" fill="#1a1a1a" stroke="#1a1a1a" stroke-width="0.16">Slope: 0.114</text>
<text x="314.50" y="372.43" font-size="8.2" text-anchor="start" fill="#1a1a1a" stroke="#1a1a1a" stroke-width="0.16">95% CI: [0.006, 0.23]</text>
<text x="375.30" y="403.82" font-size="10.2" text-anchor="middle" fill="#1a1a1a" stroke="#1a1a1a" stroke-width="0.16"><tspan font-style="italic">ADARB2</tspan><tspan> (log</tspan><tspan font-size="7.14" dy="2.55">2</tspan><tspan dy="-2.55">CPM)</tspan></text>
<text transform="translate(11.42,298.80) rotate(-90)" font-size="10.2" text-anchor="middle" fill="#1a1a1a" stroke="#1a1a1a" stroke-width="0.16">AEI</text>
<text x="462.20" y="226.80" font-size="22.5" font-weight="bold" fill="#000" stroke="#000" stroke-width="0.35">D</text>
<rect x="500.00" y="216.40" width="6.80" height="7.20" fill="#396075" />
<text x="508.20" y="222.83" font-size="8.2" text-anchor="start" fill="#1a1a1a" stroke="#1a1a1a" stroke-width="0.16">PFC</text>
<rect x="546.50" y="216.40" width="7.50" height="7.20" fill="#88c6c8" />
<text x="555.80" y="222.83" font-size="8.2" text-anchor="start" fill="#1a1a1a" stroke="#1a1a1a" stroke-width="0.16">Hippocampus</text>
<line x1="499.40" y1="234.00" x2="672.00" y2="234.00" stroke="#ebebeb" stroke-width="0.6" />
<line x1="499.40" y1="255.40" x2="672.00" y2="255.40" stroke="#ebebeb" stroke-width="0.6" />
<line x1="499.40" y1="276.80" x2="672.00" y2="276.80" stroke="#ebebeb" stroke-width="0.6" />
<line x1="499.40" y1="298.20" x2="672.00" y2="298.20" stroke="#ebebeb" stroke-width="0.6" />
<line x1="509.90" y1="232.90" x2="509.90" y2="321.40" stroke="#ebebeb" stroke-width="0.6" />
<line x1="526.99" y1="232.90" x2="526.99" y2="321.40" stroke="#ebebeb" stroke-width="0.6" />
<line x1="544.08" y1="232.90" x2="544.08" y2="321.40" stroke="#ebebeb" stroke-width="0.6" />
<line x1="561.17" y1="232.90" x2="561.17" y2="321.40" stroke="#ebebeb" stroke-width="0.6" />
<line x1="578.26" y1="232.90" x2="578.26" y2="321.40" stroke="#ebebeb" stroke-width="0.6" />
<line x1="595.35" y1="232.90" x2="595.35" y2="321.40" stroke="#ebebeb" stroke-width="0.6" />
<line x1="612.44" y1="232.90" x2="612.44" y2="321.40" stroke="#ebebeb" stroke-width="0.6" />
<line x1="629.53" y1="232.90" x2="629.53" y2="321.40" stroke="#ebebeb" stroke-width="0.6" />
<line x1="646.62" y1="232.90" x2="646.62" y2="321.40" stroke="#ebebeb" stroke-width="0.6" />
<line x1="663.71" y1="232.90" x2="663.71" y2="321.40" stroke="#ebebeb" stroke-width="0.6" />
<line x1="499.40" y1="232.90" x2="499.40" y2="321.90" stroke="#b0b0b0" stroke-width="1.2" />
<line x1="498.90" y1="321.40" x2="672.00" y2="321.40" stroke="#333" stroke-width="1.2" />
<line x1="497.40" y1="234.00" x2="499.40" y2="234.00" stroke="#b0b0b0" stroke-width="0.8" />
<text transform="translate(495.80,234.00) rotate(-90)" font-size="8.8" text-anchor="middle" fill="#333" stroke="#333" stroke-width="0.16">8K</text>
<line x1="497.40" y1="255.40" x2="499.40" y2="255.40" stroke="#b0b0b0" stroke-width="0.8" />
<text transform="translate(495.80,255.40) rotate(-90)" font-size="8.8" text-anchor="middle" fill="#333" stroke="#333" stroke-width="0.16">6K</text>
<line x1="497.40" y1="276.80" x2="499.40" y2="276.80" stroke="#b0b0b0" stroke-width="0.8" />
<text transform="translate(495.80,276.80) rotate(-90)" font-size="8.8" text-anchor="middle" fill="#333" stroke="#333" stroke-width="0.16">4K</text>
<line x1="497.40" y1="298.20" x2="499.40" y2="298.20" stroke="#b0b0b0" stroke-width="0.8" />
<text transform="translate(495.80,298.20) rotate(-90)" font-size="8.8" text-anchor="middle" fill="#333" stroke="#333" stroke-width="0.16">2K</text>
<line x1="497.40" y1="319.50" x2="499.40" y2="319.50" stroke="#b0b0b0" stroke-width="0.8" />
<text transform="translate(495.80,319.50) rotate(-90)" font-size="8.8" text-anchor="middle" fill="#333" stroke="#333" stroke-width="0.16">0</text>
<rect x="502.20" y="318.60" width="7.70" height="0.90" fill="#396075" />
<rect x="509.90" y="318.60" width="7.70" height="0.90" fill="#88c6c8" />
<rect x="519.29" y="317.90" width="7.70" height="1.60" fill="#396075" />
<rect x="526.99" y="318.00" width="7.70" height="1.50" fill="#88c6c8" />
<rect x="536.38" y="317.40" width="7.70" height="2.10" fill="#396075" />
<rect x="544.08" y="317.50" width="7.70" height="2.00" fill="#88c6c8" />
<rect x="553.47" y="315.60" width="7.70" height="3.90" fill="#396075" />
<rect x="561.17" y="315.30" width="7.70" height="4.20" fill="#88c6c8" />
<rect x="570.56" y="313.30" width="7.70" height="6.20" fill="#396075" />
<rect x="578.26" y="313.30" width="7.70" height="6.20" fill="#88c6c8" />
<rect x="587.65" y="309.40" width="7.70" height="10.10" fill="#396075" />
<rect x="595.35" y="309.00" width="7.70" height="10.50" fill="#88c6c8" />
<rect x="604.74" y="296.90" width="7.70" height="22.60" fill="#396075" />
<rect x="612.44" y="297.90" width="7.70" height="21.60" fill="#88c6c8" />
<rect x="621.83" y="293.60" width="7.70" height="25.90" fill="#396075" />
<rect x="629.53" y="294.60" width="7.70" height="24.90" fill="#88c6c8" />
<rect x="638.92" y="262.60" width="7.70" height="56.90" fill="#396075" />
<rect x="646.62" y="272.30" width="7.70" height="47.20" fill="#88c6c8" />
<rect x="656.01" y="240.60" width="7.70" height="78.90" fill="#396075" />
<rect x="663.71" y="237.20" width="7.70" height="82.30" fill="#88c6c8" />
<ellipse cx="530.4" cy="266" rx="27.8" ry="25.1" fill="#396075"/>
<ellipse cx="555" cy="266" rx="27.8" ry="25.1" fill="#88c6c8" fill-opacity="0.25"/>
<text x="513.00" y="239.23" font-size="5.6" text-anchor="start" fill="#396075" font-weight="bold">PFC</text>
<text x="557.80" y="239.23" font-size="5.6" text-anchor="start" fill="#88c6c8" font-weight="bold">Hippocampus</text>
<text x="514.60" y="267.91" font-size="9" text-anchor="middle" fill="#1a1a1a" stroke="#1a1a1a" stroke-width="0.16">3,556</text>
<text x="542.30" y="267.91" font-size="9" text-anchor="middle" fill="#1a1a1a" stroke="#1a1a1a" stroke-width="0.16">15,790</text>
<text x="570.60" y="267.91" font-size="9" text-anchor="middle" fill="#1a1a1a" stroke="#1a1a1a" stroke-width="0.16">2,795</text>
<line x1="499.40" y1="232.90" x2="499.40" y2="321.90" stroke="#b0b0b0" stroke-width="1.2" />
<line x1="499.00" y1="321.40" x2="672.00" y2="321.40" stroke="#333" stroke-width="1.2" />
<line x1="509.90" y1="321.40" x2="509.90" y2="323.40" stroke="#333" stroke-width="0.8" />
<line x1="526.99" y1="321.40" x2="526.99" y2="323.40" stroke="#333" stroke-width="0.8" />
<line x1="544.08" y1="321.40" x2="544.08" y2="323.40" stroke="#333" stroke-width="0.8" />
<line x1="561.17" y1="321.40" x2="561.17" y2="323.40" stroke="#333" stroke-width="0.8" />
<line x1="578.26" y1="321.40" x2="578.26" y2="323.40" stroke="#333" stroke-width="0.8" />
<line x1="595.35" y1="321.40" x2="595.35" y2="323.40" stroke="#333" stroke-width="0.8" />
<line x1="612.44" y1="321.40" x2="612.44" y2="323.40" stroke="#333" stroke-width="0.8" />
<line x1="629.53" y1="321.40" x2="629.53" y2="323.40" stroke="#333" stroke-width="0.8" />
<line x1="646.62" y1="321.40" x2="646.62" y2="323.40" stroke="#333" stroke-width="0.8" />
<line x1="663.71" y1="321.40" x2="663.71" y2="323.40" stroke="#333" stroke-width="0.8" />
<text transform="translate(482.52,275.60) rotate(-90)" font-size="10.2" text-anchor="middle" fill="#1a1a1a" stroke="#1a1a1a" stroke-width="0.16"><tspan>No. A-to-I sites</tspan></text>
<line x1="499.40" y1="330.40" x2="672.00" y2="330.40" stroke="#ebebeb" stroke-width="0.6" />
<line x1="499.40" y1="349.50" x2="672.00" y2="349.50" stroke="#ebebeb" stroke-width="0.6" />
<line x1="499.40" y1="368.50" x2="672.00" y2="368.50" stroke="#ebebeb" stroke-width="0.6" />
<line x1="499.40" y1="387.30" x2="672.00" y2="387.30" stroke="#ebebeb" stroke-width="0.6" />
<line x1="509.90" y1="326.20" x2="509.90" y2="407.40" stroke="#ebebeb" stroke-width="0.6" />
<line x1="526.99" y1="326.20" x2="526.99" y2="407.40" stroke="#ebebeb" stroke-width="0.6" />
<line x1="544.08" y1="326.20" x2="544.08" y2="407.40" stroke="#ebebeb" stroke-width="0.6" />
<line x1="561.17" y1="326.20" x2="561.17" y2="407.40" stroke="#ebebeb" stroke-width="0.6" />
<line x1="578.26" y1="326.20" x2="578.26" y2="407.40" stroke="#ebebeb" stroke-width="0.6" />
<line x1="595.35" y1="326.20" x2="595.35" y2="407.40" stroke="#ebebeb" stroke-width="0.6" />
<line x1="612.44" y1="326.20" x2="612.44" y2="407.40" stroke="#ebebeb" stroke-width="0.6" />
<line x1="629.53" y1="326.20" x2="629.53" y2="407.40" stroke="#ebebeb" stroke-width="0.6" />
<line x1="646.62" y1="326.20" x2="646.62" y2="407.40" stroke="#ebebeb" stroke-width="0.6" />
<line x1="663.71" y1="326.20" x2="663.71" y2="407.40" stroke="#ebebeb" stroke-width="0.6" />
<line x1="499.40" y1="326.20" x2="499.40" y2="407.90" stroke="#b0b0b0" stroke-width="1.2" />
<line x1="498.90" y1="407.40" x2="672.00" y2="407.40" stroke="#333" stroke-width="1.2" />
<line x1="497.40" y1="330.40" x2="499.40" y2="330.40" stroke="#b0b0b0" stroke-width="0.8" />
<text transform="translate(495.80,330.40) rotate(-90)" font-size="8.8" text-anchor="middle" fill="#333" stroke="#333" stroke-width="0.16">80</text>
<line x1="497.40" y1="349.50" x2="499.40" y2="349.50" stroke="#b0b0b0" stroke-width="0.8" />
<text transform="translate(495.80,349.50) rotate(-90)" font-size="8.8" text-anchor="middle" fill="#333" stroke="#333" stroke-width="0.16">60</text>
<line x1="497.40" y1="368.50" x2="499.40" y2="368.50" stroke="#b0b0b0" stroke-width="0.8" />
<text transform="translate(495.80,368.50) rotate(-90)" font-size="8.8" text-anchor="middle" fill="#333" stroke="#333" stroke-width="0.16">40</text>
<line x1="497.40" y1="387.30" x2="499.40" y2="387.30" stroke="#b0b0b0" stroke-width="0.8" />
<text transform="translate(495.80,387.30) rotate(-90)" font-size="8.8" text-anchor="middle" fill="#333" stroke="#333" stroke-width="0.16">20</text>
<line x1="497.40" y1="406.70" x2="499.40" y2="406.70" stroke="#b0b0b0" stroke-width="0.8" />
<text transform="translate(495.80,406.70) rotate(-90)" font-size="8.8" text-anchor="middle" fill="#333" stroke="#333" stroke-width="0.16">0</text>
<ellipse cx="529.4" cy="364.8" rx="26.8" ry="25" fill="#396075"/>
<ellipse cx="553" cy="364.8" rx="27" ry="25" fill="#88c6c8" fill-opacity="0.25"/>
<text x="502.70" y="332.62" font-size="7.6" text-anchor="start" fill="#777" font-weight="bold" font-style="italic">Controls vs TS21</text>
<text x="509.50" y="339.43" font-size="5.6" text-anchor="start" fill="#396075" font-weight="bold">PFC</text>
<text x="553.60" y="339.43" font-size="5.6" text-anchor="start" fill="#88c6c8" font-weight="bold">Hippocampus</text>
<text x="514.00" y="365.91" font-size="9" text-anchor="middle" fill="#1a1a1a" stroke="#1a1a1a" stroke-width="0.16">22</text>
<text x="540.70" y="365.91" font-size="9" text-anchor="middle" fill="#1a1a1a" stroke="#1a1a1a" stroke-width="0.16">17</text>
<text x="565.20" y="365.91" font-size="9" text-anchor="middle" fill="#1a1a1a" stroke="#1a1a1a" stroke-width="0.16">134</text>
<text x="506.05" y="405.18" font-size="7.2" text-anchor="middle" fill="#1a1a1a" stroke="#1a1a1a" stroke-width="0.12">0</text>
<text x="513.75" y="405.18" font-size="7.2" text-anchor="middle" fill="#1a1a1a" stroke="#1a1a1a" stroke-width="0.12">0</text>
<rect x="526.99" y="405.75" width="7.70" height="0.95" fill="#88c6c8" />
<text x="523.14" y="405.18" font-size="7.2" text-anchor="middle" fill="#1a1a1a" stroke="#1a1a1a" stroke-width="0.12">0</text>
<text x="530.84" y="404.23" font-size="7.2" text-anchor="middle" fill="#1a1a1a" stroke="#1a1a1a" stroke-width="0.12">1</text>
<rect x="544.08" y="405.75" width="7.70" height="0.95" fill="#88c6c8" />
<text x="540.23" y="405.18" font-size="7.2" text-anchor="middle" fill="#1a1a1a" stroke="#1a1a1a" stroke-width="0.12">0</text>
<text x="547.93" y="404.23" font-size="7.2" text-anchor="middle" fill="#1a1a1a" stroke="#1a1a1a" stroke-width="0.12">1</text>
<rect x="553.47" y="401.93" width="7.70" height="4.77" fill="#396075" />
<rect x="561.17" y="402.88" width="7.70" height="3.82" fill="#88c6c8" />
<text x="557.32" y="400.41" font-size="7.2" text-anchor="middle" fill="#1a1a1a" stroke="#1a1a1a" stroke-width="0.12">5</text>
<text x="565.02" y="401.37" font-size="7.2" text-anchor="middle" fill="#1a1a1a" stroke="#1a1a1a" stroke-width="0.12">4</text>
<rect x="578.26" y="399.07" width="7.70" height="7.63" fill="#88c6c8" />
<text x="574.41" y="405.18" font-size="7.2" text-anchor="middle" fill="#1a1a1a" stroke="#1a1a1a" stroke-width="0.12">0</text>
<text x="582.11" y="397.55" font-size="7.2" text-anchor="middle" fill="#1a1a1a" stroke="#1a1a1a" stroke-width="0.12">8</text>
<rect x="587.65" y="402.88" width="7.70" height="3.82" fill="#396075" />
<rect x="595.35" y="400.02" width="7.70" height="6.68" fill="#88c6c8" />
<text x="591.50" y="401.37" font-size="7.2" text-anchor="middle" fill="#1a1a1a" stroke="#1a1a1a" stroke-width="0.12">4</text>
<text x="599.20" y="398.51" font-size="7.2" text-anchor="middle" fill="#1a1a1a" stroke="#1a1a1a" stroke-width="0.12">7</text>
<rect x="604.74" y="403.84" width="7.70" height="2.86" fill="#396075" />
<rect x="612.44" y="393.34" width="7.70" height="13.36" fill="#88c6c8" />
<text x="608.59" y="402.32" font-size="7.2" text-anchor="middle" fill="#1a1a1a" stroke="#1a1a1a" stroke-width="0.12">3</text>
<text x="616.29" y="391.83" font-size="7.2" text-anchor="middle" fill="#1a1a1a" stroke="#1a1a1a" stroke-width="0.12">14</text>
<rect x="621.83" y="403.84" width="7.70" height="2.86" fill="#396075" />
<rect x="629.53" y="395.25" width="7.70" height="11.45" fill="#88c6c8" />
<text x="625.68" y="402.32" font-size="7.2" text-anchor="middle" fill="#1a1a1a" stroke="#1a1a1a" stroke-width="0.12">3</text>
<text x="633.38" y="393.74" font-size="7.2" text-anchor="middle" fill="#1a1a1a" stroke="#1a1a1a" stroke-width="0.12">12</text>
<rect x="638.92" y="400.98" width="7.70" height="5.72" fill="#396075" />
<rect x="646.62" y="382.85" width="7.70" height="23.85" fill="#88c6c8" />
<text x="642.77" y="399.46" font-size="7.2" text-anchor="middle" fill="#1a1a1a" stroke="#1a1a1a" stroke-width="0.12">6</text>
<text x="650.47" y="381.33" font-size="7.2" text-anchor="middle" fill="#1a1a1a" stroke="#1a1a1a" stroke-width="0.12">25</text>
<rect x="656.01" y="389.53" width="7.70" height="17.17" fill="#396075" />
<rect x="663.71" y="330.38" width="7.70" height="76.32" fill="#88c6c8" />
<text x="659.86" y="388.01" font-size="7.2" text-anchor="middle" fill="#1a1a1a" stroke="#1a1a1a" stroke-width="0.12">18</text>
<text x="667.56" y="328.86" font-size="7.2" text-anchor="middle" fill="#1a1a1a" stroke="#1a1a1a" stroke-width="0.12">80</text>
<line x1="499.40" y1="326.20" x2="499.40" y2="407.90" stroke="#b0b0b0" stroke-width="1.2" />
<line x1="499.00" y1="407.40" x2="672.00" y2="407.40" stroke="#999" stroke-width="1.2" />
<line x1="509.90" y1="407.40" x2="509.90" y2="409.40" stroke="#333" stroke-width="0.8" />
<line x1="526.99" y1="407.40" x2="526.99" y2="409.40" stroke="#333" stroke-width="0.8" />
<line x1="544.08" y1="407.40" x2="544.08" y2="409.40" stroke="#333" stroke-width="0.8" />
<line x1="561.17" y1="407.40" x2="561.17" y2="409.40" stroke="#333" stroke-width="0.8" />
<line x1="578.26" y1="407.40" x2="578.26" y2="409.40" stroke="#333" stroke-width="0.8" />
<line x1="595.35" y1="407.40" x2="595.35" y2="409.40" stroke="#333" stroke-width="0.8" />
<line x1="612.44" y1="407.40" x2="612.44" y2="409.40" stroke="#333" stroke-width="0.8" />
<line x1="629.53" y1="407.40" x2="629.53" y2="409.40" stroke="#333" stroke-width="0.8" />
<line x1="646.62" y1="407.40" x2="646.62" y2="409.40" stroke="#333" stroke-width="0.8" />
<line x1="663.71" y1="407.40" x2="663.71" y2="409.40" stroke="#333" stroke-width="0.8" />
<text transform="translate(471.72,367.50) rotate(-90)" font-size="10.2" text-anchor="middle" fill="#1a1a1a" stroke="#1a1a1a" stroke-width="0.16"><tspan>No. DE sites</tspan></text>
<text transform="translate(482.72,367.50) rotate(-90)" font-size="10.2" text-anchor="middle" fill="#1a1a1a" stroke="#1a1a1a" stroke-width="0.16"><tspan>(FDR &lt; 5%)</tspan></text>
<text transform="translate(512.30,413.00) rotate(-45)" font-size="7.9" text-anchor="end" fill="#333" stroke="#333" stroke-width="0.16">Splicing</text>
<text transform="translate(529.39,413.00) rotate(-45)" font-size="7.9" text-anchor="end" fill="#333" stroke="#333" stroke-width="0.16">5'UTR</text>
<text transform="translate(546.48,413.00) rotate(-45)" font-size="7.9" text-anchor="end" fill="#333" stroke="#333" stroke-width="0.16">Upstream</text>
<text transform="translate(563.57,413.00) rotate(-45)" font-size="7.9" text-anchor="end" fill="#333" stroke="#333" stroke-width="0.16">Exonic</text>
<text transform="translate(580.66,413.00) rotate(-45)" font-size="7.9" text-anchor="end" fill="#333" stroke="#333" stroke-width="0.16">Downstream</text>
<text transform="translate(597.75,413.00) rotate(-45)" font-size="8.8" text-anchor="end" fill="#333" stroke="#333" stroke-width="0.16">ncRNA exonic</text>
<text transform="translate(614.84,413.00) rotate(-45)" font-size="7.9" text-anchor="end" fill="#333" stroke="#333" stroke-width="0.16">Intergenic</text>
<text transform="translate(631.93,413.00) rotate(-45)" font-size="7.9" text-anchor="end" fill="#333" stroke="#333" stroke-width="0.16">ncRNA intronic</text>
<text transform="translate(649.02,413.00) rotate(-45)" font-size="7.9" text-anchor="end" fill="#333" stroke="#333" stroke-width="0.16">Intronic</text>
<text transform="translate(666.11,413.00) rotate(-45)" font-size="7.9" text-anchor="end" fill="#333" stroke="#333" stroke-width="0.16">3'UTR</text>
<text x="1.00" y="441.00" font-size="22.5" font-weight="bold" fill="#000" stroke="#000" stroke-width="0.35">E</text>
<circle cx="42.9" cy="419.8" r="4" fill="#5ca4dc" stroke="#222" stroke-width="0.7"/>
<circle cx="42.9" cy="431.7" r="4" fill="#cc45b0" stroke="#222" stroke-width="0.7"/>
<text x="48.80" y="422.70" font-size="8.4" text-anchor="start" fill="#1a1a1a" stroke="#1a1a1a" stroke-width="0.16">Under-edited</text>
<text x="48.80" y="434.60" font-size="8.4" text-anchor="start" fill="#1a1a1a" stroke="#1a1a1a" stroke-width="0.16">Over-edited</text>
<line x1="37.40" y1="463.40" x2="134.90" y2="463.40" stroke="#ebebeb" stroke-width="0.6" />
<line x1="37.40" y1="489.50" x2="134.90" y2="489.50" stroke="#ebebeb" stroke-width="0.6" />
<line x1="37.40" y1="515.90" x2="134.90" y2="515.90" stroke="#ebebeb" stroke-width="0.6" />
<line x1="37.40" y1="542.00" x2="134.90" y2="542.00" stroke="#ebebeb" stroke-width="0.6" />
<line x1="48.00" y1="441.90" x2="48.00" y2="545.00" stroke="#ebebeb" stroke-width="0.6" />
<line x1="65.40" y1="441.90" x2="65.40" y2="545.00" stroke="#ebebeb" stroke-width="0.6" />
<line x1="82.40" y1="441.90" x2="82.40" y2="545.00" stroke="#ebebeb" stroke-width="0.6" />
<line x1="99.70" y1="441.90" x2="99.70" y2="545.00" stroke="#ebebeb" stroke-width="0.6" />
<line x1="116.90" y1="441.90" x2="116.90" y2="545.00" stroke="#ebebeb" stroke-width="0.6" />
<line x1="37.40" y1="441.90" x2="37.40" y2="545.50" stroke="#333" stroke-width="1.1" />
<line x1="36.90" y1="545.00" x2="134.90" y2="545.00" stroke="#333" stroke-width="1.1" />
<line x1="82.40" y1="441.90" x2="82.40" y2="545.00" stroke="#b0b0b0" stroke-width="0.7" />
<path d="M50.0,533.9L57.2,531.8L67.4,530.8L77.7,532.8L81.7,536.9L85.8,530.8L94.0,527.7L106.3,527.1L114.4,527.7L122.6,528.8L122.6,534.9L112.4,536.9L102.2,539.0L89.9,541.0L82.8,542.0L73.6,541.0L61.3,539.0L53.1,536.9Z" fill="#d9d9d9" stroke="#9a9a9a" stroke-width="0.4"/>
<circle cx="42.9" cy="528.3" r="1.5" fill="#e4e4e4" stroke="#8a8a8a" stroke-width="0.45"/>
<circle cx="42.0" cy="532.4" r="1.5" fill="#e4e4e4" stroke="#8a8a8a" stroke-width="0.45"/>
<circle cx="44.0" cy="533.8" r="1.5" fill="#e4e4e4" stroke="#8a8a8a" stroke-width="0.45"/>
<circle cx="47.4" cy="538.5" r="1.5" fill="#e4e4e4" stroke="#8a8a8a" stroke-width="0.45"/>
<circle cx="49.0" cy="536.5" r="1.5" fill="#e4e4e4" stroke="#8a8a8a" stroke-width="0.45"/>
<circle cx="54.1" cy="535.0" r="1.5" fill="#e4e4e4" stroke="#8a8a8a" stroke-width="0.45"/>
<circle cx="58.0" cy="530.0" r="1.5" fill="#e4e4e4" stroke="#8a8a8a" stroke-width="0.45"/>
<circle cx="62.0" cy="529.0" r="1.5" fill="#e4e4e4" stroke="#8a8a8a" stroke-width="0.45"/>
<circle cx="70.0" cy="529.6" r="1.5" fill="#e4e4e4" stroke="#8a8a8a" stroke-width="0.45"/>
<circle cx="75.0" cy="530.3" r="1.5" fill="#e4e4e4" stroke="#8a8a8a" stroke-width="0.45"/>
<circle cx="122.6" cy="535.0" r="1.5" fill="#e4e4e4" stroke="#8a8a8a" stroke-width="0.45"/>
<circle cx="123.6" cy="534.5" r="1.5" fill="#e4e4e4" stroke="#8a8a8a" stroke-width="0.45"/>
<circle cx="130.0" cy="528.2" r="1.5" fill="#e4e4e4" stroke="#8a8a8a" stroke-width="0.45"/>
<circle cx="118.0" cy="529.0" r="1.5" fill="#e4e4e4" stroke="#8a8a8a" stroke-width="0.45"/>
<circle cx="110.0" cy="527.0" r="1.5" fill="#e4e4e4" stroke="#8a8a8a" stroke-width="0.45"/>
<circle cx="100.0" cy="526.5" r="1.5" fill="#e4e4e4" stroke="#8a8a8a" stroke-width="0.45"/>
<circle cx="90.0" cy="527.0" r="1.5" fill="#e4e4e4" stroke="#8a8a8a" stroke-width="0.45"/>
<line x1="37.40" y1="525.10" x2="134.90" y2="525.10" stroke="#b8b8b8" stroke-width="0.8" />
<circle cx="104.2" cy="446.2" r="1.5" fill="#cc45b0" stroke="#6e1a5c" stroke-width="0.3"/>
<circle cx="100.8" cy="488.3" r="1.5" fill="#cc45b0" stroke="#6e1a5c" stroke-width="0.3"/>
<circle cx="100.1" cy="495.6" r="1.5" fill="#cc45b0" stroke="#6e1a5c" stroke-width="0.3"/>
<circle cx="102.2" cy="495.6" r="1.5" fill="#cc45b0" stroke="#6e1a5c" stroke-width="0.3"/>
<circle cx="108.3" cy="505.9" r="1.5" fill="#cc45b0" stroke="#6e1a5c" stroke-width="0.3"/>
<circle cx="119.1" cy="523.2" r="1.5" fill="#cc45b0" stroke="#6e1a5c" stroke-width="0.3"/>
<circle cx="106.7" cy="522.1" r="1.5" fill="#cc45b0" stroke="#6e1a5c" stroke-width="0.3"/>
<circle cx="111.9" cy="524.2" r="1.5" fill="#cc45b0" stroke="#6e1a5c" stroke-width="0.3"/>
<circle cx="110.2" cy="524.0" r="1.5" fill="#cc45b0" stroke="#6e1a5c" stroke-width="0.3"/>
<circle cx="88.9" cy="519.3" r="1.5" fill="#cc45b0" stroke="#6e1a5c" stroke-width="0.3"/>
<circle cx="116.3" cy="521.2" r="1.5" fill="#cc45b0" stroke="#6e1a5c" stroke-width="0.3"/>
<circle cx="115.0" cy="515.7" r="1.5" fill="#cc45b0" stroke="#6e1a5c" stroke-width="0.3"/>
<circle cx="102.1" cy="517.0" r="1.5" fill="#cc45b0" stroke="#6e1a5c" stroke-width="0.3"/>
<circle cx="104.3" cy="520.4" r="1.5" fill="#cc45b0" stroke="#6e1a5c" stroke-width="0.3"/>
<circle cx="88.4" cy="516.7" r="1.5" fill="#cc45b0" stroke="#6e1a5c" stroke-width="0.3"/>
<circle cx="96.4" cy="523.9" r="1.5" fill="#cc45b0" stroke="#6e1a5c" stroke-width="0.3"/>
<circle cx="111.0" cy="516.1" r="1.5" fill="#cc45b0" stroke="#6e1a5c" stroke-width="0.3"/>
<circle cx="111.9" cy="515.9" r="1.5" fill="#cc45b0" stroke="#6e1a5c" stroke-width="0.3"/>
<circle cx="106.5" cy="515.8" r="1.5" fill="#cc45b0" stroke="#6e1a5c" stroke-width="0.3"/>
<circle cx="88.1" cy="523.5" r="1.5" fill="#cc45b0" stroke="#6e1a5c" stroke-width="0.3"/>
<circle cx="94.3" cy="516.7" r="1.5" fill="#cc45b0" stroke="#6e1a5c" stroke-width="0.3"/>
<circle cx="117.5" cy="523.5" r="1.5" fill="#cc45b0" stroke="#6e1a5c" stroke-width="0.3"/>
<circle cx="96.7" cy="524.4" r="1.5" fill="#cc45b0" stroke="#6e1a5c" stroke-width="0.3"/>
<circle cx="104.2" cy="521.5" r="1.5" fill="#cc45b0" stroke="#6e1a5c" stroke-width="0.3"/>
<circle cx="94.1" cy="524.2" r="1.5" fill="#cc45b0" stroke="#6e1a5c" stroke-width="0.3"/>
<circle cx="108.7" cy="524.5" r="1.5" fill="#cc45b0" stroke="#6e1a5c" stroke-width="0.3"/>
<circle cx="114.8" cy="517.6" r="1.5" fill="#cc45b0" stroke="#6e1a5c" stroke-width="0.3"/>
<circle cx="98.8" cy="516.2" r="1.5" fill="#cc45b0" stroke="#6e1a5c" stroke-width="0.3"/>
<circle cx="92.4" cy="515.2" r="1.5" fill="#cc45b0" stroke="#6e1a5c" stroke-width="0.3"/>
<circle cx="97.0" cy="520.7" r="1.5" fill="#cc45b0" stroke="#6e1a5c" stroke-width="0.3"/>
<circle cx="88.1" cy="521.5" r="1.5" fill="#cc45b0" stroke="#6e1a5c" stroke-width="0.3"/>
<circle cx="98.1" cy="517.7" r="1.5" fill="#cc45b0" stroke="#6e1a5c" stroke-width="0.3"/>
<circle cx="112.6" cy="519.5" r="1.5" fill="#cc45b0" stroke="#6e1a5c" stroke-width="0.3"/>
<circle cx="97.5" cy="519.5" r="1.5" fill="#cc45b0" stroke="#6e1a5c" stroke-width="0.3"/>
<circle cx="109.1" cy="515.1" r="1.5" fill="#cc45b0" stroke="#6e1a5c" stroke-width="0.3"/>
<circle cx="117.3" cy="514.7" r="1.5" fill="#cc45b0" stroke="#6e1a5c" stroke-width="0.3"/>
<circle cx="110.5" cy="523.2" r="1.5" fill="#cc45b0" stroke="#6e1a5c" stroke-width="0.3"/>
<circle cx="88.5" cy="522.6" r="1.5" fill="#cc45b0" stroke="#6e1a5c" stroke-width="0.3"/>
<circle cx="99.0" cy="520.5" r="1.5" fill="#cc45b0" stroke="#6e1a5c" stroke-width="0.3"/>
<circle cx="88.3" cy="515.0" r="1.5" fill="#cc45b0" stroke="#6e1a5c" stroke-width="0.3"/>
<circle cx="93.4" cy="524.3" r="1.5" fill="#cc45b0" stroke="#6e1a5c" stroke-width="0.3"/>
<circle cx="93.9" cy="522.3" r="1.5" fill="#cc45b0" stroke="#6e1a5c" stroke-width="0.3"/>
<circle cx="115.9" cy="524.2" r="1.5" fill="#cc45b0" stroke="#6e1a5c" stroke-width="0.3"/>
<circle cx="98.3" cy="518.2" r="1.5" fill="#cc45b0" stroke="#6e1a5c" stroke-width="0.3"/>
<circle cx="103.7" cy="522.5" r="1.5" fill="#cc45b0" stroke="#6e1a5c" stroke-width="0.3"/>
<circle cx="91.2" cy="522.2" r="1.5" fill="#cc45b0" stroke="#6e1a5c" stroke-width="0.3"/>
<line x1="37.40" y1="441.90" x2="37.40" y2="545.50" stroke="#333" stroke-width="1.1" />
<line x1="36.90" y1="545.00" x2="134.90" y2="545.00" stroke="#333" stroke-width="1.1" />
<line x1="35.40" y1="463.40" x2="37.40" y2="463.40" stroke="#333" stroke-width="0.8" />
<text transform="translate(33.80,463.40) rotate(-90)" font-size="8.8" text-anchor="middle" fill="#333" stroke="#333" stroke-width="0.16">6</text>
<line x1="35.40" y1="489.50" x2="37.40" y2="489.50" stroke="#333" stroke-width="0.8" />
<text transform="translate(33.80,489.50) rotate(-90)" font-size="8.8" text-anchor="middle" fill="#333" stroke="#333" stroke-width="0.16">4</text>
<line x1="35.40" y1="515.90" x2="37.40" y2="515.90" stroke="#333" stroke-width="0.8" />
<text transform="translate(33.80,515.90) rotate(-90)" font-size="8.8" text-anchor="middle" fill="#333" stroke="#333" stroke-width="0.16">2</text>
<line x1="35.40" y1="542.00" x2="37.40" y2="542.00" stroke="#333" stroke-width="0.8" />
<text transform="translate(33.80,542.00) rotate(-90)" font-size="8.8" text-anchor="middle" fill="#333" stroke="#333" stroke-width="0.16">0</text>
<line x1="48.00" y1="545.00" x2="48.00" y2="547.00" stroke="#333" stroke-width="0.8" />
<line x1="65.40" y1="545.00" x2="65.40" y2="547.00" stroke="#333" stroke-width="0.8" />
<line x1="82.40" y1="545.00" x2="82.40" y2="547.00" stroke="#333" stroke-width="0.8" />
<line x1="99.70" y1="545.00" x2="99.70" y2="547.00" stroke="#333" stroke-width="0.8" />
<line x1="116.90" y1="545.00" x2="116.90" y2="547.00" stroke="#333" stroke-width="0.8" />
<text x="48.00" y="554.90" font-size="9" text-anchor="middle" fill="#333" stroke="#333" stroke-width="0.16">-20</text>
<text x="65.40" y="554.90" font-size="9" text-anchor="middle" fill="#333" stroke="#333" stroke-width="0.16">-10</text>
<text x="82.40" y="554.90" font-size="9" text-anchor="middle" fill="#333" stroke="#333" stroke-width="0.16">0</text>
<text x="99.70" y="554.90" font-size="9" text-anchor="middle" fill="#333" stroke="#333" stroke-width="0.16">10</text>
<text x="116.90" y="554.90" font-size="9" text-anchor="middle" fill="#333" stroke="#333" stroke-width="0.16">20</text>
<text x="38.20" y="447.70" font-size="8.4" text-anchor="start" fill="#1a1a1a" stroke="#1a1a1a" stroke-width="0.16">DLPFC</text>
<line x1="101.50" y1="505.00" x2="101.50" y2="515.00" stroke="#777" stroke-width="0.5" />
<line x1="86.00" y1="519.00" x2="90.00" y2="519.00" stroke="#777" stroke-width="0.5" />
<text x="80.10" y="503.95" font-size="6.8" text-anchor="middle" fill="#333" stroke="#333" stroke-width="0.12"><tspan font-style="italic">GRIK2</tspan> (p.Q621R)</text>
<text x="112.40" y="512.75" font-size="6.8" text-anchor="middle" fill="#333" stroke="#333" stroke-width="0.12"><tspan font-style="italic">GRIK2</tspan> (p.Y571C)</text>
<text x="62.90" y="521.35" font-size="6.8" text-anchor="middle" fill="#333" stroke="#333" stroke-width="0.12"><tspan font-style="italic">GRIA2</tspan> (p.R764G)</text>
<text x="1.00" y="571.00" font-size="22.5" font-weight="bold" fill="#000" stroke="#000" stroke-width="0.35">F</text>
<line x1="37.40" y1="569.90" x2="134.90" y2="569.90" stroke="#ebebeb" stroke-width="0.6" />
<line x1="37.40" y1="601.80" x2="134.90" y2="601.80" stroke="#ebebeb" stroke-width="0.6" />
<line x1="37.40" y1="633.50" x2="134.90" y2="633.50" stroke="#ebebeb" stroke-width="0.6" />
<line x1="37.40" y1="665.60" x2="134.90" y2="665.60" stroke="#ebebeb" stroke-width="0.6" />
<line x1="45.40" y1="559.30" x2="45.40" y2="667.20" stroke="#ebebeb" stroke-width="0.6" />
<line x1="64.40" y1="559.30" x2="64.40" y2="667.20" stroke="#ebebeb" stroke-width="0.6" />
<line x1="83.40" y1="559.30" x2="83.40" y2="667.20" stroke="#ebebeb" stroke-width="0.6" />
<line x1="102.20" y1="559.30" x2="102.20" y2="667.20" stroke="#ebebeb" stroke-width="0.6" />
<line x1="121.60" y1="559.30" x2="121.60" y2="667.20" stroke="#ebebeb" stroke-width="0.6" />
<line x1="37.40" y1="559.30" x2="37.40" y2="667.70" stroke="#333" stroke-width="1.1" />
<line x1="36.90" y1="667.20" x2="134.90" y2="667.20" stroke="#333" stroke-width="1.1" />
<line x1="83.40" y1="559.30" x2="83.40" y2="667.20" stroke="#b0b0b0" stroke-width="0.7" />
<path d="M83.9,666.4L85.4,655.5L85.4,636.5L88.3,627.0L93.4,624.1L102.2,623.4L113.8,624.1L122.6,625.5L124.8,629.2L122.6,638.0L118.2,646.7L112.4,654.0L105.1,659.9L96.3,664.2L84.6,666.4Z" fill="#d9d9d9" stroke="#9a9a9a" stroke-width="0.4"/>
<path d="M82.4,666.4L81.7,645.3L77.3,642.3L71.5,639.4L64.2,635.0L55.4,633.6L51.1,640.9L54.0,648.2L58.4,654.0L64.2,658.4L73.0,662.8Z" fill="#d9d9d9" stroke="#9a9a9a" stroke-width="0.4"/>
<circle cx="41.8" cy="647.0" r="1.5" fill="#e4e4e4" stroke="#8a8a8a" stroke-width="0.45"/>
<circle cx="45.0" cy="632.0" r="1.5" fill="#e4e4e4" stroke="#8a8a8a" stroke-width="0.45"/>
<circle cx="47.5" cy="630.5" r="1.5" fill="#e4e4e4" stroke="#8a8a8a" stroke-width="0.45"/>
<circle cx="48.5" cy="636.6" r="1.5" fill="#e4e4e4" stroke="#8a8a8a" stroke-width="0.45"/>
<circle cx="44.8" cy="641.5" r="1.5" fill="#e4e4e4" stroke="#8a8a8a" stroke-width="0.45"/>
<circle cx="55.0" cy="634.5" r="1.5" fill="#e4e4e4" stroke="#8a8a8a" stroke-width="0.45"/>
<circle cx="57.0" cy="637.0" r="1.5" fill="#e4e4e4" stroke="#8a8a8a" stroke-width="0.45"/>
<circle cx="66.0" cy="631.0" r="1.5" fill="#e4e4e4" stroke="#8a8a8a" stroke-width="0.45"/>
<circle cx="70.0" cy="636.0" r="1.5" fill="#e4e4e4" stroke="#8a8a8a" stroke-width="0.45"/>
<circle cx="74.0" cy="635.0" r="1.5" fill="#e4e4e4" stroke="#8a8a8a" stroke-width="0.45"/>
<circle cx="78.0" cy="635.5" r="1.5" fill="#e4e4e4" stroke="#8a8a8a" stroke-width="0.45"/>
<circle cx="73.2" cy="626.6" r="1.5" fill="#e4e4e4" stroke="#8a8a8a" stroke-width="0.45"/>
<circle cx="52.0" cy="642.0" r="1.5" fill="#e4e4e4" stroke="#8a8a8a" stroke-width="0.45"/>
<circle cx="54.5" cy="645.0" r="1.5" fill="#e4e4e4" stroke="#8a8a8a" stroke-width="0.45"/>
<circle cx="118.0" cy="630.0" r="1.5" fill="#e4e4e4" stroke="#8a8a8a" stroke-width="0.45"/>
<circle cx="125.0" cy="640.0" r="1.5" fill="#e4e4e4" stroke="#8a8a8a" stroke-width="0.45"/>
<circle cx="123.0" cy="636.0" r="1.5" fill="#e4e4e4" stroke="#8a8a8a" stroke-width="0.45"/>
<circle cx="122.6" cy="627.0" r="1.5" fill="#e4e4e4" stroke="#8a8a8a" stroke-width="0.45"/>
<circle cx="124.8" cy="632.5" r="1.5" fill="#e4e4e4" stroke="#8a8a8a" stroke-width="0.45"/>
<circle cx="86.0" cy="627.0" r="1.5" fill="#e4e4e4" stroke="#8a8a8a" stroke-width="0.45"/>
<circle cx="90.5" cy="626.5" r="1.5" fill="#e4e4e4" stroke="#8a8a8a" stroke-width="0.45"/>
<line x1="37.40" y1="623.30" x2="134.90" y2="623.30" stroke="#b8b8b8" stroke-width="0.8" />
<circle cx="60.3" cy="601.2" r="1.6" fill="#5ca4dc" stroke="#2a4f70" stroke-width="0.4"/>
<circle cx="54.8" cy="620.6" r="1.6" fill="#5ca4dc" stroke="#2a4f70" stroke-width="0.4"/>
<circle cx="54.2" cy="621.6" r="1.6" fill="#5ca4dc" stroke="#2a4f70" stroke-width="0.4"/>
<circle cx="64.0" cy="620.2" r="1.6" fill="#5ca4dc" stroke="#2a4f70" stroke-width="0.4"/>
<circle cx="127.7" cy="565.4" r="1.5" fill="#cc45b0" stroke="#6e1a5c" stroke-width="0.3"/>
<circle cx="103.2" cy="570.1" r="1.5" fill="#cc45b0" stroke="#6e1a5c" stroke-width="0.3"/>
<circle cx="110.4" cy="577.3" r="1.5" fill="#cc45b0" stroke="#6e1a5c" stroke-width="0.3"/>
<circle cx="123.0" cy="577.3" r="1.5" fill="#cc45b0" stroke="#6e1a5c" stroke-width="0.3"/>
<circle cx="106.3" cy="590.4" r="1.5" fill="#cc45b0" stroke="#6e1a5c" stroke-width="0.3"/>
<circle cx="113.4" cy="590.4" r="1.5" fill="#cc45b0" stroke="#6e1a5c" stroke-width="0.3"/>
<circle cx="120.2" cy="590.4" r="1.5" fill="#cc45b0" stroke="#6e1a5c" stroke-width="0.3"/>
<circle cx="124.7" cy="596.1" r="1.5" fill="#cc45b0" stroke="#6e1a5c" stroke-width="0.3"/>
<circle cx="106.3" cy="594.0" r="1.5" fill="#cc45b0" stroke="#6e1a5c" stroke-width="0.3"/>
<circle cx="104.8" cy="594.0" r="1.5" fill="#cc45b0" stroke="#6e1a5c" stroke-width="0.3"/>
<circle cx="100.1" cy="598.5" r="1.5" fill="#cc45b0" stroke="#6e1a5c" stroke-width="0.3"/>
<circle cx="107.7" cy="598.5" r="1.5" fill="#cc45b0" stroke="#6e1a5c" stroke-width="0.3"/>
<circle cx="99.1" cy="601.8" r="1.5" fill="#cc45b0" stroke="#6e1a5c" stroke-width="0.3"/>
<circle cx="108.3" cy="601.8" r="1.5" fill="#cc45b0" stroke="#6e1a5c" stroke-width="0.3"/>
<circle cx="117.5" cy="602.2" r="1.5" fill="#cc45b0" stroke="#6e1a5c" stroke-width="0.3"/>
<circle cx="129.8" cy="601.8" r="1.5" fill="#cc45b0" stroke="#6e1a5c" stroke-width="0.3"/>
<circle cx="100.1" cy="606.3" r="1.5" fill="#cc45b0" stroke="#6e1a5c" stroke-width="0.3"/>
<circle cx="111.4" cy="605.9" r="1.5" fill="#cc45b0" stroke="#6e1a5c" stroke-width="0.3"/>
<circle cx="118.1" cy="605.3" r="1.5" fill="#cc45b0" stroke="#6e1a5c" stroke-width="0.3"/>
<circle cx="89.5" cy="621.0" r="1.5" fill="#cc45b0" stroke="#6e1a5c" stroke-width="0.3"/>
<circle cx="91.0" cy="622.5" r="1.5" fill="#cc45b0" stroke="#6e1a5c" stroke-width="0.3"/>
<circle cx="124.0" cy="622.0" r="1.5" fill="#cc45b0" stroke="#6e1a5c" stroke-width="0.3"/>
<circle cx="127.0" cy="614.0" r="1.5" fill="#cc45b0" stroke="#6e1a5c" stroke-width="0.3"/>
<circle cx="125.5" cy="616.0" r="1.5" fill="#cc45b0" stroke="#6e1a5c" stroke-width="0.3"/>
<circle cx="119.3" cy="604.3" r="1.5" fill="#cc45b0" stroke="#6e1a5c" stroke-width="0.3"/>
<circle cx="124.9" cy="616.0" r="1.5" fill="#cc45b0" stroke="#6e1a5c" stroke-width="0.3"/>
<circle cx="112.2" cy="599.1" r="1.5" fill="#cc45b0" stroke="#6e1a5c" stroke-width="0.3"/>
<circle cx="124.1" cy="615.7" r="1.5" fill="#cc45b0" stroke="#6e1a5c" stroke-width="0.3"/>
<circle cx="101.0" cy="612.9" r="1.5" fill="#cc45b0" stroke="#6e1a5c" stroke-width="0.3"/>
<circle cx="94.7" cy="613.0" r="1.5" fill="#cc45b0" stroke="#6e1a5c" stroke-width="0.3"/>
<circle cx="95.1" cy="623.6" r="1.5" fill="#cc45b0" stroke="#6e1a5c" stroke-width="0.3"/>
<circle cx="109.3" cy="614.8" r="1.5" fill="#cc45b0" stroke="#6e1a5c" stroke-width="0.3"/>
<circle cx="111.6" cy="608.1" r="1.5" fill="#cc45b0" stroke="#6e1a5c" stroke-width="0.3"/>
<circle cx="105.0" cy="622.8" r="1.5" fill="#cc45b0" stroke="#6e1a5c" stroke-width="0.3"/>
<circle cx="90.2" cy="621.9" r="1.5" fill="#cc45b0" stroke="#6e1a5c" stroke-width="0.3"/>
<circle cx="94.0" cy="612.5" r="1.5" fill="#cc45b0" stroke="#6e1a5c" stroke-width="0.3"/>
<circle cx="113.0" cy="605.0" r="1.5" fill="#cc45b0" stroke="#6e1a5c" stroke-width="0.3"/>
<circle cx="105.5" cy="622.0" r="1.5" fill="#cc45b0" stroke="#6e1a5c" stroke-width="0.3"/>
<circle cx="100.2" cy="623.8" r="1.5" fill="#cc45b0" stroke="#6e1a5c" stroke-width="0.3"/>
<circle cx="121.4" cy="600.1" r="1.5" fill="#cc45b0" stroke="#6e1a5c" stroke-width="0.3"/>
<circle cx="107.6" cy="608.3" r="1.5" fill="#cc45b0" stroke="#6e1a5c" stroke-width="0.3"/>
<circle cx="100.1" cy="613.7" r="1.5" fill="#cc45b0" stroke="#6e1a5c" stroke-width="0.3"/>
<circle cx="103.3" cy="604.6" r="1.5" fill="#cc45b0" stroke="#6e1a5c" stroke-width="0.3"/>
<circle cx="112.8" cy="616.0" r="1.5" fill="#cc45b0" stroke="#6e1a5c" stroke-width="0.3"/>
<circle cx="92.4" cy="621.2" r="1.5" fill="#cc45b0" stroke="#6e1a5c" stroke-width="0.3"/>
<circle cx="122.0" cy="621.3" r="1.5" fill="#cc45b0" stroke="#6e1a5c" stroke-width="0.3"/>
<circle cx="118.4" cy="610.0" r="1.5" fill="#cc45b0" stroke="#6e1a5c" stroke-width="0.3"/>
<circle cx="117.9" cy="620.3" r="1.5" fill="#cc45b0" stroke="#6e1a5c" stroke-width="0.3"/>
<circle cx="99.7" cy="621.1" r="1.5" fill="#cc45b0" stroke="#6e1a5c" stroke-width="0.3"/>
<circle cx="115.3" cy="623.2" r="1.5" fill="#cc45b0" stroke="#6e1a5c" stroke-width="0.3"/>
<circle cx="113.7" cy="612.1" r="1.5" fill="#cc45b0" stroke="#6e1a5c" stroke-width="0.3"/>
<circle cx="109.8" cy="619.9" r="1.5" fill="#cc45b0" stroke="#6e1a5c" stroke-width="0.3"/>
<circle cx="106.6" cy="609.8" r="1.5" fill="#cc45b0" stroke="#6e1a5c" stroke-width="0.3"/>
<circle cx="119.3" cy="619.6" r="1.5" fill="#cc45b0" stroke="#6e1a5c" stroke-width="0.3"/>
<circle cx="117.0" cy="607.2" r="1.5" fill="#cc45b0" stroke="#6e1a5c" stroke-width="0.3"/>
<circle cx="121.0" cy="610.2" r="1.5" fill="#cc45b0" stroke="#6e1a5c" stroke-width="0.3"/>
<circle cx="126.1" cy="600.7" r="1.5" fill="#cc45b0" stroke="#6e1a5c" stroke-width="0.3"/>
<circle cx="109.1" cy="621.9" r="1.5" fill="#cc45b0" stroke="#6e1a5c" stroke-width="0.3"/>
<circle cx="124.6" cy="620.2" r="1.5" fill="#cc45b0" stroke="#6e1a5c" stroke-width="0.3"/>
<circle cx="116.3" cy="605.5" r="1.5" fill="#cc45b0" stroke="#6e1a5c" stroke-width="0.3"/>
<circle cx="118.7" cy="619.9" r="1.5" fill="#cc45b0" stroke="#6e1a5c" stroke-width="0.3"/>
<circle cx="105.0" cy="611.0" r="1.5" fill="#cc45b0" stroke="#6e1a5c" stroke-width="0.3"/>
<circle cx="113.2" cy="604.2" r="1.5" fill="#cc45b0" stroke="#6e1a5c" stroke-width="0.3"/>
<circle cx="95.1" cy="619.7" r="1.5" fill="#cc45b0" stroke="#6e1a5c" stroke-width="0.3"/>
<circle cx="97.3" cy="609.7" r="1.5" fill="#cc45b0" stroke="#6e1a5c" stroke-width="0.3"/>
<circle cx="90.6" cy="614.7" r="1.5" fill="#cc45b0" stroke="#6e1a5c" stroke-width="0.3"/>
<circle cx="91.1" cy="615.7" r="1.5" fill="#cc45b0" stroke="#6e1a5c" stroke-width="0.3"/>
<circle cx="95.9" cy="612.4" r="1.5" fill="#cc45b0" stroke="#6e1a5c" stroke-width="0.3"/>
<circle cx="106.7" cy="619.2" r="1.5" fill="#cc45b0" stroke="#6e1a5c" stroke-width="0.3"/>
<circle cx="111.4" cy="622.7" r="1.5" fill="#cc45b0" stroke="#6e1a5c" stroke-width="0.3"/>
<circle cx="89.0" cy="615.3" r="1.5" fill="#cc45b0" stroke="#6e1a5c" stroke-width="0.3"/>
<circle cx="104.6" cy="621.8" r="1.5" fill="#cc45b0" stroke="#6e1a5c" stroke-width="0.3"/>
<circle cx="103.2" cy="619.2" r="1.5" fill="#cc45b0" stroke="#6e1a5c" stroke-width="0.3"/>
<circle cx="92.6" cy="616.0" r="1.5" fill="#cc45b0" stroke="#6e1a5c" stroke-width="0.3"/>
<circle cx="111.1" cy="603.4" r="1.5" fill="#cc45b0" stroke="#6e1a5c" stroke-width="0.3"/>
<circle cx="104.9" cy="609.8" r="1.5" fill="#cc45b0" stroke="#6e1a5c" stroke-width="0.3"/>
<circle cx="103.0" cy="619.0" r="1.5" fill="#cc45b0" stroke="#6e1a5c" stroke-width="0.3"/>
<circle cx="110.4" cy="604.7" r="1.5" fill="#cc45b0" stroke="#6e1a5c" stroke-width="0.3"/>
<circle cx="112.1" cy="622.5" r="1.5" fill="#cc45b0" stroke="#6e1a5c" stroke-width="0.3"/>
<circle cx="89.0" cy="618.7" r="1.5" fill="#cc45b0" stroke="#6e1a5c" stroke-width="0.3"/>
<circle cx="112.4" cy="619.4" r="1.5" fill="#cc45b0" stroke="#6e1a5c" stroke-width="0.3"/>
<circle cx="122.9" cy="617.1" r="1.5" fill="#cc45b0" stroke="#6e1a5c" stroke-width="0.3"/>
<circle cx="97.6" cy="623.5" r="1.5" fill="#cc45b0" stroke="#6e1a5c" stroke-width="0.3"/>
<circle cx="103.4" cy="604.2" r="1.5" fill="#cc45b0" stroke="#6e1a5c" stroke-width="0.3"/>
<circle cx="111.6" cy="623.6" r="1.5" fill="#cc45b0" stroke="#6e1a5c" stroke-width="0.3"/>
<circle cx="107.9" cy="615.8" r="1.5" fill="#cc45b0" stroke="#6e1a5c" stroke-width="0.3"/>
<circle cx="126.4" cy="615.4" r="1.5" fill="#cc45b0" stroke="#6e1a5c" stroke-width="0.3"/>
<circle cx="107.1" cy="619.3" r="1.5" fill="#cc45b0" stroke="#6e1a5c" stroke-width="0.3"/>
<circle cx="105.9" cy="621.2" r="1.5" fill="#cc45b0" stroke="#6e1a5c" stroke-width="0.3"/>
<circle cx="120.4" cy="618.3" r="1.5" fill="#cc45b0" stroke="#6e1a5c" stroke-width="0.3"/>
<circle cx="99.4" cy="603.0" r="1.5" fill="#cc45b0" stroke="#6e1a5c" stroke-width="0.3"/>
<circle cx="98.3" cy="613.8" r="1.5" fill="#cc45b0" stroke="#6e1a5c" stroke-width="0.3"/>
<circle cx="126.6" cy="619.2" r="1.5" fill="#cc45b0" stroke="#6e1a5c" stroke-width="0.3"/>
<circle cx="107.0" cy="609.4" r="1.5" fill="#cc45b0" stroke="#6e1a5c" stroke-width="0.3"/>
<circle cx="117.3" cy="621.0" r="1.5" fill="#cc45b0" stroke="#6e1a5c" stroke-width="0.3"/>
<circle cx="100.4" cy="616.0" r="1.5" fill="#cc45b0" stroke="#6e1a5c" stroke-width="0.3"/>
<circle cx="100.3" cy="617.5" r="1.5" fill="#cc45b0" stroke="#6e1a5c" stroke-width="0.3"/>
<circle cx="102.7" cy="609.3" r="1.5" fill="#cc45b0" stroke="#6e1a5c" stroke-width="0.3"/>
<circle cx="90.4" cy="617.4" r="1.5" fill="#cc45b0" stroke="#6e1a5c" stroke-width="0.3"/>
<circle cx="123.8" cy="608.9" r="1.5" fill="#cc45b0" stroke="#6e1a5c" stroke-width="0.3"/>
<circle cx="89.6" cy="607.8" r="1.5" fill="#cc45b0" stroke="#6e1a5c" stroke-width="0.3"/>
<circle cx="110.9" cy="609.7" r="1.5" fill="#cc45b0" stroke="#6e1a5c" stroke-width="0.3"/>
<circle cx="107.3" cy="599.5" r="1.5" fill="#cc45b0" stroke="#6e1a5c" stroke-width="0.3"/>
<circle cx="103.9" cy="605.8" r="1.5" fill="#cc45b0" stroke="#6e1a5c" stroke-width="0.3"/>
<circle cx="100.3" cy="604.6" r="1.5" fill="#cc45b0" stroke="#6e1a5c" stroke-width="0.3"/>
<circle cx="120.8" cy="607.9" r="1.5" fill="#cc45b0" stroke="#6e1a5c" stroke-width="0.3"/>
<circle cx="99.9" cy="612.2" r="1.5" fill="#cc45b0" stroke="#6e1a5c" stroke-width="0.3"/>
<circle cx="94.4" cy="618.5" r="1.5" fill="#cc45b0" stroke="#6e1a5c" stroke-width="0.3"/>
<circle cx="107.9" cy="613.8" r="1.5" fill="#cc45b0" stroke="#6e1a5c" stroke-width="0.3"/>
<circle cx="111.3" cy="604.6" r="1.5" fill="#cc45b0" stroke="#6e1a5c" stroke-width="0.3"/>
<circle cx="97.7" cy="611.1" r="1.5" fill="#cc45b0" stroke="#6e1a5c" stroke-width="0.3"/>
<circle cx="114.2" cy="620.5" r="1.5" fill="#cc45b0" stroke="#6e1a5c" stroke-width="0.3"/>
<circle cx="126.2" cy="602.3" r="1.5" fill="#cc45b0" stroke="#6e1a5c" stroke-width="0.3"/>
<circle cx="90.9" cy="606.0" r="1.5" fill="#cc45b0" stroke="#6e1a5c" stroke-width="0.3"/>
<circle cx="113.5" cy="602.4" r="1.5" fill="#cc45b0" stroke="#6e1a5c" stroke-width="0.3"/>
<circle cx="94.1" cy="622.8" r="1.5" fill="#cc45b0" stroke="#6e1a5c" stroke-width="0.3"/>
<circle cx="94.7" cy="616.9" r="1.5" fill="#cc45b0" stroke="#6e1a5c" stroke-width="0.3"/>
<circle cx="95.1" cy="604.4" r="1.5" fill="#cc45b0" stroke="#6e1a5c" stroke-width="0.3"/>
<circle cx="93.1" cy="612.8" r="1.5" fill="#cc45b0" stroke="#6e1a5c" stroke-width="0.3"/>
<circle cx="91.2" cy="620.8" r="1.5" fill="#cc45b0" stroke="#6e1a5c" stroke-width="0.3"/>
<circle cx="122.4" cy="617.1" r="1.5" fill="#cc45b0" stroke="#6e1a5c" stroke-width="0.3"/>
<circle cx="101.0" cy="617.8" r="1.5" fill="#cc45b0" stroke="#6e1a5c" stroke-width="0.3"/>
<circle cx="124.7" cy="612.7" r="1.5" fill="#cc45b0" stroke="#6e1a5c" stroke-width="0.3"/>
<circle cx="115.5" cy="619.4" r="1.5" fill="#cc45b0" stroke="#6e1a5c" stroke-width="0.3"/>
<circle cx="108.2" cy="601.0" r="1.5" fill="#cc45b0" stroke="#6e1a5c" stroke-width="0.3"/>
<circle cx="112.6" cy="618.5" r="1.5" fill="#cc45b0" stroke="#6e1a5c" stroke-width="0.3"/>
<circle cx="98.7" cy="608.7" r="1.5" fill="#cc45b0" stroke="#6e1a5c" stroke-width="0.3"/>
<circle cx="94.1" cy="616.4" r="1.5" fill="#cc45b0" stroke="#6e1a5c" stroke-width="0.3"/>
<circle cx="117.0" cy="620.4" r="1.5" fill="#cc45b0" stroke="#6e1a5c" stroke-width="0.3"/>
<circle cx="113.9" cy="619.9" r="1.5" fill="#cc45b0" stroke="#6e1a5c" stroke-width="0.3"/>
<circle cx="92.5" cy="619.0" r="1.5" fill="#cc45b0" stroke="#6e1a5c" stroke-width="0.3"/>
<circle cx="98.1" cy="608.3" r="1.5" fill="#cc45b0" stroke="#6e1a5c" stroke-width="0.3"/>
<circle cx="101.3" cy="604.3" r="1.5" fill="#cc45b0" stroke="#6e1a5c" stroke-width="0.3"/>
<circle cx="116.6" cy="613.8" r="1.5" fill="#cc45b0" stroke="#6e1a5c" stroke-width="0.3"/>
<circle cx="125.2" cy="606.0" r="1.5" fill="#cc45b0" stroke="#6e1a5c" stroke-width="0.3"/>
<circle cx="93.4" cy="602.0" r="1.5" fill="#cc45b0" stroke="#6e1a5c" stroke-width="0.3"/>
<circle cx="120.2" cy="619.4" r="1.5" fill="#cc45b0" stroke="#6e1a5c" stroke-width="0.3"/>
<circle cx="102.5" cy="615.9" r="1.5" fill="#cc45b0" stroke="#6e1a5c" stroke-width="0.3"/>
<circle cx="112.3" cy="616.6" r="1.5" fill="#cc45b0" stroke="#6e1a5c" stroke-width="0.3"/>
<circle cx="94.2" cy="609.8" r="1.5" fill="#cc45b0" stroke="#6e1a5c" stroke-width="0.3"/>
<circle cx="119.6" cy="622.0" r="1.5" fill="#cc45b0" stroke="#6e1a5c" stroke-width="0.3"/>
<circle cx="108.7" cy="618.8" r="1.5" fill="#cc45b0" stroke="#6e1a5c" stroke-width="0.3"/>
<circle cx="117.1" cy="613.1" r="1.5" fill="#cc45b0" stroke="#6e1a5c" stroke-width="0.3"/>
<circle cx="90.3" cy="612.5" r="1.5" fill="#cc45b0" stroke="#6e1a5c" stroke-width="0.3"/>
<circle cx="122.8" cy="621.0" r="1.5" fill="#cc45b0" stroke="#6e1a5c" stroke-width="0.3"/>
<circle cx="89.0" cy="622.5" r="1.5" fill="#cc45b0" stroke="#6e1a5c" stroke-width="0.3"/>
<circle cx="112.5" cy="617.5" r="1.5" fill="#cc45b0" stroke="#6e1a5c" stroke-width="0.3"/>
<circle cx="92.8" cy="613.9" r="1.5" fill="#cc45b0" stroke="#6e1a5c" stroke-width="0.3"/>
<circle cx="103.2" cy="622.4" r="1.5" fill="#cc45b0" stroke="#6e1a5c" stroke-width="0.3"/>
<circle cx="94.8" cy="615.3" r="1.5" fill="#cc45b0" stroke="#6e1a5c" stroke-width="0.3"/>
<circle cx="95.1" cy="614.8" r="1.5" fill="#cc45b0" stroke="#6e1a5c" stroke-width="0.3"/>
<circle cx="107.3" cy="622.9" r="1.5" fill="#cc45b0" stroke="#6e1a5c" stroke-width="0.3"/>
<circle cx="103.0" cy="602.2" r="1.5" fill="#cc45b0" stroke="#6e1a5c" stroke-width="0.3"/>
<circle cx="114.6" cy="623.2" r="1.5" fill="#cc45b0" stroke="#6e1a5c" stroke-width="0.3"/>
<line x1="37.40" y1="559.30" x2="37.40" y2="667.70" stroke="#333" stroke-width="1.1" />
<line x1="36.90" y1="667.20" x2="134.90" y2="667.20" stroke="#333" stroke-width="1.1" />
<line x1="35.40" y1="569.90" x2="37.40" y2="569.90" stroke="#333" stroke-width="0.8" />
<text transform="translate(33.80,569.90) rotate(-90)" font-size="8.8" text-anchor="middle" fill="#333" stroke="#333" stroke-width="0.16">3</text>
<line x1="35.40" y1="601.80" x2="37.40" y2="601.80" stroke="#333" stroke-width="0.8" />
<text transform="translate(33.80,601.80) rotate(-90)" font-size="8.8" text-anchor="middle" fill="#333" stroke="#333" stroke-width="0.16">2</text>
<line x1="35.40" y1="633.50" x2="37.40" y2="633.50" stroke="#333" stroke-width="0.8" />
<text transform="translate(33.80,633.50) rotate(-90)" font-size="8.8" text-anchor="middle" fill="#333" stroke="#333" stroke-width="0.16">1</text>
<line x1="35.40" y1="665.60" x2="37.40" y2="665.60" stroke="#333" stroke-width="0.8" />
<text transform="translate(33.80,665.60) rotate(-90)" font-size="8.8" text-anchor="middle" fill="#333" stroke="#333" stroke-width="0.16">0</text>
<line x1="45.40" y1="667.20" x2="45.40" y2="669.20" stroke="#333" stroke-width="0.8" />
<line x1="64.40" y1="667.20" x2="64.40" y2="669.20" stroke="#333" stroke-width="0.8" />
<line x1="83.40" y1="667.20" x2="83.40" y2="669.20" stroke="#333" stroke-width="0.8" />
<line x1="102.20" y1="667.20" x2="102.20" y2="669.20" stroke="#333" stroke-width="0.8" />
<line x1="121.60" y1="667.20" x2="121.60" y2="669.20" stroke="#333" stroke-width="0.8" />
<text x="45.40" y="677.11" font-size="9" text-anchor="middle" fill="#333" stroke="#333" stroke-width="0.16">-20</text>
<text x="64.40" y="677.11" font-size="9" text-anchor="middle" fill="#333" stroke="#333" stroke-width="0.16">-10</text>
<text x="83.40" y="677.11" font-size="9" text-anchor="middle" fill="#333" stroke="#333" stroke-width="0.16">0</text>
<text x="102.20" y="677.11" font-size="9" text-anchor="middle" fill="#333" stroke="#333" stroke-width="0.16">10</text>
<text x="121.60" y="677.11" font-size="9" text-anchor="middle" fill="#333" stroke="#333" stroke-width="0.16">20</text>
<text x="38.40" y="566.90" font-size="8.4" text-anchor="start" fill="#1a1a1a" stroke="#1a1a1a" stroke-width="0.16">Hippocampus</text>
<line x1="107.50" y1="587.00" x2="107.50" y2="606.00" stroke="#777" stroke-width="0.5" />
<text x="107.80" y="586.15" font-size="6.8" text-anchor="middle" fill="#333" stroke="#333" stroke-width="0.12" font-style="italic">GRIA3(p.R775G)</text>
<text x="86.20" y="688.05" font-size="10" text-anchor="middle" fill="#1a1a1a" stroke="#1a1a1a" stroke-width="0.16">Delta editing level (%)</text>
<text transform="translate(14.48,493.20) rotate(-90)" font-size="9.8" text-anchor="middle" fill="#1a1a1a" stroke="#1a1a1a" stroke-width="0.16"><tspan>-log</tspan><tspan font-size="6.86" dy="2.45">10</tspan><tspan dy="-2.45">Adj. p-value</tspan></text>
<text transform="translate(14.48,613.00) rotate(-90)" font-size="9.8" text-anchor="middle" fill="#1a1a1a" stroke="#1a1a1a" stroke-width="0.16"><tspan>-log</tspan><tspan font-size="6.86" dy="2.45">10</tspan><tspan dy="-2.45">Adj. p-value</tspan></text>
<text x="146.50" y="440.00" font-size="22.5" font-weight="bold" fill="#000" stroke="#000" stroke-width="0.35">G</text>
<line x1="182.85" y1="428.20" x2="182.85" y2="439.90" stroke="#8a8a8a" stroke-width="0.8" />
<rect x="177.30" y="430.70" width="11.10" height="6.70" fill="#6aacde" stroke="#555" stroke-width="0.4" />
<line x1="177.30" y1="434.05" x2="188.40" y2="434.05" stroke="#4b81ad" stroke-width="1" />
<text x="190.90" y="436.78" font-size="7.9" text-anchor="start" fill="#1a1a1a" stroke="#1a1a1a" stroke-width="0.16">Control</text>
<line x1="238.95" y1="428.20" x2="238.95" y2="439.90" stroke="#8a8a8a" stroke-width="0.8" />
<rect x="233.40" y="430.70" width="11.10" height="6.70" fill="#2c2b6a" stroke="#555" stroke-width="0.4" />
<line x1="233.40" y1="434.05" x2="244.50" y2="434.05" stroke="#b4b4d4" stroke-width="1" />
<text x="247.00" y="436.78" font-size="7.9" text-anchor="start" fill="#1a1a1a" stroke="#1a1a1a" stroke-width="0.16">T21</text>
<line x1="184.60" y1="455.50" x2="304.30" y2="455.50" stroke="#111" stroke-width="1.2" />
<line x1="403.00" y1="455.50" x2="515.00" y2="455.50" stroke="#111" stroke-width="1.2" />
<text x="308.80" y="459.48" font-size="10.1" text-anchor="start" fill="#111" stroke="#111" stroke-width="0.16">RNA Recoding Sites</text>
<text transform="translate(158.02,541.30) rotate(-90)" font-size="9.9" text-anchor="middle" fill="#1a1a1a" stroke="#1a1a1a" stroke-width="0.16">Editing level (%)</text>
<line x1="185.20" y1="471.40" x2="273.70" y2="471.40" stroke="#ebebeb" stroke-width="0.6" />
<line x1="185.20" y1="491.30" x2="273.70" y2="491.30" stroke="#ebebeb" stroke-width="0.6" />
<line x1="185.20" y1="511.40" x2="273.70" y2="511.40" stroke="#ebebeb" stroke-width="0.6" />
<line x1="185.20" y1="531.30" x2="273.70" y2="531.30" stroke="#ebebeb" stroke-width="0.6" />
<line x1="207.30" y1="468.30" x2="207.30" y2="537.40" stroke="#ebebeb" stroke-width="0.6" />
<line x1="251.80" y1="468.30" x2="251.80" y2="537.40" stroke="#ebebeb" stroke-width="0.6" />
<line x1="185.20" y1="468.30" x2="185.20" y2="537.90" stroke="#8a8a8a" stroke-width="1.2" />
<line x1="184.70" y1="537.40" x2="273.70" y2="537.40" stroke="#8a8a8a" stroke-width="1.2" />
<line x1="183.20" y1="471.40" x2="185.20" y2="471.40" stroke="#8a8a8a" stroke-width="0.8" />
<text transform="translate(181.60,471.40) rotate(-90)" font-size="8.3" text-anchor="middle" fill="#333" stroke="#333" stroke-width="0.16">80</text>
<line x1="183.20" y1="491.30" x2="185.20" y2="491.30" stroke="#8a8a8a" stroke-width="0.8" />
<text transform="translate(181.60,491.30) rotate(-90)" font-size="8.3" text-anchor="middle" fill="#333" stroke="#333" stroke-width="0.16">60</text>
<line x1="183.20" y1="511.40" x2="185.20" y2="511.40" stroke="#8a8a8a" stroke-width="0.8" />
<text transform="translate(181.60,511.40) rotate(-90)" font-size="8.3" text-anchor="middle" fill="#333" stroke="#333" stroke-width="0.16">40</text>
<line x1="183.20" y1="531.30" x2="185.20" y2="531.30" stroke="#8a8a8a" stroke-width="0.8" />
<text transform="translate(181.60,531.30) rotate(-90)" font-size="8.3" text-anchor="middle" fill="#333" stroke="#333" stroke-width="0.16">20</text>
<line x1="207.30" y1="537.40" x2="207.30" y2="539.40" stroke="#8a8a8a" stroke-width="0.8" />
<line x1="251.80" y1="537.40" x2="251.80" y2="539.40" stroke="#8a8a8a" stroke-width="0.8" />
<line x1="197.50" y1="494.90" x2="197.50" y2="511.00" stroke="#8a8a8a" stroke-width="0.8" />
<line x1="197.50" y1="521.80" x2="197.50" y2="534.30" stroke="#8a8a8a" stroke-width="0.8" />
<rect x="188.00" y="511.00" width="19.00" height="10.80" fill="#6aacde" stroke="#555" stroke-width="0.4" />
<line x1="188.00" y1="515.30" x2="207.00" y2="515.30" stroke="#4b81ad" stroke-width="1.1" />
<circle cx="194.17" cy="518.22" r="0.70" fill="#111"/>
<circle cx="192.13" cy="506.64" r="0.70" fill="#111"/>
<circle cx="193.20" cy="511.27" r="0.70" fill="#111"/>
<circle cx="205.06" cy="515.33" r="0.70" fill="#111"/>
<circle cx="196.99" cy="514.37" r="0.70" fill="#111"/>
<circle cx="200.98" cy="518.91" r="0.70" fill="#111"/>
<circle cx="200.25" cy="513.60" r="0.70" fill="#111"/>
<circle cx="196.39" cy="529.87" r="0.70" fill="#111"/>
<circle cx="190.49" cy="521.88" r="0.70" fill="#111"/>
<circle cx="190.24" cy="526.93" r="0.70" fill="#111"/>
<circle cx="197.80" cy="510.83" r="0.70" fill="#111"/>
<circle cx="190.66" cy="512.01" r="0.70" fill="#111"/>
<circle cx="204.45" cy="527.94" r="0.70" fill="#111"/>
<circle cx="190.33" cy="513.63" r="0.70" fill="#111"/>
<circle cx="193.60" cy="511.65" r="0.70" fill="#111"/>
<circle cx="190.34" cy="514.30" r="0.70" fill="#111"/>
<circle cx="192.38" cy="521.49" r="0.70" fill="#111"/>
<circle cx="198.00" cy="501.38" r="0.70" fill="#111"/>
<circle cx="191.24" cy="514.39" r="0.70" fill="#111"/>
<circle cx="199.07" cy="509.73" r="0.70" fill="#111"/>
<circle cx="189.80" cy="524.48" r="0.70" fill="#111"/>
<circle cx="198.64" cy="502.73" r="0.70" fill="#111"/>
<circle cx="201.10" cy="517.75" r="0.70" fill="#111"/>
<circle cx="196.69" cy="525.65" r="0.70" fill="#111"/>
<line x1="217.50" y1="482.60" x2="217.50" y2="494.00" stroke="#8a8a8a" stroke-width="0.8" />
<line x1="217.50" y1="502.20" x2="217.50" y2="512.40" stroke="#8a8a8a" stroke-width="0.8" />
<rect x="208.00" y="494.00" width="19.00" height="8.20" fill="#2c2b6a" stroke="#555" stroke-width="0.4" />
<line x1="208.00" y1="498.70" x2="227.00" y2="498.70" stroke="#b4b4d4" stroke-width="1.1" />
<circle cx="211.37" cy="504.48" r="0.70" fill="#111"/>
<circle cx="221.85" cy="494.72" r="0.70" fill="#111"/>
<circle cx="211.59" cy="505.39" r="0.70" fill="#111"/>
<circle cx="210.87" cy="496.01" r="0.70" fill="#111"/>
<circle cx="213.44" cy="498.73" r="0.70" fill="#111"/>
<circle cx="210.29" cy="499.74" r="0.70" fill="#111"/>
<circle cx="215.49" cy="496.35" r="0.70" fill="#111"/>
<circle cx="214.53" cy="497.45" r="0.70" fill="#111"/>
<circle cx="223.82" cy="507.87" r="0.70" fill="#111"/>
<circle cx="218.69" cy="491.26" r="0.70" fill="#111"/>
<circle cx="219.98" cy="500.70" r="0.70" fill="#111"/>
<circle cx="220.71" cy="509.63" r="0.70" fill="#111"/>
<circle cx="215.62" cy="500.66" r="0.70" fill="#111"/>
<circle cx="212.22" cy="494.54" r="0.70" fill="#111"/>
<circle cx="214.08" cy="499.54" r="0.70" fill="#111"/>
<circle cx="218.41" cy="500.26" r="0.70" fill="#111"/>
<circle cx="211.60" cy="494.42" r="0.70" fill="#111"/>
<circle cx="224.67" cy="501.05" r="0.70" fill="#111"/>
<line x1="242.00" y1="486.70" x2="242.00" y2="504.20" stroke="#8a8a8a" stroke-width="0.8" />
<line x1="242.00" y1="518.20" x2="242.00" y2="533.70" stroke="#8a8a8a" stroke-width="0.8" />
<rect x="232.50" y="504.20" width="19.00" height="14.00" fill="#6aacde" stroke="#555" stroke-width="0.4" />
<line x1="232.50" y1="511.80" x2="251.50" y2="511.80" stroke="#4b81ad" stroke-width="1.1" />
<circle cx="240.87" cy="490.74" r="0.70" fill="#111"/>
<circle cx="234.22" cy="508.83" r="0.70" fill="#111"/>
<circle cx="245.62" cy="501.17" r="0.70" fill="#111"/>
<circle cx="236.75" cy="511.62" r="0.70" fill="#111"/>
<circle cx="249.00" cy="494.51" r="0.70" fill="#111"/>
<circle cx="239.08" cy="520.03" r="0.70" fill="#111"/>
<circle cx="240.95" cy="525.35" r="0.70" fill="#111"/>
<circle cx="248.96" cy="514.95" r="0.70" fill="#111"/>
<circle cx="243.53" cy="503.67" r="0.70" fill="#111"/>
<circle cx="240.71" cy="515.60" r="0.70" fill="#111"/>
<circle cx="234.54" cy="517.89" r="0.70" fill="#111"/>
<circle cx="248.09" cy="495.13" r="0.70" fill="#111"/>
<circle cx="238.44" cy="507.22" r="0.70" fill="#111"/>
<circle cx="239.72" cy="512.07" r="0.70" fill="#111"/>
<circle cx="239.63" cy="521.94" r="0.70" fill="#111"/>
<circle cx="247.43" cy="517.95" r="0.70" fill="#111"/>
<circle cx="240.42" cy="527.78" r="0.70" fill="#111"/>
<circle cx="241.84" cy="515.84" r="0.70" fill="#111"/>
<circle cx="235.60" cy="506.57" r="0.70" fill="#111"/>
<circle cx="237.20" cy="502.45" r="0.70" fill="#111"/>
<circle cx="244.92" cy="523.22" r="0.70" fill="#111"/>
<circle cx="246.79" cy="527.86" r="0.70" fill="#111"/>
<circle cx="242.19" cy="504.34" r="0.70" fill="#111"/>
<circle cx="240.23" cy="489.93" r="0.70" fill="#111"/>
<line x1="262.00" y1="473.00" x2="262.00" y2="482.60" stroke="#8a8a8a" stroke-width="0.8" />
<line x1="262.00" y1="508.00" x2="262.00" y2="522.60" stroke="#8a8a8a" stroke-width="0.8" />
<rect x="252.50" y="482.60" width="19.00" height="25.40" fill="#2c2b6a" stroke="#555" stroke-width="0.4" />
<line x1="252.50" y1="491.00" x2="271.50" y2="491.00" stroke="#b4b4d4" stroke-width="1.1" />
<circle cx="259.00" cy="483.29" r="0.70" fill="#111"/>
<circle cx="265.25" cy="494.69" r="0.70" fill="#111"/>
<circle cx="267.04" cy="507.55" r="0.70" fill="#111"/>
<circle cx="264.72" cy="518.11" r="0.70" fill="#111"/>
<circle cx="259.81" cy="480.67" r="0.70" fill="#111"/>
<circle cx="262.35" cy="479.52" r="0.70" fill="#111"/>
<circle cx="255.41" cy="484.57" r="0.70" fill="#111"/>
<circle cx="266.14" cy="497.34" r="0.70" fill="#111"/>
<circle cx="268.85" cy="475.95" r="0.70" fill="#111"/>
<circle cx="255.17" cy="500.79" r="0.70" fill="#111"/>
<circle cx="269.29" cy="517.78" r="0.70" fill="#111"/>
<circle cx="267.40" cy="518.04" r="0.70" fill="#111"/>
<circle cx="257.35" cy="478.87" r="0.70" fill="#111"/>
<circle cx="257.84" cy="481.60" r="0.70" fill="#111"/>
<circle cx="260.30" cy="515.94" r="0.70" fill="#111"/>
<circle cx="256.86" cy="492.51" r="0.70" fill="#111"/>
<circle cx="268.55" cy="481.64" r="0.70" fill="#111"/>
<circle cx="255.76" cy="476.71" r="0.70" fill="#111"/>
<text transform="translate(207.70,472.62) scale(0.9,1)" font-size="7.6" text-anchor="middle" fill="#222" stroke="#222" stroke-width="0.12">p=0.001</text>
<path d="M197.30,489.00V473.60H217.60V484.70" fill="none" stroke="#a0a0a0" stroke-width="0.8"/>
<text transform="translate(251.50,465.42) scale(0.9,1)" font-size="7.6" text-anchor="middle" fill="#222" stroke="#222" stroke-width="0.12">p=0.05</text>
<path d="M241.80,480.00V468.60H262.00V474.00" fill="none" stroke="#a0a0a0" stroke-width="0.8"/>
<text transform="translate(171.23,499.85) rotate(-90)" font-size="8.5" text-anchor="middle" fill="#1a1a1a" stroke="#1a1a1a" stroke-width="0.16"><tspan font-style="italic">GRIK2</tspan><tspan> (p.Q621R)</tspan></text>
<line x1="305.20" y1="481.30" x2="394.30" y2="481.30" stroke="#ebebeb" stroke-width="0.6" />
<line x1="305.20" y1="500.50" x2="394.30" y2="500.50" stroke="#ebebeb" stroke-width="0.6" />
<line x1="305.20" y1="520.00" x2="394.30" y2="520.00" stroke="#ebebeb" stroke-width="0.6" />
<line x1="328.00" y1="468.60" x2="328.00" y2="537.60" stroke="#ebebeb" stroke-width="0.6" />
<line x1="372.60" y1="468.60" x2="372.60" y2="537.60" stroke="#ebebeb" stroke-width="0.6" />
<line x1="305.20" y1="468.60" x2="305.20" y2="538.10" stroke="#8a8a8a" stroke-width="1.2" />
<line x1="304.70" y1="537.60" x2="394.30" y2="537.60" stroke="#8a8a8a" stroke-width="1.2" />
<line x1="303.20" y1="481.30" x2="305.20" y2="481.30" stroke="#8a8a8a" stroke-width="0.8" />
<text transform="translate(301.60,481.30) rotate(-90)" font-size="8.3" text-anchor="middle" fill="#333" stroke="#333" stroke-width="0.16">60</text>
<line x1="303.20" y1="500.50" x2="305.20" y2="500.50" stroke="#8a8a8a" stroke-width="0.8" />
<text transform="translate(301.60,500.50) rotate(-90)" font-size="8.3" text-anchor="middle" fill="#333" stroke="#333" stroke-width="0.16">40</text>
<line x1="303.20" y1="520.00" x2="305.20" y2="520.00" stroke="#8a8a8a" stroke-width="0.8" />
<text transform="translate(301.60,520.00) rotate(-90)" font-size="8.3" text-anchor="middle" fill="#333" stroke="#333" stroke-width="0.16">20</text>
<line x1="328.00" y1="537.60" x2="328.00" y2="539.60" stroke="#8a8a8a" stroke-width="0.8" />
<line x1="372.60" y1="537.60" x2="372.60" y2="539.60" stroke="#8a8a8a" stroke-width="0.8" />
<line x1="318.20" y1="520.00" x2="318.20" y2="525.00" stroke="#8a8a8a" stroke-width="0.8" />
<line x1="318.20" y1="531.60" x2="318.20" y2="536.00" stroke="#8a8a8a" stroke-width="0.8" />
<rect x="308.70" y="525.00" width="19.00" height="6.60" fill="#6aacde" stroke="#555" stroke-width="0.4" />
<line x1="308.70" y1="527.90" x2="327.70" y2="527.90" stroke="#4b81ad" stroke-width="1.1" />
<circle cx="321.64" cy="522.77" r="0.70" fill="#111"/>
<circle cx="313.61" cy="530.85" r="0.70" fill="#111"/>
<circle cx="320.15" cy="526.77" r="0.70" fill="#111"/>
<circle cx="320.32" cy="532.34" r="0.70" fill="#111"/>
<circle cx="311.22" cy="532.59" r="0.70" fill="#111"/>
<circle cx="324.24" cy="524.15" r="0.70" fill="#111"/>
<circle cx="317.01" cy="522.08" r="0.70" fill="#111"/>
<circle cx="315.05" cy="524.52" r="0.70" fill="#111"/>
<circle cx="325.65" cy="529.00" r="0.70" fill="#111"/>
<circle cx="312.06" cy="525.20" r="0.70" fill="#111"/>
<circle cx="313.15" cy="523.02" r="0.70" fill="#111"/>
<circle cx="320.54" cy="528.92" r="0.70" fill="#111"/>
<circle cx="311.20" cy="523.64" r="0.70" fill="#111"/>
<circle cx="325.50" cy="530.51" r="0.70" fill="#111"/>
<circle cx="320.52" cy="530.61" r="0.70" fill="#111"/>
<circle cx="321.34" cy="532.61" r="0.70" fill="#111"/>
<circle cx="311.83" cy="533.70" r="0.70" fill="#111"/>
<circle cx="311.70" cy="526.03" r="0.70" fill="#111"/>
<circle cx="311.89" cy="529.06" r="0.70" fill="#111"/>
<circle cx="323.25" cy="534.84" r="0.70" fill="#111"/>
<circle cx="324.97" cy="534.74" r="0.70" fill="#111"/>
<circle cx="325.62" cy="534.35" r="0.70" fill="#111"/>
<circle cx="311.25" cy="525.68" r="0.70" fill="#111"/>
<circle cx="317.54" cy="527.47" r="0.70" fill="#111"/>
<line x1="338.20" y1="517.00" x2="338.20" y2="520.30" stroke="#8a8a8a" stroke-width="0.8" />
<line x1="338.20" y1="526.80" x2="338.20" y2="529.50" stroke="#8a8a8a" stroke-width="0.8" />
<rect x="328.70" y="520.30" width="19.00" height="6.50" fill="#2c2b6a" stroke="#555" stroke-width="0.4" />
<line x1="328.70" y1="524.00" x2="347.70" y2="524.00" stroke="#b4b4d4" stroke-width="1.1" />
<circle cx="331.56" cy="519.45" r="0.70" fill="#111"/>
<circle cx="336.21" cy="523.83" r="0.70" fill="#111"/>
<circle cx="336.20" cy="524.18" r="0.70" fill="#111"/>
<circle cx="345.58" cy="518.64" r="0.70" fill="#111"/>
<circle cx="342.35" cy="526.99" r="0.70" fill="#111"/>
<circle cx="332.08" cy="517.98" r="0.70" fill="#111"/>
<circle cx="341.99" cy="522.60" r="0.70" fill="#111"/>
<circle cx="334.86" cy="527.83" r="0.70" fill="#111"/>
<circle cx="342.81" cy="524.83" r="0.70" fill="#111"/>
<circle cx="335.60" cy="517.98" r="0.70" fill="#111"/>
<circle cx="331.02" cy="528.20" r="0.70" fill="#111"/>
<circle cx="340.85" cy="521.85" r="0.70" fill="#111"/>
<circle cx="331.75" cy="522.06" r="0.70" fill="#111"/>
<circle cx="338.86" cy="526.70" r="0.70" fill="#111"/>
<circle cx="331.69" cy="526.37" r="0.70" fill="#111"/>
<circle cx="330.30" cy="525.57" r="0.70" fill="#111"/>
<circle cx="330.48" cy="527.77" r="0.70" fill="#111"/>
<circle cx="336.33" cy="523.28" r="0.70" fill="#111"/>
<line x1="362.80" y1="492.00" x2="362.80" y2="521.10" stroke="#8a8a8a" stroke-width="0.8" />
<line x1="362.80" y1="526.80" x2="362.80" y2="533.00" stroke="#8a8a8a" stroke-width="0.8" />
<rect x="353.30" y="521.10" width="19.00" height="5.70" fill="#6aacde" stroke="#555" stroke-width="0.4" />
<line x1="353.30" y1="524.00" x2="372.30" y2="524.00" stroke="#4b81ad" stroke-width="1.1" />
<circle cx="358.31" cy="493.55" r="0.70" fill="#111"/>
<circle cx="362.35" cy="529.54" r="0.70" fill="#111"/>
<circle cx="370.06" cy="522.69" r="0.70" fill="#111"/>
<circle cx="355.67" cy="506.78" r="0.70" fill="#111"/>
<circle cx="361.76" cy="525.54" r="0.70" fill="#111"/>
<circle cx="365.12" cy="518.26" r="0.70" fill="#111"/>
<circle cx="355.20" cy="493.05" r="0.70" fill="#111"/>
<circle cx="368.77" cy="529.36" r="0.70" fill="#111"/>
<circle cx="360.86" cy="532.48" r="0.70" fill="#111"/>
<circle cx="369.05" cy="531.49" r="0.70" fill="#111"/>
<circle cx="361.56" cy="525.55" r="0.70" fill="#111"/>
<circle cx="358.28" cy="532.96" r="0.70" fill="#111"/>
<circle cx="362.32" cy="522.64" r="0.70" fill="#111"/>
<circle cx="356.79" cy="524.90" r="0.70" fill="#111"/>
<circle cx="356.00" cy="523.71" r="0.70" fill="#111"/>
<circle cx="368.95" cy="526.22" r="0.70" fill="#111"/>
<circle cx="368.04" cy="521.21" r="0.70" fill="#111"/>
<circle cx="357.00" cy="530.51" r="0.70" fill="#111"/>
<circle cx="369.78" cy="526.35" r="0.70" fill="#111"/>
<circle cx="361.67" cy="522.15" r="0.70" fill="#111"/>
<circle cx="360.77" cy="525.40" r="0.70" fill="#111"/>
<circle cx="363.09" cy="527.74" r="0.70" fill="#111"/>
<circle cx="356.26" cy="531.15" r="0.70" fill="#111"/>
<circle cx="360.80" cy="524.77" r="0.70" fill="#111"/>
<line x1="382.80" y1="499.00" x2="382.80" y2="508.20" stroke="#8a8a8a" stroke-width="0.8" />
<line x1="382.80" y1="517.40" x2="382.80" y2="527.00" stroke="#8a8a8a" stroke-width="0.8" />
<rect x="373.30" y="508.20" width="19.00" height="9.20" fill="#2c2b6a" stroke="#555" stroke-width="0.4" />
<line x1="373.30" y1="512.00" x2="392.30" y2="512.00" stroke="#b4b4d4" stroke-width="1.1" />
<circle cx="384.10" cy="512.59" r="0.70" fill="#111"/>
<circle cx="383.90" cy="519.71" r="0.70" fill="#111"/>
<circle cx="386.49" cy="513.22" r="0.70" fill="#111"/>
<circle cx="386.08" cy="512.63" r="0.70" fill="#111"/>
<circle cx="381.50" cy="515.29" r="0.70" fill="#111"/>
<circle cx="387.47" cy="504.62" r="0.70" fill="#111"/>
<circle cx="375.43" cy="512.81" r="0.70" fill="#111"/>
<circle cx="375.16" cy="511.38" r="0.70" fill="#111"/>
<circle cx="385.27" cy="512.34" r="0.70" fill="#111"/>
<circle cx="383.28" cy="520.96" r="0.70" fill="#111"/>
<circle cx="389.98" cy="507.62" r="0.70" fill="#111"/>
<circle cx="377.48" cy="520.30" r="0.70" fill="#111"/>
<circle cx="381.98" cy="518.14" r="0.70" fill="#111"/>
<circle cx="381.02" cy="503.86" r="0.70" fill="#111"/>
<circle cx="383.63" cy="520.27" r="0.70" fill="#111"/>
<circle cx="380.42" cy="518.72" r="0.70" fill="#111"/>
<circle cx="378.13" cy="513.41" r="0.70" fill="#111"/>
<circle cx="376.22" cy="508.75" r="0.70" fill="#111"/>
<text transform="translate(328.00,498.82) scale(0.9,1)" font-size="7.6" text-anchor="middle" fill="#222" stroke="#222" stroke-width="0.12">p=0.009</text>
<path d="M318.00,518.00V501.40H338.30V515.00" fill="none" stroke="#a0a0a0" stroke-width="0.8"/>
<text transform="translate(372.00,488.92) scale(0.9,1)" font-size="7.6" text-anchor="middle" fill="#222" stroke="#222" stroke-width="0.12">p=0.07</text>
<path d="M362.30,508.00V490.70H382.60V500.00" fill="none" stroke="#a0a0a0" stroke-width="0.8"/>
<text transform="translate(292.13,500.10) rotate(-90)" font-size="8.5" text-anchor="middle" fill="#1a1a1a" stroke="#1a1a1a" stroke-width="0.16"><tspan font-style="italic">GRIA2</tspan><tspan> (p.R764G)</tspan></text>
<line x1="426.30" y1="484.60" x2="515.00" y2="484.60" stroke="#ebebeb" stroke-width="0.6" />
<line x1="426.30" y1="502.10" x2="515.00" y2="502.10" stroke="#ebebeb" stroke-width="0.6" />
<line x1="426.30" y1="519.60" x2="515.00" y2="519.60" stroke="#ebebeb" stroke-width="0.6" />
<line x1="426.30" y1="537.10" x2="515.00" y2="537.10" stroke="#ebebeb" stroke-width="0.6" />
<line x1="448.00" y1="468.60" x2="448.00" y2="537.60" stroke="#ebebeb" stroke-width="0.6" />
<line x1="492.60" y1="468.60" x2="492.60" y2="537.60" stroke="#ebebeb" stroke-width="0.6" />
<line x1="426.30" y1="468.60" x2="426.30" y2="538.10" stroke="#8a8a8a" stroke-width="1.2" />
<line x1="425.80" y1="537.60" x2="515.00" y2="537.60" stroke="#8a8a8a" stroke-width="1.2" />
<line x1="424.30" y1="484.60" x2="426.30" y2="484.60" stroke="#8a8a8a" stroke-width="0.8" />
<text transform="translate(422.70,484.60) rotate(-90)" font-size="8.3" text-anchor="middle" fill="#333" stroke="#333" stroke-width="0.16">60</text>
<line x1="424.30" y1="502.10" x2="426.30" y2="502.10" stroke="#8a8a8a" stroke-width="0.8" />
<text transform="translate(422.70,502.10) rotate(-90)" font-size="8.3" text-anchor="middle" fill="#333" stroke="#333" stroke-width="0.16">40</text>
<line x1="424.30" y1="519.60" x2="426.30" y2="519.60" stroke="#8a8a8a" stroke-width="0.8" />
<text transform="translate(422.70,519.60) rotate(-90)" font-size="8.3" text-anchor="middle" fill="#333" stroke="#333" stroke-width="0.16">20</text>
<line x1="424.30" y1="537.10" x2="426.30" y2="537.10" stroke="#8a8a8a" stroke-width="0.8" />
<text transform="translate(422.70,537.10) rotate(-90)" font-size="8.3" text-anchor="middle" fill="#333" stroke="#333" stroke-width="0.16">0</text>
<line x1="448.00" y1="537.60" x2="448.00" y2="539.60" stroke="#8a8a8a" stroke-width="0.8" />
<line x1="492.60" y1="537.60" x2="492.60" y2="539.60" stroke="#8a8a8a" stroke-width="0.8" />
<line x1="438.20" y1="522.00" x2="438.20" y2="527.90" stroke="#8a8a8a" stroke-width="0.8" />
<line x1="438.20" y1="532.70" x2="438.20" y2="536.50" stroke="#8a8a8a" stroke-width="0.8" />
<rect x="428.70" y="527.90" width="19.00" height="4.80" fill="#6aacde" stroke="#555" stroke-width="0.4" />
<line x1="428.70" y1="530.50" x2="447.70" y2="530.50" stroke="#4b81ad" stroke-width="1.1" />
<circle cx="445.66" cy="528.59" r="0.70" fill="#111"/>
<circle cx="442.73" cy="529.22" r="0.70" fill="#111"/>
<circle cx="443.45" cy="523.55" r="0.70" fill="#111"/>
<circle cx="440.26" cy="524.29" r="0.70" fill="#111"/>
<circle cx="444.21" cy="529.16" r="0.70" fill="#111"/>
<circle cx="433.04" cy="532.21" r="0.70" fill="#111"/>
<circle cx="442.03" cy="528.15" r="0.70" fill="#111"/>
<circle cx="430.91" cy="522.06" r="0.70" fill="#111"/>
<circle cx="444.13" cy="534.58" r="0.70" fill="#111"/>
<circle cx="432.09" cy="530.73" r="0.70" fill="#111"/>
<circle cx="439.99" cy="525.61" r="0.70" fill="#111"/>
<circle cx="431.99" cy="532.46" r="0.70" fill="#111"/>
<circle cx="431.70" cy="531.18" r="0.70" fill="#111"/>
<circle cx="440.58" cy="530.11" r="0.70" fill="#111"/>
<circle cx="431.33" cy="535.44" r="0.70" fill="#111"/>
<circle cx="432.14" cy="526.98" r="0.70" fill="#111"/>
<circle cx="434.99" cy="533.68" r="0.70" fill="#111"/>
<circle cx="438.45" cy="531.54" r="0.70" fill="#111"/>
<circle cx="432.70" cy="534.47" r="0.70" fill="#111"/>
<circle cx="445.33" cy="529.16" r="0.70" fill="#111"/>
<circle cx="435.85" cy="528.32" r="0.70" fill="#111"/>
<circle cx="440.14" cy="529.94" r="0.70" fill="#111"/>
<circle cx="432.44" cy="523.03" r="0.70" fill="#111"/>
<circle cx="437.36" cy="531.20" r="0.70" fill="#111"/>
<line x1="458.20" y1="514.00" x2="458.20" y2="522.20" stroke="#8a8a8a" stroke-width="0.8" />
<line x1="458.20" y1="527.90" x2="458.20" y2="534.00" stroke="#8a8a8a" stroke-width="0.8" />
<rect x="448.70" y="522.20" width="19.00" height="5.70" fill="#2c2b6a" stroke="#555" stroke-width="0.4" />
<line x1="448.70" y1="524.60" x2="467.70" y2="524.60" stroke="#b4b4d4" stroke-width="1.1" />
<circle cx="452.54" cy="521.48" r="0.70" fill="#111"/>
<circle cx="458.78" cy="525.01" r="0.70" fill="#111"/>
<circle cx="460.79" cy="531.29" r="0.70" fill="#111"/>
<circle cx="463.56" cy="526.67" r="0.70" fill="#111"/>
<circle cx="454.36" cy="522.81" r="0.70" fill="#111"/>
<circle cx="454.44" cy="527.27" r="0.70" fill="#111"/>
<circle cx="465.48" cy="519.25" r="0.70" fill="#111"/>
<circle cx="455.59" cy="526.59" r="0.70" fill="#111"/>
<circle cx="463.70" cy="525.80" r="0.70" fill="#111"/>
<circle cx="465.74" cy="514.41" r="0.70" fill="#111"/>
<circle cx="461.77" cy="525.83" r="0.70" fill="#111"/>
<circle cx="455.48" cy="524.53" r="0.70" fill="#111"/>
<circle cx="461.66" cy="522.57" r="0.70" fill="#111"/>
<circle cx="451.22" cy="527.16" r="0.70" fill="#111"/>
<circle cx="465.28" cy="523.23" r="0.70" fill="#111"/>
<circle cx="458.30" cy="533.37" r="0.70" fill="#111"/>
<circle cx="453.83" cy="524.57" r="0.70" fill="#111"/>
<circle cx="454.85" cy="525.42" r="0.70" fill="#111"/>
<line x1="482.80" y1="504.00" x2="482.80" y2="523.50" stroke="#8a8a8a" stroke-width="0.8" />
<line x1="482.80" y1="530.50" x2="482.80" y2="536.00" stroke="#8a8a8a" stroke-width="0.8" />
<rect x="473.30" y="523.50" width="19.00" height="7.00" fill="#6aacde" stroke="#555" stroke-width="0.4" />
<line x1="473.30" y1="526.20" x2="492.30" y2="526.20" stroke="#4b81ad" stroke-width="1.1" />
<circle cx="489.71" cy="527.08" r="0.70" fill="#111"/>
<circle cx="476.46" cy="533.06" r="0.70" fill="#111"/>
<circle cx="483.40" cy="531.13" r="0.70" fill="#111"/>
<circle cx="483.48" cy="530.41" r="0.70" fill="#111"/>
<circle cx="483.61" cy="525.41" r="0.70" fill="#111"/>
<circle cx="478.16" cy="532.85" r="0.70" fill="#111"/>
<circle cx="480.91" cy="521.91" r="0.70" fill="#111"/>
<circle cx="480.02" cy="521.92" r="0.70" fill="#111"/>
<circle cx="477.05" cy="533.41" r="0.70" fill="#111"/>
<circle cx="482.26" cy="530.07" r="0.70" fill="#111"/>
<circle cx="483.98" cy="529.92" r="0.70" fill="#111"/>
<circle cx="486.70" cy="509.54" r="0.70" fill="#111"/>
<circle cx="486.93" cy="526.79" r="0.70" fill="#111"/>
<circle cx="478.06" cy="506.62" r="0.70" fill="#111"/>
<circle cx="476.46" cy="518.22" r="0.70" fill="#111"/>
<circle cx="477.50" cy="531.23" r="0.70" fill="#111"/>
<circle cx="484.71" cy="526.62" r="0.70" fill="#111"/>
<circle cx="485.97" cy="531.40" r="0.70" fill="#111"/>
<circle cx="478.84" cy="527.56" r="0.70" fill="#111"/>
<circle cx="486.32" cy="523.87" r="0.70" fill="#111"/>
<circle cx="480.19" cy="528.85" r="0.70" fill="#111"/>
<circle cx="482.62" cy="516.46" r="0.70" fill="#111"/>
<circle cx="479.32" cy="535.56" r="0.70" fill="#111"/>
<circle cx="476.94" cy="529.64" r="0.70" fill="#111"/>
<line x1="502.80" y1="499.00" x2="502.80" y2="513.70" stroke="#8a8a8a" stroke-width="0.8" />
<line x1="502.80" y1="521.10" x2="502.80" y2="533.00" stroke="#8a8a8a" stroke-width="0.8" />
<rect x="493.30" y="513.70" width="19.00" height="7.40" fill="#2c2b6a" stroke="#555" stroke-width="0.4" />
<line x1="493.30" y1="517.80" x2="512.30" y2="517.80" stroke="#b4b4d4" stroke-width="1.1" />
<circle cx="510.40" cy="516.77" r="0.70" fill="#111"/>
<circle cx="506.90" cy="518.55" r="0.70" fill="#111"/>
<circle cx="509.88" cy="499.02" r="0.70" fill="#111"/>
<circle cx="505.37" cy="520.01" r="0.70" fill="#111"/>
<circle cx="505.61" cy="519.90" r="0.70" fill="#111"/>
<circle cx="502.88" cy="519.12" r="0.70" fill="#111"/>
<circle cx="507.52" cy="508.03" r="0.70" fill="#111"/>
<circle cx="494.84" cy="517.36" r="0.70" fill="#111"/>
<circle cx="508.18" cy="530.28" r="0.70" fill="#111"/>
<circle cx="502.46" cy="517.66" r="0.70" fill="#111"/>
<circle cx="510.37" cy="515.20" r="0.70" fill="#111"/>
<circle cx="508.05" cy="523.93" r="0.70" fill="#111"/>
<circle cx="505.11" cy="504.66" r="0.70" fill="#111"/>
<circle cx="494.98" cy="515.73" r="0.70" fill="#111"/>
<circle cx="506.68" cy="507.55" r="0.70" fill="#111"/>
<circle cx="499.71" cy="505.39" r="0.70" fill="#111"/>
<circle cx="504.34" cy="504.48" r="0.70" fill="#111"/>
<circle cx="505.77" cy="526.39" r="0.70" fill="#111"/>
<text transform="translate(448.00,509.12) scale(0.9,1)" font-size="7.6" text-anchor="middle" fill="#222" stroke="#222" stroke-width="0.12">p=0.02</text>
<path d="M438.00,520.00V511.50H458.40V516.00" fill="none" stroke="#a0a0a0" stroke-width="0.8"/>
<text transform="translate(492.00,494.82) scale(0.9,1)" font-size="7.6" text-anchor="middle" fill="#222" stroke="#222" stroke-width="0.12">p=0.15</text>
<path d="M482.30,505.00V497.30H502.60V499.00" fill="none" stroke="#a0a0a0" stroke-width="0.8"/>
<text transform="translate(411.03,500.10) rotate(-90)" font-size="8.5" text-anchor="middle" fill="#1a1a1a" stroke="#1a1a1a" stroke-width="0.16"><tspan font-style="italic">CYFIP2</tspan><tspan> (p.k294E)</tspan></text>
<line x1="185.30" y1="554.30" x2="274.00" y2="554.30" stroke="#ebebeb" stroke-width="0.6" />
<line x1="185.30" y1="576.60" x2="274.00" y2="576.60" stroke="#ebebeb" stroke-width="0.6" />
<line x1="185.30" y1="598.90" x2="274.00" y2="598.90" stroke="#ebebeb" stroke-width="0.6" />
<line x1="207.30" y1="549.20" x2="207.30" y2="619.30" stroke="#ebebeb" stroke-width="0.6" />
<line x1="251.80" y1="549.20" x2="251.80" y2="619.30" stroke="#ebebeb" stroke-width="0.6" />
<line x1="185.30" y1="549.20" x2="185.30" y2="619.80" stroke="#8a8a8a" stroke-width="1.2" />
<line x1="184.80" y1="619.30" x2="274.00" y2="619.30" stroke="#8a8a8a" stroke-width="1.2" />
<line x1="183.30" y1="554.30" x2="185.30" y2="554.30" stroke="#8a8a8a" stroke-width="0.8" />
<text transform="translate(181.70,554.30) rotate(-90)" font-size="8.3" text-anchor="middle" fill="#333" stroke="#333" stroke-width="0.16">60</text>
<line x1="183.30" y1="576.60" x2="185.30" y2="576.60" stroke="#8a8a8a" stroke-width="0.8" />
<text transform="translate(181.70,576.60) rotate(-90)" font-size="8.3" text-anchor="middle" fill="#333" stroke="#333" stroke-width="0.16">40</text>
<line x1="183.30" y1="598.90" x2="185.30" y2="598.90" stroke="#8a8a8a" stroke-width="0.8" />
<text transform="translate(181.70,598.90) rotate(-90)" font-size="8.3" text-anchor="middle" fill="#333" stroke="#333" stroke-width="0.16">20</text>
<line x1="207.30" y1="619.30" x2="207.30" y2="621.30" stroke="#8a8a8a" stroke-width="0.8" />
<line x1="251.80" y1="619.30" x2="251.80" y2="621.30" stroke="#8a8a8a" stroke-width="0.8" />
<line x1="197.50" y1="586.00" x2="197.50" y2="598.00" stroke="#8a8a8a" stroke-width="0.8" />
<line x1="197.50" y1="611.60" x2="197.50" y2="616.50" stroke="#8a8a8a" stroke-width="0.8" />
<rect x="188.00" y="598.00" width="19.00" height="13.60" fill="#6aacde" stroke="#555" stroke-width="0.4" />
<line x1="188.00" y1="604.00" x2="207.00" y2="604.00" stroke="#4b81ad" stroke-width="1.1" />
<circle cx="202.94" cy="601.54" r="0.70" fill="#111"/>
<circle cx="189.75" cy="598.77" r="0.70" fill="#111"/>
<circle cx="196.83" cy="612.12" r="0.70" fill="#111"/>
<circle cx="197.13" cy="608.92" r="0.70" fill="#111"/>
<circle cx="202.21" cy="586.30" r="0.70" fill="#111"/>
<circle cx="202.84" cy="614.66" r="0.70" fill="#111"/>
<circle cx="203.10" cy="594.59" r="0.70" fill="#111"/>
<circle cx="203.64" cy="586.24" r="0.70" fill="#111"/>
<circle cx="190.57" cy="612.59" r="0.70" fill="#111"/>
<circle cx="195.41" cy="599.36" r="0.70" fill="#111"/>
<circle cx="189.57" cy="600.99" r="0.70" fill="#111"/>
<circle cx="201.15" cy="602.08" r="0.70" fill="#111"/>
<circle cx="204.74" cy="600.26" r="0.70" fill="#111"/>
<circle cx="192.98" cy="614.98" r="0.70" fill="#111"/>
<circle cx="196.04" cy="604.13" r="0.70" fill="#111"/>
<circle cx="201.77" cy="604.20" r="0.70" fill="#111"/>
<circle cx="200.42" cy="596.32" r="0.70" fill="#111"/>
<circle cx="204.16" cy="615.87" r="0.70" fill="#111"/>
<circle cx="200.05" cy="613.64" r="0.70" fill="#111"/>
<circle cx="200.91" cy="596.59" r="0.70" fill="#111"/>
<circle cx="194.75" cy="600.59" r="0.70" fill="#111"/>
<circle cx="201.80" cy="607.27" r="0.70" fill="#111"/>
<circle cx="202.93" cy="605.26" r="0.70" fill="#111"/>
<circle cx="199.19" cy="599.29" r="0.70" fill="#111"/>
<line x1="217.50" y1="577.00" x2="217.50" y2="584.30" stroke="#8a8a8a" stroke-width="0.8" />
<line x1="217.50" y1="595.90" x2="217.50" y2="600.00" stroke="#8a8a8a" stroke-width="0.8" />
<rect x="208.00" y="584.30" width="19.00" height="11.60" fill="#2c2b6a" stroke="#555" stroke-width="0.4" />
<line x1="208.00" y1="589.10" x2="227.00" y2="589.10" stroke="#b4b4d4" stroke-width="1.1" />
<circle cx="214.12" cy="585.97" r="0.70" fill="#111"/>
<circle cx="216.31" cy="586.03" r="0.70" fill="#111"/>
<circle cx="218.30" cy="584.37" r="0.70" fill="#111"/>
<circle cx="214.73" cy="599.32" r="0.70" fill="#111"/>
<circle cx="211.92" cy="596.23" r="0.70" fill="#111"/>
<circle cx="219.12" cy="584.98" r="0.70" fill="#111"/>
<circle cx="222.34" cy="597.86" r="0.70" fill="#111"/>
<circle cx="219.22" cy="594.96" r="0.70" fill="#111"/>
<circle cx="216.33" cy="578.25" r="0.70" fill="#111"/>
<circle cx="213.18" cy="593.84" r="0.70" fill="#111"/>
<circle cx="210.65" cy="593.77" r="0.70" fill="#111"/>
<circle cx="220.14" cy="578.60" r="0.70" fill="#111"/>
<circle cx="221.17" cy="577.69" r="0.70" fill="#111"/>
<circle cx="223.19" cy="588.02" r="0.70" fill="#111"/>
<circle cx="220.34" cy="597.17" r="0.70" fill="#111"/>
<circle cx="210.84" cy="590.32" r="0.70" fill="#111"/>
<circle cx="219.68" cy="583.69" r="0.70" fill="#111"/>
<circle cx="217.01" cy="590.25" r="0.70" fill="#111"/>
<line x1="242.00" y1="577.00" x2="242.00" y2="590.80" stroke="#8a8a8a" stroke-width="0.8" />
<line x1="242.00" y1="607.90" x2="242.00" y2="616.00" stroke="#8a8a8a" stroke-width="0.8" />
<rect x="232.50" y="590.80" width="19.00" height="17.10" fill="#6aacde" stroke="#555" stroke-width="0.4" />
<line x1="232.50" y1="603.30" x2="251.50" y2="603.30" stroke="#4b81ad" stroke-width="1.1" />
<circle cx="238.46" cy="593.38" r="0.70" fill="#111"/>
<circle cx="244.78" cy="592.02" r="0.70" fill="#111"/>
<circle cx="235.47" cy="595.76" r="0.70" fill="#111"/>
<circle cx="238.68" cy="606.72" r="0.70" fill="#111"/>
<circle cx="249.10" cy="596.71" r="0.70" fill="#111"/>
<circle cx="237.36" cy="596.66" r="0.70" fill="#111"/>
<circle cx="235.59" cy="583.37" r="0.70" fill="#111"/>
<circle cx="244.97" cy="610.56" r="0.70" fill="#111"/>
<circle cx="234.95" cy="605.71" r="0.70" fill="#111"/>
<circle cx="238.24" cy="595.68" r="0.70" fill="#111"/>
<circle cx="239.55" cy="611.97" r="0.70" fill="#111"/>
<circle cx="243.11" cy="588.67" r="0.70" fill="#111"/>
<circle cx="243.84" cy="602.03" r="0.70" fill="#111"/>
<circle cx="236.12" cy="598.09" r="0.70" fill="#111"/>
<circle cx="238.90" cy="605.83" r="0.70" fill="#111"/>
<circle cx="243.44" cy="601.12" r="0.70" fill="#111"/>
<circle cx="245.73" cy="598.43" r="0.70" fill="#111"/>
<circle cx="246.08" cy="592.66" r="0.70" fill="#111"/>
<circle cx="235.32" cy="608.45" r="0.70" fill="#111"/>
<circle cx="244.50" cy="580.93" r="0.70" fill="#111"/>
<circle cx="236.60" cy="598.61" r="0.70" fill="#111"/>
<circle cx="242.16" cy="602.66" r="0.70" fill="#111"/>
<circle cx="243.91" cy="614.72" r="0.70" fill="#111"/>
<circle cx="241.59" cy="609.34" r="0.70" fill="#111"/>
<line x1="262.00" y1="560.00" x2="262.00" y2="574.00" stroke="#8a8a8a" stroke-width="0.8" />
<line x1="262.00" y1="597.40" x2="262.00" y2="607.50" stroke="#8a8a8a" stroke-width="0.8" />
<rect x="252.50" y="574.00" width="19.00" height="23.40" fill="#2c2b6a" stroke="#555" stroke-width="0.4" />
<line x1="252.50" y1="579.40" x2="271.50" y2="579.40" stroke="#b4b4d4" stroke-width="1.1" />
<circle cx="255.80" cy="588.62" r="0.70" fill="#111"/>
<circle cx="266.53" cy="601.14" r="0.70" fill="#111"/>
<circle cx="260.25" cy="606.90" r="0.70" fill="#111"/>
<circle cx="256.10" cy="607.47" r="0.70" fill="#111"/>
<circle cx="261.33" cy="570.18" r="0.70" fill="#111"/>
<circle cx="260.59" cy="578.06" r="0.70" fill="#111"/>
<circle cx="258.10" cy="601.46" r="0.70" fill="#111"/>
<circle cx="263.81" cy="566.12" r="0.70" fill="#111"/>
<circle cx="254.59" cy="580.70" r="0.70" fill="#111"/>
<circle cx="257.91" cy="604.06" r="0.70" fill="#111"/>
<circle cx="262.06" cy="587.59" r="0.70" fill="#111"/>
<circle cx="258.91" cy="605.26" r="0.70" fill="#111"/>
<circle cx="256.61" cy="588.32" r="0.70" fill="#111"/>
<circle cx="261.99" cy="597.86" r="0.70" fill="#111"/>
<circle cx="254.75" cy="586.31" r="0.70" fill="#111"/>
<circle cx="266.60" cy="597.14" r="0.70" fill="#111"/>
<circle cx="254.54" cy="584.67" r="0.70" fill="#111"/>
<circle cx="269.73" cy="578.49" r="0.70" fill="#111"/>
<text transform="translate(207.00,556.22) scale(0.9,1)" font-size="7.6" text-anchor="middle" fill="#222" stroke="#222" stroke-width="0.12">p=0.01</text>
<path d="M197.40,586.00V557.60H217.70V577.00" fill="none" stroke="#a0a0a0" stroke-width="0.8"/>
<text transform="translate(251.50,547.92) scale(0.9,1)" font-size="7.6" text-anchor="middle" fill="#222" stroke="#222" stroke-width="0.12">p=0.02</text>
<path d="M241.80,577.00V549.20H262.00V560.00" fill="none" stroke="#a0a0a0" stroke-width="0.8"/>
<text transform="translate(171.23,581.25) rotate(-90)" font-size="8.5" text-anchor="middle" fill="#1a1a1a" stroke="#1a1a1a" stroke-width="0.16"><tspan font-style="italic">GRIK2</tspan><tspan> (p.Y571C)</tspan></text>
<text transform="translate(207.30,629.20) scale(0.85,1)" font-size="8.7" text-anchor="middle" fill="#1a1a1a" stroke="#1a1a1a" stroke-width="0.16">PFC</text>
<text transform="translate(251.80,629.20) scale(0.85,1)" font-size="8.7" text-anchor="middle" fill="#1a1a1a" stroke="#1a1a1a" stroke-width="0.16">Hippocampus</text>
<line x1="306.30" y1="562.40" x2="395.00" y2="562.40" stroke="#ebebeb" stroke-width="0.6" />
<line x1="306.30" y1="583.20" x2="395.00" y2="583.20" stroke="#ebebeb" stroke-width="0.6" />
<line x1="306.30" y1="603.30" x2="395.00" y2="603.30" stroke="#ebebeb" stroke-width="0.6" />
<line x1="328.30" y1="550.30" x2="328.30" y2="619.30" stroke="#ebebeb" stroke-width="0.6" />
<line x1="372.80" y1="550.30" x2="372.80" y2="619.30" stroke="#ebebeb" stroke-width="0.6" />
<line x1="306.30" y1="550.30" x2="306.30" y2="619.80" stroke="#8a8a8a" stroke-width="1.2" />
<line x1="305.80" y1="619.30" x2="395.00" y2="619.30" stroke="#8a8a8a" stroke-width="1.2" />
<line x1="304.30" y1="562.40" x2="306.30" y2="562.40" stroke="#8a8a8a" stroke-width="0.8" />
<text transform="translate(302.70,562.40) rotate(-90)" font-size="8.3" text-anchor="middle" fill="#333" stroke="#333" stroke-width="0.16">75</text>
<line x1="304.30" y1="583.20" x2="306.30" y2="583.20" stroke="#8a8a8a" stroke-width="0.8" />
<text transform="translate(302.70,583.20) rotate(-90)" font-size="8.3" text-anchor="middle" fill="#333" stroke="#333" stroke-width="0.16">50</text>
<line x1="304.30" y1="603.30" x2="306.30" y2="603.30" stroke="#8a8a8a" stroke-width="0.8" />
<text transform="translate(302.70,603.30) rotate(-90)" font-size="8.3" text-anchor="middle" fill="#333" stroke="#333" stroke-width="0.16">25</text>
<line x1="328.30" y1="619.30" x2="328.30" y2="621.30" stroke="#8a8a8a" stroke-width="0.8" />
<line x1="372.80" y1="619.30" x2="372.80" y2="621.30" stroke="#8a8a8a" stroke-width="0.8" />
<line x1="318.50" y1="588.00" x2="318.50" y2="599.60" stroke="#8a8a8a" stroke-width="0.8" />
<line x1="318.50" y1="608.40" x2="318.50" y2="616.00" stroke="#8a8a8a" stroke-width="0.8" />
<rect x="309.00" y="599.60" width="19.00" height="8.80" fill="#6aacde" stroke="#555" stroke-width="0.4" />
<line x1="309.00" y1="604.00" x2="328.00" y2="604.00" stroke="#4b81ad" stroke-width="1.1" />
<circle cx="311.56" cy="601.78" r="0.70" fill="#111"/>
<circle cx="322.33" cy="608.36" r="0.70" fill="#111"/>
<circle cx="323.01" cy="614.75" r="0.70" fill="#111"/>
<circle cx="314.83" cy="601.09" r="0.70" fill="#111"/>
<circle cx="322.01" cy="601.14" r="0.70" fill="#111"/>
<circle cx="315.38" cy="599.69" r="0.70" fill="#111"/>
<circle cx="322.16" cy="614.87" r="0.70" fill="#111"/>
<circle cx="319.41" cy="598.58" r="0.70" fill="#111"/>
<circle cx="315.03" cy="604.64" r="0.70" fill="#111"/>
<circle cx="317.82" cy="601.89" r="0.70" fill="#111"/>
<circle cx="314.47" cy="600.31" r="0.70" fill="#111"/>
<circle cx="318.29" cy="608.02" r="0.70" fill="#111"/>
<circle cx="319.97" cy="614.06" r="0.70" fill="#111"/>
<circle cx="315.58" cy="603.06" r="0.70" fill="#111"/>
<circle cx="323.14" cy="597.92" r="0.70" fill="#111"/>
<circle cx="310.66" cy="600.92" r="0.70" fill="#111"/>
<circle cx="310.61" cy="590.65" r="0.70" fill="#111"/>
<circle cx="313.80" cy="601.61" r="0.70" fill="#111"/>
<circle cx="315.02" cy="594.78" r="0.70" fill="#111"/>
<circle cx="325.22" cy="590.39" r="0.70" fill="#111"/>
<circle cx="321.77" cy="604.81" r="0.70" fill="#111"/>
<circle cx="324.43" cy="593.65" r="0.70" fill="#111"/>
<circle cx="311.78" cy="596.01" r="0.70" fill="#111"/>
<circle cx="319.22" cy="603.70" r="0.70" fill="#111"/>
<line x1="338.50" y1="583.00" x2="338.50" y2="588.20" stroke="#8a8a8a" stroke-width="0.8" />
<line x1="338.50" y1="595.70" x2="338.50" y2="603.00" stroke="#8a8a8a" stroke-width="0.8" />
<rect x="329.00" y="588.20" width="19.00" height="7.50" fill="#2c2b6a" stroke="#555" stroke-width="0.4" />
<line x1="329.00" y1="591.90" x2="348.00" y2="591.90" stroke="#b4b4d4" stroke-width="1.1" />
<circle cx="336.05" cy="593.76" r="0.70" fill="#111"/>
<circle cx="343.91" cy="592.11" r="0.70" fill="#111"/>
<circle cx="340.18" cy="592.40" r="0.70" fill="#111"/>
<circle cx="334.97" cy="584.62" r="0.70" fill="#111"/>
<circle cx="340.81" cy="592.71" r="0.70" fill="#111"/>
<circle cx="339.46" cy="591.55" r="0.70" fill="#111"/>
<circle cx="345.35" cy="588.97" r="0.70" fill="#111"/>
<circle cx="335.22" cy="591.94" r="0.70" fill="#111"/>
<circle cx="333.10" cy="590.22" r="0.70" fill="#111"/>
<circle cx="331.79" cy="595.02" r="0.70" fill="#111"/>
<circle cx="340.49" cy="593.41" r="0.70" fill="#111"/>
<circle cx="335.01" cy="589.92" r="0.70" fill="#111"/>
<circle cx="334.63" cy="598.93" r="0.70" fill="#111"/>
<circle cx="332.91" cy="591.84" r="0.70" fill="#111"/>
<circle cx="338.14" cy="586.75" r="0.70" fill="#111"/>
<circle cx="345.78" cy="587.01" r="0.70" fill="#111"/>
<circle cx="338.58" cy="583.23" r="0.70" fill="#111"/>
<circle cx="341.44" cy="584.72" r="0.70" fill="#111"/>
<line x1="363.00" y1="580.00" x2="363.00" y2="591.90" stroke="#8a8a8a" stroke-width="0.8" />
<line x1="363.00" y1="605.70" x2="363.00" y2="615.00" stroke="#8a8a8a" stroke-width="0.8" />
<rect x="353.50" y="591.90" width="19.00" height="13.80" fill="#6aacde" stroke="#555" stroke-width="0.4" />
<line x1="353.50" y1="598.50" x2="372.50" y2="598.50" stroke="#4b81ad" stroke-width="1.1" />
<circle cx="364.82" cy="600.41" r="0.70" fill="#111"/>
<circle cx="366.32" cy="591.01" r="0.70" fill="#111"/>
<circle cx="358.70" cy="588.38" r="0.70" fill="#111"/>
<circle cx="355.99" cy="587.38" r="0.70" fill="#111"/>
<circle cx="362.87" cy="607.81" r="0.70" fill="#111"/>
<circle cx="367.23" cy="588.59" r="0.70" fill="#111"/>
<circle cx="362.09" cy="604.87" r="0.70" fill="#111"/>
<circle cx="360.19" cy="591.80" r="0.70" fill="#111"/>
<circle cx="356.37" cy="591.38" r="0.70" fill="#111"/>
<circle cx="363.63" cy="611.76" r="0.70" fill="#111"/>
<circle cx="357.36" cy="613.70" r="0.70" fill="#111"/>
<circle cx="366.17" cy="600.39" r="0.70" fill="#111"/>
<circle cx="368.24" cy="613.17" r="0.70" fill="#111"/>
<circle cx="369.60" cy="597.78" r="0.70" fill="#111"/>
<circle cx="360.34" cy="612.73" r="0.70" fill="#111"/>
<circle cx="365.67" cy="610.64" r="0.70" fill="#111"/>
<circle cx="366.42" cy="590.30" r="0.70" fill="#111"/>
<circle cx="362.90" cy="610.29" r="0.70" fill="#111"/>
<circle cx="355.80" cy="586.69" r="0.70" fill="#111"/>
<circle cx="362.99" cy="608.66" r="0.70" fill="#111"/>
<circle cx="369.84" cy="594.53" r="0.70" fill="#111"/>
<circle cx="367.98" cy="596.02" r="0.70" fill="#111"/>
<circle cx="364.09" cy="601.11" r="0.70" fill="#111"/>
<circle cx="360.27" cy="610.13" r="0.70" fill="#111"/>
<line x1="383.00" y1="553.00" x2="383.00" y2="572.20" stroke="#8a8a8a" stroke-width="0.8" />
<line x1="383.00" y1="584.90" x2="383.00" y2="593.00" stroke="#8a8a8a" stroke-width="0.8" />
<rect x="373.50" y="572.20" width="19.00" height="12.70" fill="#2c2b6a" stroke="#555" stroke-width="0.4" />
<line x1="373.50" y1="581.60" x2="392.50" y2="581.60" stroke="#b4b4d4" stroke-width="1.1" />
<circle cx="375.02" cy="576.82" r="0.70" fill="#111"/>
<circle cx="380.04" cy="574.09" r="0.70" fill="#111"/>
<circle cx="380.67" cy="592.53" r="0.70" fill="#111"/>
<circle cx="385.06" cy="575.92" r="0.70" fill="#111"/>
<circle cx="383.38" cy="573.69" r="0.70" fill="#111"/>
<circle cx="387.55" cy="574.03" r="0.70" fill="#111"/>
<circle cx="387.24" cy="577.78" r="0.70" fill="#111"/>
<circle cx="380.08" cy="569.77" r="0.70" fill="#111"/>
<circle cx="389.31" cy="585.25" r="0.70" fill="#111"/>
<circle cx="379.16" cy="572.24" r="0.70" fill="#111"/>
<circle cx="386.79" cy="590.70" r="0.70" fill="#111"/>
<circle cx="379.92" cy="584.95" r="0.70" fill="#111"/>
<circle cx="389.51" cy="583.75" r="0.70" fill="#111"/>
<circle cx="383.87" cy="584.74" r="0.70" fill="#111"/>
<circle cx="381.83" cy="573.25" r="0.70" fill="#111"/>
<circle cx="379.97" cy="561.71" r="0.70" fill="#111"/>
<circle cx="379.93" cy="588.75" r="0.70" fill="#111"/>
<circle cx="381.77" cy="586.88" r="0.70" fill="#111"/>
<text transform="translate(328.30,563.92) scale(0.9,1)" font-size="7.6" text-anchor="middle" fill="#222" stroke="#222" stroke-width="0.12">p=0.01</text>
<path d="M318.30,588.00V565.70H338.60V583.00" fill="none" stroke="#a0a0a0" stroke-width="0.8"/>
<text transform="translate(373.00,547.92) scale(0.9,1)" font-size="7.6" text-anchor="middle" fill="#222" stroke="#222" stroke-width="0.12">p=0.02</text>
<path d="M362.70,580.00V549.20H383.00V553.00" fill="none" stroke="#a0a0a0" stroke-width="0.8"/>
<text transform="translate(293.23,581.80) rotate(-90)" font-size="8.5" text-anchor="middle" fill="#1a1a1a" stroke="#1a1a1a" stroke-width="0.16"><tspan font-style="italic">GABRA3</tspan><tspan> (p.I342M)</tspan></text>
<text transform="translate(328.30,629.20) scale(0.85,1)" font-size="8.7" text-anchor="middle" fill="#1a1a1a" stroke="#1a1a1a" stroke-width="0.16">PFC</text>
<text transform="translate(372.80,629.20) scale(0.85,1)" font-size="8.7" text-anchor="middle" fill="#1a1a1a" stroke="#1a1a1a" stroke-width="0.16">Hippocampus</text>
<line x1="426.30" y1="567.40" x2="515.00" y2="567.40" stroke="#ebebeb" stroke-width="0.6" />
<line x1="426.30" y1="587.60" x2="515.00" y2="587.60" stroke="#ebebeb" stroke-width="0.6" />
<line x1="426.30" y1="607.30" x2="515.00" y2="607.30" stroke="#ebebeb" stroke-width="0.6" />
<line x1="448.00" y1="549.20" x2="448.00" y2="619.30" stroke="#ebebeb" stroke-width="0.6" />
<line x1="492.60" y1="549.20" x2="492.60" y2="619.30" stroke="#ebebeb" stroke-width="0.6" />
<line x1="426.30" y1="549.20" x2="426.30" y2="619.80" stroke="#8a8a8a" stroke-width="1.2" />
<line x1="425.80" y1="619.30" x2="515.00" y2="619.30" stroke="#8a8a8a" stroke-width="1.2" />
<line x1="424.30" y1="567.40" x2="426.30" y2="567.40" stroke="#8a8a8a" stroke-width="0.8" />
<text transform="translate(422.70,567.40) rotate(-90)" font-size="8.3" text-anchor="middle" fill="#333" stroke="#333" stroke-width="0.16">60</text>
<line x1="424.30" y1="587.60" x2="426.30" y2="587.60" stroke="#8a8a8a" stroke-width="0.8" />
<text transform="translate(422.70,587.60) rotate(-90)" font-size="8.3" text-anchor="middle" fill="#333" stroke="#333" stroke-width="0.16">40</text>
<line x1="424.30" y1="607.30" x2="426.30" y2="607.30" stroke="#8a8a8a" stroke-width="0.8" />
<text transform="translate(422.70,607.30) rotate(-90)" font-size="8.3" text-anchor="middle" fill="#333" stroke="#333" stroke-width="0.16">20</text>
<line x1="448.00" y1="619.30" x2="448.00" y2="621.30" stroke="#8a8a8a" stroke-width="0.8" />
<line x1="492.60" y1="619.30" x2="492.60" y2="621.30" stroke="#8a8a8a" stroke-width="0.8" />
<line x1="438.20" y1="579.00" x2="438.20" y2="593.70" stroke="#8a8a8a" stroke-width="0.8" />
<line x1="438.20" y1="609.00" x2="438.20" y2="617.00" stroke="#8a8a8a" stroke-width="0.8" />
<rect x="428.70" y="593.70" width="19.00" height="15.30" fill="#6aacde" stroke="#555" stroke-width="0.4" />
<line x1="428.70" y1="599.20" x2="447.70" y2="599.20" stroke="#4b81ad" stroke-width="1.1" />
<circle cx="446.13" cy="597.34" r="0.70" fill="#111"/>
<circle cx="440.97" cy="586.70" r="0.70" fill="#111"/>
<circle cx="436.07" cy="586.66" r="0.70" fill="#111"/>
<circle cx="432.15" cy="594.15" r="0.70" fill="#111"/>
<circle cx="440.99" cy="593.86" r="0.70" fill="#111"/>
<circle cx="435.23" cy="597.27" r="0.70" fill="#111"/>
<circle cx="443.82" cy="596.91" r="0.70" fill="#111"/>
<circle cx="431.58" cy="594.75" r="0.70" fill="#111"/>
<circle cx="434.87" cy="613.63" r="0.70" fill="#111"/>
<circle cx="444.41" cy="579.68" r="0.70" fill="#111"/>
<circle cx="431.03" cy="614.31" r="0.70" fill="#111"/>
<circle cx="439.69" cy="606.50" r="0.70" fill="#111"/>
<circle cx="431.24" cy="597.29" r="0.70" fill="#111"/>
<circle cx="437.33" cy="581.67" r="0.70" fill="#111"/>
<circle cx="438.07" cy="616.21" r="0.70" fill="#111"/>
<circle cx="445.35" cy="610.07" r="0.70" fill="#111"/>
<circle cx="444.36" cy="612.86" r="0.70" fill="#111"/>
<circle cx="435.37" cy="608.70" r="0.70" fill="#111"/>
<circle cx="445.14" cy="615.70" r="0.70" fill="#111"/>
<circle cx="434.68" cy="580.08" r="0.70" fill="#111"/>
<circle cx="441.09" cy="592.36" r="0.70" fill="#111"/>
<circle cx="435.73" cy="599.02" r="0.70" fill="#111"/>
<circle cx="438.46" cy="597.14" r="0.70" fill="#111"/>
<circle cx="436.80" cy="597.79" r="0.70" fill="#111"/>
<line x1="458.20" y1="571.00" x2="458.20" y2="582.70" stroke="#8a8a8a" stroke-width="0.8" />
<line x1="458.20" y1="596.70" x2="458.20" y2="605.00" stroke="#8a8a8a" stroke-width="0.8" />
<rect x="448.70" y="582.70" width="19.00" height="14.00" fill="#2c2b6a" stroke="#555" stroke-width="0.4" />
<line x1="448.70" y1="591.50" x2="467.70" y2="591.50" stroke="#b4b4d4" stroke-width="1.1" />
<circle cx="462.22" cy="601.65" r="0.70" fill="#111"/>
<circle cx="464.27" cy="596.96" r="0.70" fill="#111"/>
<circle cx="462.02" cy="585.45" r="0.70" fill="#111"/>
<circle cx="457.82" cy="601.80" r="0.70" fill="#111"/>
<circle cx="453.32" cy="576.01" r="0.70" fill="#111"/>
<circle cx="450.81" cy="584.28" r="0.70" fill="#111"/>
<circle cx="455.78" cy="604.59" r="0.70" fill="#111"/>
<circle cx="462.69" cy="586.60" r="0.70" fill="#111"/>
<circle cx="464.33" cy="585.09" r="0.70" fill="#111"/>
<circle cx="457.55" cy="597.09" r="0.70" fill="#111"/>
<circle cx="455.95" cy="591.65" r="0.70" fill="#111"/>
<circle cx="459.91" cy="586.93" r="0.70" fill="#111"/>
<circle cx="461.08" cy="576.71" r="0.70" fill="#111"/>
<circle cx="457.22" cy="595.96" r="0.70" fill="#111"/>
<circle cx="460.14" cy="604.42" r="0.70" fill="#111"/>
<circle cx="461.58" cy="580.24" r="0.70" fill="#111"/>
<circle cx="452.72" cy="588.54" r="0.70" fill="#111"/>
<circle cx="455.47" cy="592.32" r="0.70" fill="#111"/>
<line x1="482.80" y1="572.00" x2="482.80" y2="587.10" stroke="#8a8a8a" stroke-width="0.8" />
<line x1="482.80" y1="599.20" x2="482.80" y2="613.00" stroke="#8a8a8a" stroke-width="0.8" />
<rect x="473.30" y="587.10" width="19.00" height="12.10" fill="#6aacde" stroke="#555" stroke-width="0.4" />
<line x1="473.30" y1="594.10" x2="492.30" y2="594.10" stroke="#4b81ad" stroke-width="1.1" />
<circle cx="475.18" cy="587.42" r="0.70" fill="#111"/>
<circle cx="481.78" cy="577.40" r="0.70" fill="#111"/>
<circle cx="486.01" cy="585.70" r="0.70" fill="#111"/>
<circle cx="477.75" cy="599.07" r="0.70" fill="#111"/>
<circle cx="479.41" cy="581.72" r="0.70" fill="#111"/>
<circle cx="486.15" cy="607.62" r="0.70" fill="#111"/>
<circle cx="479.41" cy="597.17" r="0.70" fill="#111"/>
<circle cx="479.96" cy="583.13" r="0.70" fill="#111"/>
<circle cx="490.43" cy="591.10" r="0.70" fill="#111"/>
<circle cx="483.79" cy="579.12" r="0.70" fill="#111"/>
<circle cx="476.03" cy="575.96" r="0.70" fill="#111"/>
<circle cx="484.38" cy="594.14" r="0.70" fill="#111"/>
<circle cx="488.43" cy="607.77" r="0.70" fill="#111"/>
<circle cx="481.55" cy="606.05" r="0.70" fill="#111"/>
<circle cx="486.95" cy="591.60" r="0.70" fill="#111"/>
<circle cx="490.07" cy="573.85" r="0.70" fill="#111"/>
<circle cx="483.56" cy="583.31" r="0.70" fill="#111"/>
<circle cx="476.65" cy="580.70" r="0.70" fill="#111"/>
<circle cx="480.40" cy="595.94" r="0.70" fill="#111"/>
<circle cx="486.76" cy="596.97" r="0.70" fill="#111"/>
<circle cx="476.92" cy="604.54" r="0.70" fill="#111"/>
<circle cx="485.48" cy="602.18" r="0.70" fill="#111"/>
<circle cx="474.85" cy="576.13" r="0.70" fill="#111"/>
<circle cx="484.21" cy="583.93" r="0.70" fill="#111"/>
<line x1="502.80" y1="560.00" x2="502.80" y2="570.00" stroke="#8a8a8a" stroke-width="0.8" />
<line x1="502.80" y1="581.40" x2="502.80" y2="595.00" stroke="#8a8a8a" stroke-width="0.8" />
<rect x="493.30" y="570.00" width="19.00" height="11.40" fill="#2c2b6a" stroke="#555" stroke-width="0.4" />
<line x1="493.30" y1="573.30" x2="512.30" y2="573.30" stroke="#b4b4d4" stroke-width="1.1" />
<circle cx="506.49" cy="584.51" r="0.70" fill="#111"/>
<circle cx="499.64" cy="576.62" r="0.70" fill="#111"/>
<circle cx="504.51" cy="576.25" r="0.70" fill="#111"/>
<circle cx="502.80" cy="589.61" r="0.70" fill="#111"/>
<circle cx="501.33" cy="566.28" r="0.70" fill="#111"/>
<circle cx="500.99" cy="577.78" r="0.70" fill="#111"/>
<circle cx="500.55" cy="571.94" r="0.70" fill="#111"/>
<circle cx="502.64" cy="566.56" r="0.70" fill="#111"/>
<circle cx="500.42" cy="585.84" r="0.70" fill="#111"/>
<circle cx="501.62" cy="590.64" r="0.70" fill="#111"/>
<circle cx="503.38" cy="581.76" r="0.70" fill="#111"/>
<circle cx="497.90" cy="593.36" r="0.70" fill="#111"/>
<circle cx="509.75" cy="588.65" r="0.70" fill="#111"/>
<circle cx="505.06" cy="577.57" r="0.70" fill="#111"/>
<circle cx="501.04" cy="586.01" r="0.70" fill="#111"/>
<circle cx="495.94" cy="577.79" r="0.70" fill="#111"/>
<circle cx="497.86" cy="583.39" r="0.70" fill="#111"/>
<circle cx="506.87" cy="588.18" r="0.70" fill="#111"/>
<text transform="translate(448.30,565.02) scale(0.9,1)" font-size="7.6" text-anchor="middle" fill="#222" stroke="#222" stroke-width="0.12">p=0.15</text>
<path d="M438.00,579.00V567.40H458.40V571.00" fill="none" stroke="#a0a0a0" stroke-width="0.8"/>
<text transform="translate(493.30,554.02) scale(0.9,1)" font-size="7.6" text-anchor="middle" fill="#222" stroke="#222" stroke-width="0.12">p=0.01</text>
<path d="M482.30,572.00V555.80H502.60V560.00" fill="none" stroke="#a0a0a0" stroke-width="0.8"/>
<text transform="translate(411.03,581.25) rotate(-90)" font-size="8.5" text-anchor="middle" fill="#1a1a1a" stroke="#1a1a1a" stroke-width="0.16"><tspan font-style="italic">GRIA3</tspan><tspan> (p.R775G)</tspan></text>
<text transform="translate(448.00,629.20) scale(0.85,1)" font-size="8.7" text-anchor="middle" fill="#1a1a1a" stroke="#1a1a1a" stroke-width="0.16">PFC</text>
<text transform="translate(492.60,629.20) scale(0.85,1)" font-size="8.7" text-anchor="middle" fill="#1a1a1a" stroke="#1a1a1a" stroke-width="0.16">Hippocampus</text>
<text x="530.10" y="480.70" font-size="22.5" font-weight="bold" fill="#000" stroke="#000" stroke-width="0.35">H</text>
<line x1="551.00" y1="474.70" x2="560.60" y2="474.70" stroke="#62a9df" stroke-width="1.2" />
<circle cx="555.80" cy="474.70" r="2.90" fill="#62a9df"/>
<text x="562.90" y="477.39" font-size="7.8" text-anchor="start" fill="#1a1a1a" stroke="#1a1a1a" stroke-width="0.16" font-style="italic">ADAR</text>
<line x1="593.70" y1="474.70" x2="603.30" y2="474.70" stroke="#7fcdbb" stroke-width="1.2" />
<circle cx="598.50" cy="474.70" r="2.90" fill="#7fcdbb"/>
<text x="603.90" y="477.39" font-size="7.8" text-anchor="start" fill="#1a1a1a" stroke="#1a1a1a" stroke-width="0.16" font-style="italic">ADARB1</text>
<line x1="639.90" y1="474.70" x2="649.50" y2="474.70" stroke="#262b6b" stroke-width="1.2" />
<circle cx="644.70" cy="474.70" r="2.90" fill="#262b6b"/>
<text x="651.30" y="477.39" font-size="7.8" text-anchor="start" fill="#1a1a1a" stroke="#1a1a1a" stroke-width="0.16" font-style="italic">ADARB2</text>
<line x1="562.20" y1="514.50" x2="676.70" y2="514.50" stroke="#ebebeb" stroke-width="0.6" />
<line x1="562.20" y1="541.30" x2="676.70" y2="541.30" stroke="#ebebeb" stroke-width="0.6" />
<line x1="562.20" y1="568.10" x2="676.70" y2="568.10" stroke="#ebebeb" stroke-width="0.6" />
<line x1="562.20" y1="594.60" x2="676.70" y2="594.60" stroke="#ebebeb" stroke-width="0.6" />
<line x1="575.20" y1="490.80" x2="575.20" y2="600.30" stroke="#ebebeb" stroke-width="0.6" />
<line x1="593.30" y1="490.80" x2="593.30" y2="600.30" stroke="#ebebeb" stroke-width="0.6" />
<line x1="611.50" y1="490.80" x2="611.50" y2="600.30" stroke="#ebebeb" stroke-width="0.6" />
<line x1="629.30" y1="490.80" x2="629.30" y2="600.30" stroke="#ebebeb" stroke-width="0.6" />
<line x1="647.50" y1="490.80" x2="647.50" y2="600.30" stroke="#ebebeb" stroke-width="0.6" />
<line x1="666.00" y1="490.80" x2="666.00" y2="600.30" stroke="#ebebeb" stroke-width="0.6" />
<line x1="562.20" y1="490.80" x2="562.20" y2="600.80" stroke="#444" stroke-width="1.1" />
<line x1="561.70" y1="600.30" x2="676.70" y2="600.30" stroke="#444" stroke-width="1.1" />
<line x1="562.20" y1="568.10" x2="676.70" y2="568.10" stroke="#8a8a8a" stroke-width="1.1" stroke-dasharray="1.6,1.4"/>
<line x1="560.20" y1="514.50" x2="562.20" y2="514.50" stroke="#444" stroke-width="0.8" />
<text transform="translate(558.60,514.50) rotate(-90)" font-size="8.8" text-anchor="middle" fill="#333" stroke="#333" stroke-width="0.16">0.6</text>
<line x1="560.20" y1="541.30" x2="562.20" y2="541.30" stroke="#444" stroke-width="0.8" />
<text transform="translate(558.60,541.30) rotate(-90)" font-size="8.8" text-anchor="middle" fill="#333" stroke="#333" stroke-width="0.16">0.3</text>
<line x1="560.20" y1="568.10" x2="562.20" y2="568.10" stroke="#444" stroke-width="0.8" />
<text transform="translate(558.60,568.10) rotate(-90)" font-size="8.8" text-anchor="middle" fill="#333" stroke="#333" stroke-width="0.16">0.0</text>
<line x1="560.20" y1="594.60" x2="562.20" y2="594.60" stroke="#444" stroke-width="0.8" />
<text transform="translate(558.60,594.60) rotate(-90)" font-size="8.8" text-anchor="middle" fill="#333" stroke="#333" stroke-width="0.16">-0.3</text>
<line x1="575.20" y1="600.30" x2="575.20" y2="602.30" stroke="#444" stroke-width="0.8" />
<line x1="593.30" y1="600.30" x2="593.30" y2="602.30" stroke="#444" stroke-width="0.8" />
<line x1="611.50" y1="600.30" x2="611.50" y2="602.30" stroke="#444" stroke-width="0.8" />
<line x1="629.30" y1="600.30" x2="629.30" y2="602.30" stroke="#444" stroke-width="0.8" />
<line x1="647.50" y1="600.30" x2="647.50" y2="602.30" stroke="#444" stroke-width="0.8" />
<line x1="666.00" y1="600.30" x2="666.00" y2="602.30" stroke="#444" stroke-width="0.8" />
<line x1="571.93" y1="535.37" x2="571.93" y2="571.87" stroke="#62a9df" stroke-width="1.3" />
<circle cx="571.93" cy="553.62" r="3.60" fill="#62a9df" stroke="#62a9df" stroke-width="0.5"/>
<line x1="589.71" y1="541.77" x2="589.71" y2="578.51" stroke="#62a9df" stroke-width="1.3" />
<circle cx="589.71" cy="560.26" r="3.60" fill="#62a9df" stroke="#62a9df" stroke-width="0.5"/>
<line x1="607.96" y1="541.77" x2="607.96" y2="578.51" stroke="#62a9df" stroke-width="1.3" />
<circle cx="607.96" cy="560.26" r="3.60" fill="#62a9df" stroke="#62a9df" stroke-width="0.5"/>
<line x1="626.21" y1="558.36" x2="626.21" y2="595.58" stroke="#62a9df" stroke-width="1.3" />
<circle cx="626.21" cy="576.85" r="3.60" fill="#62a9df" stroke="#62a9df" stroke-width="0.5"/>
<line x1="644.22" y1="558.36" x2="644.22" y2="595.58" stroke="#62a9df" stroke-width="1.3" />
<circle cx="644.22" cy="576.85" r="3.60" fill="#62a9df" stroke="#62a9df" stroke-width="0.5"/>
<line x1="662.47" y1="545.80" x2="662.47" y2="582.78" stroke="#62a9df" stroke-width="1.3" />
<circle cx="662.47" cy="564.29" r="3.60" fill="#62a9df" stroke="#62a9df" stroke-width="0.5"/>
<line x1="574.77" y1="494.37" x2="574.77" y2="522.81" stroke="#7fcdbb" stroke-width="1.3" />
<circle cx="574.77" cy="508.59" r="3.60" fill="#7fcdbb" stroke="#7fcdbb" stroke-width="0.5"/>
<line x1="593.03" y1="490.81" x2="593.03" y2="517.60" stroke="#7fcdbb" stroke-width="1.3" />
<circle cx="593.03" cy="504.32" r="3.60" fill="#7fcdbb" stroke="#7fcdbb" stroke-width="0.5"/>
<line x1="611.51" y1="501.48" x2="611.51" y2="531.58" stroke="#7fcdbb" stroke-width="1.3" />
<circle cx="611.51" cy="516.41" r="3.60" fill="#7fcdbb" stroke="#7fcdbb" stroke-width="0.5"/>
<line x1="629.29" y1="495.55" x2="629.29" y2="524.00" stroke="#7fcdbb" stroke-width="1.3" />
<circle cx="629.29" cy="509.77" r="3.60" fill="#7fcdbb" stroke="#7fcdbb" stroke-width="0.5"/>
<line x1="647.30" y1="493.18" x2="647.30" y2="520.44" stroke="#7fcdbb" stroke-width="1.3" />
<circle cx="647.30" cy="506.93" r="3.60" fill="#7fcdbb" stroke="#7fcdbb" stroke-width="0.5"/>
<line x1="665.55" y1="500.77" x2="665.55" y2="530.63" stroke="#7fcdbb" stroke-width="1.3" />
<circle cx="665.55" cy="515.70" r="3.60" fill="#7fcdbb" stroke="#7fcdbb" stroke-width="0.5"/>
<line x1="579.99" y1="518.07" x2="579.99" y2="553.15" stroke="#262b6b" stroke-width="1.3" />
<circle cx="579.99" cy="535.85" r="3.60" fill="#262b6b" stroke="#262b6b" stroke-width="0.5"/>
<line x1="597.77" y1="517.60" x2="597.77" y2="552.44" stroke="#262b6b" stroke-width="1.3" />
<circle cx="597.77" cy="535.14" r="3.60" fill="#262b6b" stroke="#262b6b" stroke-width="0.5"/>
<line x1="617.44" y1="518.78" x2="617.44" y2="553.62" stroke="#262b6b" stroke-width="1.3" />
<circle cx="617.44" cy="536.32" r="3.60" fill="#262b6b" stroke="#262b6b" stroke-width="0.5"/>
<line x1="634.74" y1="512.15" x2="634.74" y2="545.80" stroke="#262b6b" stroke-width="1.3" />
<circle cx="634.74" cy="528.74" r="3.60" fill="#262b6b" stroke="#262b6b" stroke-width="0.5"/>
<line x1="653.70" y1="512.15" x2="653.70" y2="545.80" stroke="#262b6b" stroke-width="1.3" />
<circle cx="653.70" cy="528.74" r="3.60" fill="#262b6b" stroke="#262b6b" stroke-width="0.5"/>
<line x1="673.61" y1="506.22" x2="673.61" y2="538.93" stroke="#262b6b" stroke-width="1.3" />
<circle cx="673.61" cy="522.81" r="3.60" fill="#262b6b" stroke="#262b6b" stroke-width="0.5"/>
<text transform="translate(541.45,546.50) rotate(-90)" font-size="10" text-anchor="middle" fill="#1a1a1a" stroke="#1a1a1a" stroke-width="0.16">Pearson's correlation (R)</text>
<text transform="translate(580.30,608.90) rotate(-45)" font-size="7.9" text-anchor="end" fill="#333" stroke="#333" stroke-width="0.16"><tspan font-style="italic">GRIA2</tspan> (p.R764G)</text>
<text transform="translate(598.40,608.90) rotate(-45)" font-size="7.9" text-anchor="end" fill="#333" stroke="#333" stroke-width="0.16"><tspan font-style="italic">CYFIP2</tspan> (p.K294E)</text>
<text transform="translate(616.60,608.90) rotate(-45)" font-size="7.9" text-anchor="end" fill="#333" stroke="#333" stroke-width="0.16"><tspan font-style="italic">GRIK2</tspan> (p.Y571C)</text>
<text transform="translate(634.40,608.90) rotate(-45)" font-size="7.9" text-anchor="end" fill="#333" stroke="#333" stroke-width="0.16"><tspan font-style="italic">GRIK2</tspan> (p.Q621R)</text>
<text transform="translate(652.60,608.90) rotate(-45)" font-size="7.9" text-anchor="end" fill="#333" stroke="#333" stroke-width="0.16"><tspan font-style="italic">GRIA3</tspan> (p.R775G)</text>
<text transform="translate(671.10,608.90) rotate(-45)" font-size="7.9" text-anchor="end" fill="#333" stroke="#333" stroke-width="0.16"><tspan font-style="italic">GABRA3</tspan> (p.I342M)</text>
<text x="4.00" y="706.00" font-size="22.5" font-weight="bold" fill="#000" stroke="#000" stroke-width="0.35">I</text>
<text x="39.40" y="712.47" font-size="8.9" text-anchor="start" fill="#1a1a1a" stroke="#1a1a1a" stroke-width="0.16" font-style="italic">Typical brain development</text>
<line x1="39.40" y1="718.10" x2="210.40" y2="718.10" stroke="#ebebeb" stroke-width="0.6" />
<line x1="39.40" y1="743.10" x2="210.40" y2="743.10" stroke="#ebebeb" stroke-width="0.6" />
<line x1="39.40" y1="767.20" x2="210.40" y2="767.20" stroke="#ebebeb" stroke-width="0.6" />
<line x1="39.40" y1="791.70" x2="210.40" y2="791.70" stroke="#ebebeb" stroke-width="0.6" />
<line x1="49.40" y1="716.80" x2="49.40" y2="817.30" stroke="#ebebeb" stroke-width="0.6" />
<line x1="61.00" y1="716.80" x2="61.00" y2="817.30" stroke="#ebebeb" stroke-width="0.6" />
<line x1="68.80" y1="716.80" x2="68.80" y2="817.30" stroke="#ebebeb" stroke-width="0.6" />
<line x1="74.90" y1="716.80" x2="74.90" y2="817.30" stroke="#ebebeb" stroke-width="0.6" />
<line x1="80.10" y1="716.80" x2="80.10" y2="817.30" stroke="#ebebeb" stroke-width="0.6" />
<line x1="87.50" y1="716.80" x2="87.50" y2="817.30" stroke="#ebebeb" stroke-width="0.6" />
<line x1="98.00" y1="716.80" x2="98.00" y2="817.30" stroke="#ebebeb" stroke-width="0.6" />
<line x1="112.70" y1="716.80" x2="112.70" y2="817.30" stroke="#ebebeb" stroke-width="0.6" />
<line x1="125.50" y1="716.80" x2="125.50" y2="817.30" stroke="#ebebeb" stroke-width="0.6" />
<line x1="152.70" y1="716.80" x2="152.70" y2="817.30" stroke="#ebebeb" stroke-width="0.6" />
<line x1="182.40" y1="716.80" x2="182.40" y2="817.30" stroke="#ebebeb" stroke-width="0.6" />
<line x1="204.20" y1="716.80" x2="204.20" y2="817.30" stroke="#ebebeb" stroke-width="0.6" />
<line x1="39.40" y1="716.80" x2="39.40" y2="817.80" stroke="#555" stroke-width="1.1" />
<line x1="38.90" y1="817.30" x2="210.40" y2="817.30" stroke="#555" stroke-width="1.1" />
<line x1="104.30" y1="716.80" x2="104.30" y2="817.30" stroke="#222" stroke-width="0.7" stroke-dasharray="1.2,1.2"/>
<circle cx="49.0" cy="765.4" r="1.7" fill="#fde725" fill-opacity="0.18"/>
<circle cx="55.3" cy="775.7" r="1.7" fill="#fde725" fill-opacity="0.18"/>
<circle cx="55.6" cy="778.5" r="1.7" fill="#fde725" fill-opacity="0.18"/>
<circle cx="87.8" cy="778.2" r="1.7" fill="#fde725" fill-opacity="0.18"/>
<circle cx="72.7" cy="787.4" r="1.7" fill="#fde725" fill-opacity="0.18"/>
<circle cx="78.2" cy="805.7" r="1.7" fill="#fde725" fill-opacity="0.18"/>
<circle cx="87.7" cy="768.5" r="1.7" fill="#fde725" fill-opacity="0.18"/>
<circle cx="69.9" cy="786.3" r="1.7" fill="#fde725" fill-opacity="0.18"/>
<circle cx="82.5" cy="787.2" r="1.7" fill="#fde725" fill-opacity="0.18"/>
<circle cx="85.3" cy="773.7" r="1.7" fill="#fde725" fill-opacity="0.18"/>
<circle cx="83.5" cy="791.3" r="1.7" fill="#fde725" fill-opacity="0.18"/>
<circle cx="81.4" cy="786.9" r="1.7" fill="#fde725" fill-opacity="0.18"/>
<circle cx="73.8" cy="798.0" r="1.7" fill="#fde725" fill-opacity="0.18"/>
<circle cx="78.3" cy="786.6" r="1.7" fill="#fde725" fill-opacity="0.18"/>
<circle cx="84.7" cy="787.7" r="1.7" fill="#fde725" fill-opacity="0.18"/>
<circle cx="89.9" cy="767.4" r="1.7" fill="#fde725" fill-opacity="0.18"/>
<circle cx="76.3" cy="786.7" r="1.7" fill="#fde725" fill-opacity="0.18"/>
<circle cx="87.9" cy="772.1" r="1.7" fill="#fde725" fill-opacity="0.18"/>
<circle cx="86.9" cy="780.8" r="1.7" fill="#fde725" fill-opacity="0.18"/>
<circle cx="75.7" cy="786.3" r="1.7" fill="#fde725" fill-opacity="0.18"/>
<circle cx="88.4" cy="770.0" r="1.7" fill="#fde725" fill-opacity="0.18"/>
<circle cx="77.1" cy="787.2" r="1.7" fill="#fde725" fill-opacity="0.18"/>
<circle cx="80.6" cy="779.4" r="1.7" fill="#fde725" fill-opacity="0.18"/>
<circle cx="81.9" cy="785.4" r="1.7" fill="#fde725" fill-opacity="0.18"/>
<circle cx="81.9" cy="788.9" r="1.7" fill="#fde725" fill-opacity="0.18"/>
<circle cx="87.8" cy="773.2" r="1.7" fill="#fde725" fill-opacity="0.18"/>
<circle cx="86.6" cy="786.7" r="1.7" fill="#fde725" fill-opacity="0.18"/>
<circle cx="74.8" cy="784.4" r="1.7" fill="#fde725" fill-opacity="0.18"/>
<circle cx="86.6" cy="790.1" r="1.7" fill="#fde725" fill-opacity="0.18"/>
<circle cx="81.7" cy="779.8" r="1.7" fill="#fde725" fill-opacity="0.18"/>
<circle cx="84.1" cy="783.0" r="1.7" fill="#fde725" fill-opacity="0.18"/>
<circle cx="81.8" cy="792.2" r="1.7" fill="#fde725" fill-opacity="0.18"/>
<circle cx="76.8" cy="794.1" r="1.7" fill="#fde725" fill-opacity="0.18"/>
<circle cx="88.8" cy="780.4" r="1.7" fill="#fde725" fill-opacity="0.18"/>
<circle cx="73.5" cy="786.9" r="1.7" fill="#fde725" fill-opacity="0.18"/>
<circle cx="74.6" cy="779.6" r="1.7" fill="#fde725" fill-opacity="0.18"/>
<circle cx="77.0" cy="785.6" r="1.7" fill="#fde725" fill-opacity="0.18"/>
<circle cx="72.8" cy="774.4" r="1.7" fill="#fde725" fill-opacity="0.18"/>
<circle cx="82.4" cy="790.0" r="1.7" fill="#fde725" fill-opacity="0.18"/>
<circle cx="97.0" cy="766.0" r="1.7" fill="#fde725" fill-opacity="0.18"/>
<circle cx="100.3" cy="764.1" r="1.7" fill="#fde725" fill-opacity="0.18"/>
<circle cx="130.0" cy="725.0" r="1.7" fill="#fde725" fill-opacity="0.18"/>
<circle cx="114.1" cy="744.0" r="1.7" fill="#fde725" fill-opacity="0.18"/>
<circle cx="107.7" cy="749.8" r="1.7" fill="#fde725" fill-opacity="0.18"/>
<circle cx="111.5" cy="732.8" r="1.7" fill="#fde725" fill-opacity="0.18"/>
<circle cx="110.6" cy="745.8" r="1.7" fill="#fde725" fill-opacity="0.18"/>
<circle cx="108.0" cy="749.1" r="1.7" fill="#fde725" fill-opacity="0.18"/>
<circle cx="129.0" cy="722.3" r="1.7" fill="#fde725" fill-opacity="0.18"/>
<circle cx="127.6" cy="721.9" r="1.7" fill="#fde725" fill-opacity="0.18"/>
<circle cx="119.0" cy="736.2" r="1.7" fill="#fde725" fill-opacity="0.18"/>
<circle cx="121.8" cy="723.4" r="1.7" fill="#fde725" fill-opacity="0.18"/>
<circle cx="171.0" cy="719.5" r="1.7" fill="#fde725" fill-opacity="0.18"/>
<circle cx="187.0" cy="719.4" r="1.7" fill="#fde725" fill-opacity="0.18"/>
<circle cx="176.0" cy="723.2" r="1.7" fill="#fde725" fill-opacity="0.18"/>
<circle cx="199.3" cy="719.4" r="1.7" fill="#fde725" fill-opacity="0.18"/>
<circle cx="203.3" cy="740.2" r="1.7" fill="#fde725" fill-opacity="0.18"/>
<circle cx="203.7" cy="730.6" r="1.7" fill="#fde725" fill-opacity="0.18"/>
<circle cx="204.1" cy="724.9" r="1.7" fill="#fde725" fill-opacity="0.18"/>
<circle cx="196.3" cy="718.5" r="1.7" fill="#fde725" fill-opacity="0.18"/>
<circle cx="196.8" cy="719.1" r="1.7" fill="#fde725" fill-opacity="0.18"/>
<circle cx="204.8" cy="717.0" r="1.7" fill="#fde725" fill-opacity="0.18"/>
<circle cx="200.9" cy="726.5" r="1.7" fill="#fde725" fill-opacity="0.18"/>
<circle cx="205.9" cy="724.2" r="1.7" fill="#fde725" fill-opacity="0.18"/>
<circle cx="196.8" cy="723.5" r="1.7" fill="#fde725" fill-opacity="0.18"/>
<circle cx="205.5" cy="728.8" r="1.7" fill="#fde725" fill-opacity="0.18"/>
<circle cx="202.4" cy="723.4" r="1.7" fill="#fde725" fill-opacity="0.18"/>
<circle cx="204.3" cy="722.0" r="1.7" fill="#fde725" fill-opacity="0.18"/>
<circle cx="200.4" cy="729.8" r="1.7" fill="#fde725" fill-opacity="0.18"/>
<circle cx="51.3" cy="784.7" r="1.7" fill="#7ad151" fill-opacity="0.18"/>
<circle cx="51.4" cy="786.1" r="1.7" fill="#7ad151" fill-opacity="0.18"/>
<circle cx="58.1" cy="800.6" r="1.7" fill="#7ad151" fill-opacity="0.18"/>
<circle cx="85.1" cy="786.6" r="1.7" fill="#7ad151" fill-opacity="0.18"/>
<circle cx="74.1" cy="796.0" r="1.7" fill="#7ad151" fill-opacity="0.18"/>
<circle cx="72.2" cy="806.0" r="1.7" fill="#7ad151" fill-opacity="0.18"/>
<circle cx="70.9" cy="785.1" r="1.7" fill="#7ad151" fill-opacity="0.18"/>
<circle cx="68.6" cy="798.8" r="1.7" fill="#7ad151" fill-opacity="0.18"/>
<circle cx="74.4" cy="787.7" r="1.7" fill="#7ad151" fill-opacity="0.18"/>
<circle cx="77.4" cy="804.3" r="1.7" fill="#7ad151" fill-opacity="0.18"/>
<circle cx="88.2" cy="783.6" r="1.7" fill="#7ad151" fill-opacity="0.18"/>
<circle cx="82.9" cy="792.8" r="1.7" fill="#7ad151" fill-opacity="0.18"/>
<circle cx="89.0" cy="774.8" r="1.7" fill="#7ad151" fill-opacity="0.18"/>
<circle cx="69.1" cy="796.1" r="1.7" fill="#7ad151" fill-opacity="0.18"/>
<circle cx="79.8" cy="795.3" r="1.7" fill="#7ad151" fill-opacity="0.18"/>
<circle cx="87.8" cy="792.6" r="1.7" fill="#7ad151" fill-opacity="0.18"/>
<circle cx="70.8" cy="792.3" r="1.7" fill="#7ad151" fill-opacity="0.18"/>
<circle cx="82.9" cy="797.2" r="1.7" fill="#7ad151" fill-opacity="0.18"/>
<circle cx="85.7" cy="783.0" r="1.7" fill="#7ad151" fill-opacity="0.18"/>
<circle cx="77.0" cy="795.9" r="1.7" fill="#7ad151" fill-opacity="0.18"/>
<circle cx="85.5" cy="784.1" r="1.7" fill="#7ad151" fill-opacity="0.18"/>
<circle cx="79.1" cy="796.6" r="1.7" fill="#7ad151" fill-opacity="0.18"/>
<circle cx="79.1" cy="781.4" r="1.7" fill="#7ad151" fill-opacity="0.18"/>
<circle cx="74.7" cy="800.4" r="1.7" fill="#7ad151" fill-opacity="0.18"/>
<circle cx="72.1" cy="804.7" r="1.7" fill="#7ad151" fill-opacity="0.18"/>
<circle cx="88.8" cy="775.8" r="1.7" fill="#7ad151" fill-opacity="0.18"/>
<circle cx="79.4" cy="803.1" r="1.7" fill="#7ad151" fill-opacity="0.18"/>
<circle cx="75.8" cy="789.9" r="1.7" fill="#7ad151" fill-opacity="0.18"/>
<circle cx="84.7" cy="789.8" r="1.7" fill="#7ad151" fill-opacity="0.18"/>
<circle cx="80.8" cy="783.0" r="1.7" fill="#7ad151" fill-opacity="0.18"/>
<circle cx="76.9" cy="791.5" r="1.7" fill="#7ad151" fill-opacity="0.18"/>
<circle cx="73.2" cy="797.4" r="1.7" fill="#7ad151" fill-opacity="0.18"/>
<circle cx="82.0" cy="786.3" r="1.7" fill="#7ad151" fill-opacity="0.18"/>
<circle cx="72.8" cy="803.7" r="1.7" fill="#7ad151" fill-opacity="0.18"/>
<circle cx="87.4" cy="778.0" r="1.7" fill="#7ad151" fill-opacity="0.18"/>
<circle cx="87.2" cy="771.0" r="1.7" fill="#7ad151" fill-opacity="0.18"/>
<circle cx="87.3" cy="781.6" r="1.7" fill="#7ad151" fill-opacity="0.18"/>
<circle cx="84.7" cy="785.3" r="1.7" fill="#7ad151" fill-opacity="0.18"/>
<circle cx="74.9" cy="791.4" r="1.7" fill="#7ad151" fill-opacity="0.18"/>
<circle cx="98.1" cy="769.4" r="1.7" fill="#7ad151" fill-opacity="0.18"/>
<circle cx="97.5" cy="770.1" r="1.7" fill="#7ad151" fill-opacity="0.18"/>
<circle cx="114.9" cy="732.0" r="1.7" fill="#7ad151" fill-opacity="0.18"/>
<circle cx="112.8" cy="741.5" r="1.7" fill="#7ad151" fill-opacity="0.18"/>
<circle cx="125.0" cy="723.0" r="1.7" fill="#7ad151" fill-opacity="0.18"/>
<circle cx="115.1" cy="737.2" r="1.7" fill="#7ad151" fill-opacity="0.18"/>
<circle cx="125.8" cy="735.0" r="1.7" fill="#7ad151" fill-opacity="0.18"/>
<circle cx="110.9" cy="743.0" r="1.7" fill="#7ad151" fill-opacity="0.18"/>
<circle cx="125.5" cy="717.0" r="1.7" fill="#7ad151" fill-opacity="0.18"/>
<circle cx="125.9" cy="736.3" r="1.7" fill="#7ad151" fill-opacity="0.18"/>
<circle cx="126.8" cy="727.9" r="1.7" fill="#7ad151" fill-opacity="0.18"/>
<circle cx="108.1" cy="743.6" r="1.7" fill="#7ad151" fill-opacity="0.18"/>
<circle cx="166.4" cy="735.1" r="1.7" fill="#7ad151" fill-opacity="0.18"/>
<circle cx="161.1" cy="722.9" r="1.7" fill="#7ad151" fill-opacity="0.18"/>
<circle cx="140.1" cy="729.9" r="1.7" fill="#7ad151" fill-opacity="0.18"/>
<circle cx="196.8" cy="731.1" r="1.7" fill="#7ad151" fill-opacity="0.18"/>
<circle cx="197.0" cy="731.2" r="1.7" fill="#7ad151" fill-opacity="0.18"/>
<circle cx="209.6" cy="728.2" r="1.7" fill="#7ad151" fill-opacity="0.18"/>
<circle cx="203.0" cy="725.7" r="1.7" fill="#7ad151" fill-opacity="0.18"/>
<circle cx="200.4" cy="726.0" r="1.7" fill="#7ad151" fill-opacity="0.18"/>
<circle cx="205.1" cy="732.4" r="1.7" fill="#7ad151" fill-opacity="0.18"/>
<circle cx="204.2" cy="724.9" r="1.7" fill="#7ad151" fill-opacity="0.18"/>
<circle cx="200.6" cy="731.2" r="1.7" fill="#7ad151" fill-opacity="0.18"/>
<circle cx="197.7" cy="719.8" r="1.7" fill="#7ad151" fill-opacity="0.18"/>
<circle cx="201.3" cy="724.8" r="1.7" fill="#7ad151" fill-opacity="0.18"/>
<circle cx="197.1" cy="731.4" r="1.7" fill="#7ad151" fill-opacity="0.18"/>
<circle cx="204.5" cy="732.6" r="1.7" fill="#7ad151" fill-opacity="0.18"/>
<circle cx="207.0" cy="719.0" r="1.7" fill="#7ad151" fill-opacity="0.18"/>
<circle cx="204.7" cy="734.7" r="1.7" fill="#7ad151" fill-opacity="0.18"/>
<circle cx="52.3" cy="789.1" r="1.7" fill="#22a884" fill-opacity="0.18"/>
<circle cx="56.9" cy="798.0" r="1.7" fill="#22a884" fill-opacity="0.18"/>
<circle cx="52.1" cy="791.8" r="1.7" fill="#22a884" fill-opacity="0.18"/>
<circle cx="72.4" cy="778.8" r="1.7" fill="#22a884" fill-opacity="0.18"/>
<circle cx="79.9" cy="778.7" r="1.7" fill="#22a884" fill-opacity="0.18"/>
<circle cx="77.0" cy="779.5" r="1.7" fill="#22a884" fill-opacity="0.18"/>
<circle cx="77.1" cy="793.1" r="1.7" fill="#22a884" fill-opacity="0.18"/>
<circle cx="75.7" cy="772.3" r="1.7" fill="#22a884" fill-opacity="0.18"/>
<circle cx="89.3" cy="769.5" r="1.7" fill="#22a884" fill-opacity="0.18"/>
<circle cx="78.1" cy="776.1" r="1.7" fill="#22a884" fill-opacity="0.18"/>
<circle cx="69.2" cy="791.4" r="1.7" fill="#22a884" fill-opacity="0.18"/>
<circle cx="89.1" cy="759.6" r="1.7" fill="#22a884" fill-opacity="0.18"/>
<circle cx="86.6" cy="766.4" r="1.7" fill="#22a884" fill-opacity="0.18"/>
<circle cx="80.7" cy="769.7" r="1.7" fill="#22a884" fill-opacity="0.18"/>
<circle cx="68.7" cy="787.3" r="1.7" fill="#22a884" fill-opacity="0.18"/>
<circle cx="69.7" cy="787.0" r="1.7" fill="#22a884" fill-opacity="0.18"/>
<circle cx="86.1" cy="775.1" r="1.7" fill="#22a884" fill-opacity="0.18"/>
<circle cx="73.7" cy="785.2" r="1.7" fill="#22a884" fill-opacity="0.18"/>
<circle cx="87.0" cy="771.7" r="1.7" fill="#22a884" fill-opacity="0.18"/>
<circle cx="86.3" cy="773.1" r="1.7" fill="#22a884" fill-opacity="0.18"/>
<circle cx="74.1" cy="788.8" r="1.7" fill="#22a884" fill-opacity="0.18"/>
<circle cx="86.2" cy="765.5" r="1.7" fill="#22a884" fill-opacity="0.18"/>
<circle cx="88.2" cy="761.2" r="1.7" fill="#22a884" fill-opacity="0.18"/>
<circle cx="72.6" cy="780.8" r="1.7" fill="#22a884" fill-opacity="0.18"/>
<circle cx="85.0" cy="765.2" r="1.7" fill="#22a884" fill-opacity="0.18"/>
<circle cx="73.8" cy="783.9" r="1.7" fill="#22a884" fill-opacity="0.18"/>
<circle cx="84.7" cy="775.9" r="1.7" fill="#22a884" fill-opacity="0.18"/>
<circle cx="77.5" cy="780.8" r="1.7" fill="#22a884" fill-opacity="0.18"/>
<circle cx="81.6" cy="780.1" r="1.7" fill="#22a884" fill-opacity="0.18"/>
<circle cx="75.1" cy="779.9" r="1.7" fill="#22a884" fill-opacity="0.18"/>
<circle cx="76.2" cy="775.8" r="1.7" fill="#22a884" fill-opacity="0.18"/>
<circle cx="78.7" cy="774.6" r="1.7" fill="#22a884" fill-opacity="0.18"/>
<circle cx="78.2" cy="776.9" r="1.7" fill="#22a884" fill-opacity="0.18"/>
<circle cx="79.1" cy="783.3" r="1.7" fill="#22a884" fill-opacity="0.18"/>
<circle cx="73.4" cy="770.3" r="1.7" fill="#22a884" fill-opacity="0.18"/>
<circle cx="79.0" cy="780.3" r="1.7" fill="#22a884" fill-opacity="0.18"/>
<circle cx="84.7" cy="778.5" r="1.7" fill="#22a884" fill-opacity="0.18"/>
<circle cx="84.9" cy="781.0" r="1.7" fill="#22a884" fill-opacity="0.18"/>
<circle cx="83.5" cy="769.6" r="1.7" fill="#22a884" fill-opacity="0.18"/>
<circle cx="98.9" cy="756.3" r="1.7" fill="#22a884" fill-opacity="0.18"/>
<circle cx="100.4" cy="756.4" r="1.7" fill="#22a884" fill-opacity="0.18"/>
<circle cx="124.2" cy="739.4" r="1.7" fill="#22a884" fill-opacity="0.18"/>
<circle cx="128.1" cy="729.8" r="1.7" fill="#22a884" fill-opacity="0.18"/>
<circle cx="123.5" cy="736.6" r="1.7" fill="#22a884" fill-opacity="0.18"/>
<circle cx="111.3" cy="742.1" r="1.7" fill="#22a884" fill-opacity="0.18"/>
<circle cx="120.5" cy="742.0" r="1.7" fill="#22a884" fill-opacity="0.18"/>
<circle cx="114.2" cy="741.9" r="1.7" fill="#22a884" fill-opacity="0.18"/>
<circle cx="128.9" cy="745.3" r="1.7" fill="#22a884" fill-opacity="0.18"/>
<circle cx="113.8" cy="739.4" r="1.7" fill="#22a884" fill-opacity="0.18"/>
<circle cx="126.6" cy="730.7" r="1.7" fill="#22a884" fill-opacity="0.18"/>
<circle cx="120.4" cy="737.6" r="1.7" fill="#22a884" fill-opacity="0.18"/>
<circle cx="141.2" cy="738.1" r="1.7" fill="#22a884" fill-opacity="0.18"/>
<circle cx="164.0" cy="732.5" r="1.7" fill="#22a884" fill-opacity="0.18"/>
<circle cx="158.0" cy="736.8" r="1.7" fill="#22a884" fill-opacity="0.18"/>
<circle cx="200.5" cy="731.0" r="1.7" fill="#22a884" fill-opacity="0.18"/>
<circle cx="209.9" cy="725.7" r="1.7" fill="#22a884" fill-opacity="0.18"/>
<circle cx="202.7" cy="724.6" r="1.7" fill="#22a884" fill-opacity="0.18"/>
<circle cx="207.7" cy="725.2" r="1.7" fill="#22a884" fill-opacity="0.18"/>
<circle cx="207.5" cy="722.7" r="1.7" fill="#22a884" fill-opacity="0.18"/>
<circle cx="206.1" cy="727.0" r="1.7" fill="#22a884" fill-opacity="0.18"/>
<circle cx="208.0" cy="721.2" r="1.7" fill="#22a884" fill-opacity="0.18"/>
<circle cx="209.4" cy="734.7" r="1.7" fill="#22a884" fill-opacity="0.18"/>
<circle cx="202.5" cy="730.7" r="1.7" fill="#22a884" fill-opacity="0.18"/>
<circle cx="206.0" cy="733.8" r="1.7" fill="#22a884" fill-opacity="0.18"/>
<circle cx="205.5" cy="740.9" r="1.7" fill="#22a884" fill-opacity="0.18"/>
<circle cx="199.4" cy="727.7" r="1.7" fill="#22a884" fill-opacity="0.18"/>
<circle cx="198.7" cy="730.7" r="1.7" fill="#22a884" fill-opacity="0.18"/>
<circle cx="205.9" cy="733.3" r="1.7" fill="#22a884" fill-opacity="0.18"/>
<circle cx="59.6" cy="801.1" r="1.7" fill="#2a788e" fill-opacity="0.18"/>
<circle cx="59.7" cy="794.7" r="1.7" fill="#2a788e" fill-opacity="0.18"/>
<circle cx="50.3" cy="782.7" r="1.7" fill="#2a788e" fill-opacity="0.18"/>
<circle cx="68.2" cy="805.3" r="1.7" fill="#2a788e" fill-opacity="0.18"/>
<circle cx="68.4" cy="803.2" r="1.7" fill="#2a788e" fill-opacity="0.18"/>
<circle cx="75.3" cy="796.0" r="1.7" fill="#2a788e" fill-opacity="0.18"/>
<circle cx="81.1" cy="799.7" r="1.7" fill="#2a788e" fill-opacity="0.18"/>
<circle cx="74.7" cy="800.1" r="1.7" fill="#2a788e" fill-opacity="0.18"/>
<circle cx="77.3" cy="796.0" r="1.7" fill="#2a788e" fill-opacity="0.18"/>
<circle cx="81.2" cy="800.4" r="1.7" fill="#2a788e" fill-opacity="0.18"/>
<circle cx="90.8" cy="785.3" r="1.7" fill="#2a788e" fill-opacity="0.18"/>
<circle cx="69.1" cy="805.9" r="1.7" fill="#2a788e" fill-opacity="0.18"/>
<circle cx="73.1" cy="799.4" r="1.7" fill="#2a788e" fill-opacity="0.18"/>
<circle cx="89.1" cy="790.6" r="1.7" fill="#2a788e" fill-opacity="0.18"/>
<circle cx="89.6" cy="805.8" r="1.7" fill="#2a788e" fill-opacity="0.18"/>
<circle cx="75.7" cy="809.7" r="1.7" fill="#2a788e" fill-opacity="0.18"/>
<circle cx="86.1" cy="796.2" r="1.7" fill="#2a788e" fill-opacity="0.18"/>
<circle cx="83.5" cy="793.7" r="1.7" fill="#2a788e" fill-opacity="0.18"/>
<circle cx="83.1" cy="800.0" r="1.7" fill="#2a788e" fill-opacity="0.18"/>
<circle cx="84.8" cy="793.1" r="1.7" fill="#2a788e" fill-opacity="0.18"/>
<circle cx="88.3" cy="790.9" r="1.7" fill="#2a788e" fill-opacity="0.18"/>
<circle cx="73.9" cy="795.0" r="1.7" fill="#2a788e" fill-opacity="0.18"/>
<circle cx="80.4" cy="795.0" r="1.7" fill="#2a788e" fill-opacity="0.18"/>
<circle cx="83.5" cy="805.0" r="1.7" fill="#2a788e" fill-opacity="0.18"/>
<circle cx="81.6" cy="803.0" r="1.7" fill="#2a788e" fill-opacity="0.18"/>
<circle cx="82.7" cy="805.9" r="1.7" fill="#2a788e" fill-opacity="0.18"/>
<circle cx="75.0" cy="806.9" r="1.7" fill="#2a788e" fill-opacity="0.18"/>
<circle cx="74.1" cy="795.9" r="1.7" fill="#2a788e" fill-opacity="0.18"/>
<circle cx="87.8" cy="797.5" r="1.7" fill="#2a788e" fill-opacity="0.18"/>
<circle cx="84.2" cy="801.3" r="1.7" fill="#2a788e" fill-opacity="0.18"/>
<circle cx="82.2" cy="792.0" r="1.7" fill="#2a788e" fill-opacity="0.18"/>
<circle cx="79.8" cy="797.6" r="1.7" fill="#2a788e" fill-opacity="0.18"/>
<circle cx="77.3" cy="801.4" r="1.7" fill="#2a788e" fill-opacity="0.18"/>
<circle cx="84.2" cy="799.4" r="1.7" fill="#2a788e" fill-opacity="0.18"/>
<circle cx="84.8" cy="788.5" r="1.7" fill="#2a788e" fill-opacity="0.18"/>
<circle cx="78.1" cy="798.0" r="1.7" fill="#2a788e" fill-opacity="0.18"/>
<circle cx="76.5" cy="792.5" r="1.7" fill="#2a788e" fill-opacity="0.18"/>
<circle cx="72.7" cy="808.4" r="1.7" fill="#2a788e" fill-opacity="0.18"/>
<circle cx="80.6" cy="800.3" r="1.7" fill="#2a788e" fill-opacity="0.18"/>
<circle cx="97.1" cy="790.4" r="1.7" fill="#2a788e" fill-opacity="0.18"/>
<circle cx="97.0" cy="777.5" r="1.7" fill="#2a788e" fill-opacity="0.18"/>
<circle cx="124.7" cy="749.6" r="1.7" fill="#2a788e" fill-opacity="0.18"/>
<circle cx="115.1" cy="754.9" r="1.7" fill="#2a788e" fill-opacity="0.18"/>
<circle cx="113.2" cy="752.7" r="1.7" fill="#2a788e" fill-opacity="0.18"/>
<circle cx="109.3" cy="768.7" r="1.7" fill="#2a788e" fill-opacity="0.18"/>
<circle cx="123.7" cy="752.7" r="1.7" fill="#2a788e" fill-opacity="0.18"/>
<circle cx="111.3" cy="760.2" r="1.7" fill="#2a788e" fill-opacity="0.18"/>
<circle cx="124.1" cy="751.4" r="1.7" fill="#2a788e" fill-opacity="0.18"/>
<circle cx="125.8" cy="744.7" r="1.7" fill="#2a788e" fill-opacity="0.18"/>
<circle cx="110.4" cy="751.1" r="1.7" fill="#2a788e" fill-opacity="0.18"/>
<circle cx="116.2" cy="754.7" r="1.7" fill="#2a788e" fill-opacity="0.18"/>
<circle cx="168.4" cy="742.6" r="1.7" fill="#2a788e" fill-opacity="0.18"/>
<circle cx="150.1" cy="738.9" r="1.7" fill="#2a788e" fill-opacity="0.18"/>
<circle cx="141.5" cy="748.6" r="1.7" fill="#2a788e" fill-opacity="0.18"/>
<circle cx="207.2" cy="746.2" r="1.7" fill="#2a788e" fill-opacity="0.18"/>
<circle cx="201.4" cy="726.1" r="1.7" fill="#2a788e" fill-opacity="0.18"/>
<circle cx="203.7" cy="727.8" r="1.7" fill="#2a788e" fill-opacity="0.18"/>
<circle cx="209.7" cy="730.6" r="1.7" fill="#2a788e" fill-opacity="0.18"/>
<circle cx="205.6" cy="731.4" r="1.7" fill="#2a788e" fill-opacity="0.18"/>
<circle cx="202.8" cy="746.5" r="1.7" fill="#2a788e" fill-opacity="0.18"/>
<circle cx="204.4" cy="735.0" r="1.7" fill="#2a788e" fill-opacity="0.18"/>
<circle cx="206.8" cy="734.5" r="1.7" fill="#2a788e" fill-opacity="0.18"/>
<circle cx="205.3" cy="727.7" r="1.7" fill="#2a788e" fill-opacity="0.18"/>
<circle cx="202.4" cy="735.6" r="1.7" fill="#2a788e" fill-opacity="0.18"/>
<circle cx="198.7" cy="733.9" r="1.7" fill="#2a788e" fill-opacity="0.18"/>
<circle cx="203.0" cy="734.9" r="1.7" fill="#2a788e" fill-opacity="0.18"/>
<circle cx="205.0" cy="727.8" r="1.7" fill="#2a788e" fill-opacity="0.18"/>
<circle cx="209.4" cy="737.5" r="1.7" fill="#2a788e" fill-opacity="0.18"/>
<circle cx="60.2" cy="813.1" r="1.7" fill="#414487" fill-opacity="0.18"/>
<circle cx="55.6" cy="812.0" r="1.7" fill="#414487" fill-opacity="0.18"/>
<circle cx="45.9" cy="796.6" r="1.7" fill="#414487" fill-opacity="0.18"/>
<circle cx="68.0" cy="812.3" r="1.7" fill="#414487" fill-opacity="0.18"/>
<circle cx="80.0" cy="810.9" r="1.7" fill="#414487" fill-opacity="0.18"/>
<circle cx="88.6" cy="796.8" r="1.7" fill="#414487" fill-opacity="0.18"/>
<circle cx="84.1" cy="811.4" r="1.7" fill="#414487" fill-opacity="0.18"/>
<circle cx="81.6" cy="814.3" r="1.7" fill="#414487" fill-opacity="0.18"/>
<circle cx="90.1" cy="795.5" r="1.7" fill="#414487" fill-opacity="0.18"/>
<circle cx="74.9" cy="796.7" r="1.7" fill="#414487" fill-opacity="0.18"/>
<circle cx="87.0" cy="812.6" r="1.7" fill="#414487" fill-opacity="0.18"/>
<circle cx="77.4" cy="801.4" r="1.7" fill="#414487" fill-opacity="0.18"/>
<circle cx="85.7" cy="798.4" r="1.7" fill="#414487" fill-opacity="0.18"/>
<circle cx="67.1" cy="808.6" r="1.7" fill="#414487" fill-opacity="0.18"/>
<circle cx="68.0" cy="809.7" r="1.7" fill="#414487" fill-opacity="0.18"/>
<circle cx="78.9" cy="810.2" r="1.7" fill="#414487" fill-opacity="0.18"/>
<circle cx="84.2" cy="795.9" r="1.7" fill="#414487" fill-opacity="0.18"/>
<circle cx="83.0" cy="802.2" r="1.7" fill="#414487" fill-opacity="0.18"/>
<circle cx="77.2" cy="798.0" r="1.7" fill="#414487" fill-opacity="0.18"/>
<circle cx="78.8" cy="808.5" r="1.7" fill="#414487" fill-opacity="0.18"/>
<circle cx="75.1" cy="814.2" r="1.7" fill="#414487" fill-opacity="0.18"/>
<circle cx="78.2" cy="801.6" r="1.7" fill="#414487" fill-opacity="0.18"/>
<circle cx="78.3" cy="799.5" r="1.7" fill="#414487" fill-opacity="0.18"/>
<circle cx="75.8" cy="805.8" r="1.7" fill="#414487" fill-opacity="0.18"/>
<circle cx="72.0" cy="810.3" r="1.7" fill="#414487" fill-opacity="0.18"/>
<circle cx="74.4" cy="816.0" r="1.7" fill="#414487" fill-opacity="0.18"/>
<circle cx="79.8" cy="807.0" r="1.7" fill="#414487" fill-opacity="0.18"/>
<circle cx="74.9" cy="810.8" r="1.7" fill="#414487" fill-opacity="0.18"/>
<circle cx="78.9" cy="807.1" r="1.7" fill="#414487" fill-opacity="0.18"/>
<circle cx="73.9" cy="808.6" r="1.7" fill="#414487" fill-opacity="0.18"/>
<circle cx="74.9" cy="805.4" r="1.7" fill="#414487" fill-opacity="0.18"/>
<circle cx="72.4" cy="807.9" r="1.7" fill="#414487" fill-opacity="0.18"/>
<circle cx="79.6" cy="798.9" r="1.7" fill="#414487" fill-opacity="0.18"/>
<circle cx="72.9" cy="812.3" r="1.7" fill="#414487" fill-opacity="0.18"/>
<circle cx="78.9" cy="805.5" r="1.7" fill="#414487" fill-opacity="0.18"/>
<circle cx="88.4" cy="800.2" r="1.7" fill="#414487" fill-opacity="0.18"/>
<circle cx="75.7" cy="812.3" r="1.7" fill="#414487" fill-opacity="0.18"/>
<circle cx="74.8" cy="810.8" r="1.7" fill="#414487" fill-opacity="0.18"/>
<circle cx="82.6" cy="802.2" r="1.7" fill="#414487" fill-opacity="0.18"/>
<circle cx="95.3" cy="794.6" r="1.7" fill="#414487" fill-opacity="0.18"/>
<circle cx="99.4" cy="786.5" r="1.7" fill="#414487" fill-opacity="0.18"/>
<circle cx="117.7" cy="777.6" r="1.7" fill="#414487" fill-opacity="0.18"/>
<circle cx="128.5" cy="758.4" r="1.7" fill="#414487" fill-opacity="0.18"/>
<circle cx="113.1" cy="775.2" r="1.7" fill="#414487" fill-opacity="0.18"/>
<circle cx="125.7" cy="757.6" r="1.7" fill="#414487" fill-opacity="0.18"/>
<circle cx="109.2" cy="771.5" r="1.7" fill="#414487" fill-opacity="0.18"/>
<circle cx="122.7" cy="771.3" r="1.7" fill="#414487" fill-opacity="0.18"/>
<circle cx="107.1" cy="776.3" r="1.7" fill="#414487" fill-opacity="0.18"/>
<circle cx="107.7" cy="780.2" r="1.7" fill="#414487" fill-opacity="0.18"/>
<circle cx="107.8" cy="779.0" r="1.7" fill="#414487" fill-opacity="0.18"/>
<circle cx="108.2" cy="769.2" r="1.7" fill="#414487" fill-opacity="0.18"/>
<circle cx="150.0" cy="744.7" r="1.7" fill="#414487" fill-opacity="0.18"/>
<circle cx="188.7" cy="740.7" r="1.7" fill="#414487" fill-opacity="0.18"/>
<circle cx="185.9" cy="750.9" r="1.7" fill="#414487" fill-opacity="0.18"/>
<circle cx="209.2" cy="752.0" r="1.7" fill="#414487" fill-opacity="0.18"/>
<circle cx="204.5" cy="748.5" r="1.7" fill="#414487" fill-opacity="0.18"/>
<circle cx="209.3" cy="751.3" r="1.7" fill="#414487" fill-opacity="0.18"/>
<circle cx="207.9" cy="749.7" r="1.7" fill="#414487" fill-opacity="0.18"/>
<circle cx="197.6" cy="744.1" r="1.7" fill="#414487" fill-opacity="0.18"/>
<circle cx="205.5" cy="750.8" r="1.7" fill="#414487" fill-opacity="0.18"/>
<circle cx="209.0" cy="751.5" r="1.7" fill="#414487" fill-opacity="0.18"/>
<circle cx="206.3" cy="756.0" r="1.7" fill="#414487" fill-opacity="0.18"/>
<circle cx="207.7" cy="734.2" r="1.7" fill="#414487" fill-opacity="0.18"/>
<circle cx="201.1" cy="743.4" r="1.7" fill="#414487" fill-opacity="0.18"/>
<circle cx="201.8" cy="749.1" r="1.7" fill="#414487" fill-opacity="0.18"/>
<circle cx="202.7" cy="758.0" r="1.7" fill="#414487" fill-opacity="0.18"/>
<circle cx="199.8" cy="752.6" r="1.7" fill="#414487" fill-opacity="0.18"/>
<circle cx="204.5" cy="755.8" r="1.7" fill="#414487" fill-opacity="0.18"/>
<circle cx="57.1" cy="795.8" r="1.7" fill="#440154" fill-opacity="0.18"/>
<circle cx="47.6" cy="802.6" r="1.7" fill="#440154" fill-opacity="0.18"/>
<circle cx="57.1" cy="807.8" r="1.7" fill="#440154" fill-opacity="0.18"/>
<circle cx="85.7" cy="799.3" r="1.7" fill="#440154" fill-opacity="0.18"/>
<circle cx="83.6" cy="803.7" r="1.7" fill="#440154" fill-opacity="0.18"/>
<circle cx="87.9" cy="799.4" r="1.7" fill="#440154" fill-opacity="0.18"/>
<circle cx="82.7" cy="810.0" r="1.7" fill="#440154" fill-opacity="0.18"/>
<circle cx="77.7" cy="792.7" r="1.7" fill="#440154" fill-opacity="0.18"/>
<circle cx="89.3" cy="795.0" r="1.7" fill="#440154" fill-opacity="0.18"/>
<circle cx="75.6" cy="796.4" r="1.7" fill="#440154" fill-opacity="0.18"/>
<circle cx="67.9" cy="789.7" r="1.7" fill="#440154" fill-opacity="0.18"/>
<circle cx="68.7" cy="812.9" r="1.7" fill="#440154" fill-opacity="0.18"/>
<circle cx="80.8" cy="803.5" r="1.7" fill="#440154" fill-opacity="0.18"/>
<circle cx="82.9" cy="802.0" r="1.7" fill="#440154" fill-opacity="0.18"/>
<circle cx="72.3" cy="806.5" r="1.7" fill="#440154" fill-opacity="0.18"/>
<circle cx="82.8" cy="801.5" r="1.7" fill="#440154" fill-opacity="0.18"/>
<circle cx="81.2" cy="806.1" r="1.7" fill="#440154" fill-opacity="0.18"/>
<circle cx="88.4" cy="796.5" r="1.7" fill="#440154" fill-opacity="0.18"/>
<circle cx="75.7" cy="797.0" r="1.7" fill="#440154" fill-opacity="0.18"/>
<circle cx="85.3" cy="796.4" r="1.7" fill="#440154" fill-opacity="0.18"/>
<circle cx="82.3" cy="802.3" r="1.7" fill="#440154" fill-opacity="0.18"/>
<circle cx="75.2" cy="795.9" r="1.7" fill="#440154" fill-opacity="0.18"/>
<circle cx="75.0" cy="811.2" r="1.7" fill="#440154" fill-opacity="0.18"/>
<circle cx="73.9" cy="807.4" r="1.7" fill="#440154" fill-opacity="0.18"/>
<circle cx="72.4" cy="806.3" r="1.7" fill="#440154" fill-opacity="0.18"/>
<circle cx="87.2" cy="796.4" r="1.7" fill="#440154" fill-opacity="0.18"/>
<circle cx="73.5" cy="798.9" r="1.7" fill="#440154" fill-opacity="0.18"/>
<circle cx="86.1" cy="798.7" r="1.7" fill="#440154" fill-opacity="0.18"/>
<circle cx="82.5" cy="794.8" r="1.7" fill="#440154" fill-opacity="0.18"/>
<circle cx="86.8" cy="790.3" r="1.7" fill="#440154" fill-opacity="0.18"/>
<circle cx="77.9" cy="797.2" r="1.7" fill="#440154" fill-opacity="0.18"/>
<circle cx="73.9" cy="799.0" r="1.7" fill="#440154" fill-opacity="0.18"/>
<circle cx="86.2" cy="789.6" r="1.7" fill="#440154" fill-opacity="0.18"/>
<circle cx="75.5" cy="796.7" r="1.7" fill="#440154" fill-opacity="0.18"/>
<circle cx="81.2" cy="792.8" r="1.7" fill="#440154" fill-opacity="0.18"/>
<circle cx="73.3" cy="804.6" r="1.7" fill="#440154" fill-opacity="0.18"/>
<circle cx="77.9" cy="799.8" r="1.7" fill="#440154" fill-opacity="0.18"/>
<circle cx="81.4" cy="801.5" r="1.7" fill="#440154" fill-opacity="0.18"/>
<circle cx="84.5" cy="792.2" r="1.7" fill="#440154" fill-opacity="0.18"/>
<circle cx="98.6" cy="791.3" r="1.7" fill="#440154" fill-opacity="0.18"/>
<circle cx="96.3" cy="780.7" r="1.7" fill="#440154" fill-opacity="0.18"/>
<circle cx="114.7" cy="791.2" r="1.7" fill="#440154" fill-opacity="0.18"/>
<circle cx="116.9" cy="777.3" r="1.7" fill="#440154" fill-opacity="0.18"/>
<circle cx="110.8" cy="780.2" r="1.7" fill="#440154" fill-opacity="0.18"/>
<circle cx="128.4" cy="766.6" r="1.7" fill="#440154" fill-opacity="0.18"/>
<circle cx="129.7" cy="756.0" r="1.7" fill="#440154" fill-opacity="0.18"/>
<circle cx="121.1" cy="777.8" r="1.7" fill="#440154" fill-opacity="0.18"/>
<circle cx="116.6" cy="770.8" r="1.7" fill="#440154" fill-opacity="0.18"/>
<circle cx="128.8" cy="780.3" r="1.7" fill="#440154" fill-opacity="0.18"/>
<circle cx="118.1" cy="764.5" r="1.7" fill="#440154" fill-opacity="0.18"/>
<circle cx="124.8" cy="752.4" r="1.7" fill="#440154" fill-opacity="0.18"/>
<circle cx="186.0" cy="770.8" r="1.7" fill="#440154" fill-opacity="0.18"/>
<circle cx="154.6" cy="765.7" r="1.7" fill="#440154" fill-opacity="0.18"/>
<circle cx="144.8" cy="763.5" r="1.7" fill="#440154" fill-opacity="0.18"/>
<circle cx="206.1" cy="759.7" r="1.7" fill="#440154" fill-opacity="0.18"/>
<circle cx="204.9" cy="768.7" r="1.7" fill="#440154" fill-opacity="0.18"/>
<circle cx="196.6" cy="761.6" r="1.7" fill="#440154" fill-opacity="0.18"/>
<circle cx="202.1" cy="756.9" r="1.7" fill="#440154" fill-opacity="0.18"/>
<circle cx="200.8" cy="761.2" r="1.7" fill="#440154" fill-opacity="0.18"/>
<circle cx="200.0" cy="751.8" r="1.7" fill="#440154" fill-opacity="0.18"/>
<circle cx="197.4" cy="759.8" r="1.7" fill="#440154" fill-opacity="0.18"/>
<circle cx="197.1" cy="767.6" r="1.7" fill="#440154" fill-opacity="0.18"/>
<circle cx="198.1" cy="762.4" r="1.7" fill="#440154" fill-opacity="0.18"/>
<circle cx="209.7" cy="752.4" r="1.7" fill="#440154" fill-opacity="0.18"/>
<circle cx="209.7" cy="765.8" r="1.7" fill="#440154" fill-opacity="0.18"/>
<circle cx="198.3" cy="757.6" r="1.7" fill="#440154" fill-opacity="0.18"/>
<circle cx="200.4" cy="754.6" r="1.7" fill="#440154" fill-opacity="0.18"/>
<circle cx="203.6" cy="763.4" r="1.7" fill="#440154" fill-opacity="0.18"/>
<path d="M47.90,798.10C49.53,798.63 54.10,800.43 57.70,801.30C61.30,802.17 65.55,803.30 69.50,803.30C73.45,803.30 77.45,803.05 81.40,801.30C85.35,799.55 89.48,795.75 93.20,792.80C96.92,789.85 100.42,786.33 103.70,783.60C106.98,780.87 110.05,778.48 112.90,776.40C115.75,774.32 118.28,772.42 120.80,771.10C123.32,769.78 124.65,769.45 128.00,768.50C131.35,767.55 136.37,766.35 140.90,765.40C145.43,764.45 148.40,763.42 155.20,762.80C162.00,762.18 172.85,761.88 181.70,761.70C190.55,761.52 203.87,761.70 208.30,761.70" fill="none" stroke="#440154" stroke-width="1.9" stroke-linecap="round"/>
<path d="M47.90,799.40C49.53,800.38 54.32,803.77 57.70,805.30C61.08,806.83 64.70,808.38 68.20,808.60C71.70,808.82 75.42,808.03 78.70,806.60C81.98,805.17 84.83,802.63 87.90,800.00C90.97,797.37 94.25,794.08 97.10,790.80C99.95,787.52 102.37,783.58 105.00,780.30C107.63,777.02 110.27,773.72 112.90,771.10C115.53,768.48 118.28,766.45 120.80,764.60C123.32,762.75 124.65,761.67 128.00,760.00C131.35,758.33 135.35,756.02 140.90,754.60C146.45,753.18 154.50,752.25 161.30,751.50C168.10,750.75 173.87,750.85 181.70,750.10C189.53,749.35 203.87,747.52 208.30,747.00" fill="none" stroke="#414487" stroke-width="1.9" stroke-linecap="round"/>
<path d="M47.90,789.50C49.53,790.70 53.88,794.73 57.70,796.70C61.52,798.67 66.85,800.75 70.80,801.30C74.75,801.85 78.10,801.53 81.40,800.00C84.70,798.47 87.77,795.38 90.60,792.10C93.43,788.82 96.00,784.45 98.40,780.30C100.80,776.15 102.58,771.35 105.00,767.20C107.42,763.05 110.27,758.68 112.90,755.40C115.53,752.12 118.28,749.48 120.80,747.50C123.32,745.52 124.65,744.70 128.00,743.50C131.35,742.30 135.35,741.35 140.90,740.30C146.45,739.25 154.50,737.78 161.30,737.20C168.10,736.62 173.87,737.20 181.70,736.80C189.53,736.40 203.87,735.13 208.30,734.80" fill="none" stroke="#2a788e" stroke-width="1.9" stroke-linecap="round"/>
<path d="M47.90,795.00C49.53,794.63 53.88,794.15 57.70,792.80C61.52,791.45 66.85,789.30 70.80,786.90C74.75,784.50 77.67,782.35 81.40,778.40C85.13,774.45 89.48,767.70 93.20,763.20C96.92,758.70 100.63,754.90 103.70,751.40C106.77,747.90 108.97,744.38 111.60,742.20C114.23,740.02 116.77,739.28 119.50,738.30C122.23,737.32 124.43,736.88 128.00,736.30C131.57,735.72 135.35,735.05 140.90,734.80C146.45,734.55 154.50,734.90 161.30,734.80C168.10,734.70 173.87,735.17 181.70,734.20C189.53,733.23 203.87,729.87 208.30,729.00" fill="none" stroke="#22a884" stroke-width="1.9" stroke-linecap="round"/>
<path d="M47.90,786.90C49.53,787.88 54.53,791.45 57.70,792.80C60.87,794.15 63.62,794.88 66.90,795.00C70.18,795.12 74.12,795.40 77.40,793.50C80.68,791.60 83.53,787.98 86.60,783.60C89.67,779.22 92.95,772.47 95.80,767.20C98.65,761.93 101.07,756.82 103.70,752.00C106.33,747.18 108.97,741.90 111.60,738.30C114.23,734.70 116.77,732.27 119.50,730.40C122.23,728.53 124.43,727.40 128.00,727.10C131.57,726.80 135.35,727.93 140.90,728.60C146.45,729.27 154.50,730.52 161.30,731.10C168.10,731.68 173.87,732.85 181.70,732.10C189.53,731.35 203.87,727.52 208.30,726.60" fill="none" stroke="#7ad151" stroke-width="1.9" stroke-linecap="round"/>
<path d="M47.90,769.80C49.53,771.45 53.77,777.07 57.70,779.70C61.63,782.33 67.78,784.95 71.50,785.60C75.22,786.25 77.27,784.92 80.00,783.60C82.73,782.28 85.27,780.65 87.90,777.70C90.53,774.75 93.17,770.07 95.80,765.90C98.43,761.73 101.07,757.08 103.70,752.70C106.33,748.32 108.97,743.22 111.60,739.60C114.23,735.98 116.77,733.18 119.50,731.00C122.23,728.82 124.43,727.97 128.00,726.50C131.57,725.03 137.05,723.03 140.90,722.20C144.75,721.37 146.68,721.43 151.10,721.50C155.52,721.57 160.58,722.02 167.40,722.60C174.22,723.18 185.18,724.73 192.00,725.00C198.82,725.27 205.58,724.33 208.30,724.20" fill="none" stroke="#fde725" stroke-width="1.9" stroke-linecap="round"/>
<line x1="39.40" y1="716.80" x2="39.40" y2="817.80" stroke="#555" stroke-width="1.1" />
<line x1="38.90" y1="817.30" x2="210.40" y2="817.30" stroke="#555" stroke-width="1.1" />
<line x1="37.40" y1="718.10" x2="39.40" y2="718.10" stroke="#555" stroke-width="0.8" />
<text transform="translate(35.80,718.10) rotate(-90)" font-size="8.8" text-anchor="middle" fill="#333" stroke="#333" stroke-width="0.16">100</text>
<line x1="37.40" y1="743.10" x2="39.40" y2="743.10" stroke="#555" stroke-width="0.8" />
<text transform="translate(35.80,743.10) rotate(-90)" font-size="8.8" text-anchor="middle" fill="#333" stroke="#333" stroke-width="0.16">75</text>
<line x1="37.40" y1="767.20" x2="39.40" y2="767.20" stroke="#555" stroke-width="0.8" />
<text transform="translate(35.80,767.20) rotate(-90)" font-size="8.8" text-anchor="middle" fill="#333" stroke="#333" stroke-width="0.16">50</text>
<line x1="37.40" y1="791.70" x2="39.40" y2="791.70" stroke="#555" stroke-width="0.8" />
<text transform="translate(35.80,791.70) rotate(-90)" font-size="8.8" text-anchor="middle" fill="#333" stroke="#333" stroke-width="0.16">25</text>
<line x1="37.40" y1="815.30" x2="39.40" y2="815.30" stroke="#555" stroke-width="0.8" />
<text transform="translate(35.80,815.30) rotate(-90)" font-size="8.8" text-anchor="middle" fill="#333" stroke="#333" stroke-width="0.16">0</text>
<line x1="49.40" y1="817.30" x2="49.40" y2="819.30" stroke="#555" stroke-width="0.8" />
<line x1="61.00" y1="817.30" x2="61.00" y2="819.30" stroke="#555" stroke-width="0.8" />
<line x1="68.80" y1="817.30" x2="68.80" y2="819.30" stroke="#555" stroke-width="0.8" />
<line x1="74.90" y1="817.30" x2="74.90" y2="819.30" stroke="#555" stroke-width="0.8" />
<line x1="80.10" y1="817.30" x2="80.10" y2="819.30" stroke="#555" stroke-width="0.8" />
<line x1="87.50" y1="817.30" x2="87.50" y2="819.30" stroke="#555" stroke-width="0.8" />
<line x1="98.00" y1="817.30" x2="98.00" y2="819.30" stroke="#555" stroke-width="0.8" />
<line x1="112.70" y1="817.30" x2="112.70" y2="819.30" stroke="#555" stroke-width="0.8" />
<line x1="125.50" y1="817.30" x2="125.50" y2="819.30" stroke="#555" stroke-width="0.8" />
<line x1="152.70" y1="817.30" x2="152.70" y2="819.30" stroke="#555" stroke-width="0.8" />
<line x1="182.40" y1="817.30" x2="182.40" y2="819.30" stroke="#555" stroke-width="0.8" />
<line x1="204.20" y1="817.30" x2="204.20" y2="819.30" stroke="#555" stroke-width="0.8" />
<text x="49.40" y="827.71" font-size="9" text-anchor="middle" fill="#333" stroke="#333" stroke-width="0.16">1</text>
<text x="61.00" y="827.71" font-size="9" text-anchor="middle" fill="#333" stroke="#333" stroke-width="0.16">2</text>
<text x="68.80" y="827.71" font-size="9" text-anchor="middle" fill="#333" stroke="#333" stroke-width="0.16">3</text>
<text x="74.90" y="827.71" font-size="9" text-anchor="middle" fill="#333" stroke="#333" stroke-width="0.16">4</text>
<text x="80.10" y="827.71" font-size="9" text-anchor="middle" fill="#333" stroke="#333" stroke-width="0.16">5</text>
<text x="87.50" y="827.71" font-size="9" text-anchor="middle" fill="#333" stroke="#333" stroke-width="0.16">6</text>
<text x="98.00" y="827.71" font-size="9" text-anchor="middle" fill="#333" stroke="#333" stroke-width="0.16">7</text>
<text x="112.70" y="827.71" font-size="9" text-anchor="middle" fill="#333" stroke="#333" stroke-width="0.16">8</text>
<text x="125.50" y="827.71" font-size="9" text-anchor="middle" fill="#333" stroke="#333" stroke-width="0.16">9</text>
<text x="152.70" y="827.71" font-size="9" text-anchor="middle" fill="#333" stroke="#333" stroke-width="0.16">10</text>
<text x="182.40" y="827.71" font-size="9" text-anchor="middle" fill="#333" stroke="#333" stroke-width="0.16">11</text>
<text x="204.20" y="827.71" font-size="9" text-anchor="middle" fill="#333" stroke="#333" stroke-width="0.16">12</text>
<text x="126.50" y="840.17" font-size="8.9" text-anchor="middle" fill="#1a1a1a" stroke="#1a1a1a" stroke-width="0.16">Developmental periods</text>
<text transform="translate(21.35,766.70) rotate(-90)" font-size="10" text-anchor="middle" fill="#1a1a1a" stroke="#1a1a1a" stroke-width="0.16">Editing level (%)</text>
<text transform="translate(102.91,806.50) rotate(-90)" font-size="9.6" text-anchor="middle" fill="#1a1a1a" stroke="#1a1a1a" stroke-width="0.16" font-style="italic">Birth</text>
<line x1="151.10" y1="779.70" x2="156.30" y2="779.70" stroke="#440154" stroke-width="1.8" />
<text x="157.90" y="781.91" font-size="6.4" text-anchor="start" fill="#333" stroke="#333" stroke-width="0.12"><tspan font-style="italic">GRIA2</tspan> (p.R764G)</text>
<line x1="151.10" y1="785.90" x2="156.30" y2="785.90" stroke="#414487" stroke-width="1.8" />
<text x="157.90" y="788.11" font-size="6.4" text-anchor="start" fill="#333" stroke="#333" stroke-width="0.12"><tspan font-style="italic">CYFIP2</tspan> (p.E294E)</text>
<line x1="151.10" y1="792.10" x2="156.30" y2="792.10" stroke="#2a788e" stroke-width="1.8" />
<text x="157.90" y="794.31" font-size="6.4" text-anchor="start" fill="#333" stroke="#333" stroke-width="0.12"><tspan font-style="italic">GRIK2</tspan> (p.Y571C)</text>
<line x1="151.10" y1="798.30" x2="156.30" y2="798.30" stroke="#22a884" stroke-width="1.8" />
<text x="157.90" y="800.51" font-size="6.4" text-anchor="start" fill="#333" stroke="#333" stroke-width="0.12"><tspan font-style="italic">GRIK2</tspan> (p.Q621R)</text>
<line x1="151.10" y1="804.50" x2="156.30" y2="804.50" stroke="#7ad151" stroke-width="1.8" />
<text x="157.90" y="806.71" font-size="6.4" text-anchor="start" fill="#333" stroke="#333" stroke-width="0.12"><tspan font-style="italic">GRIA3</tspan> (p.R775G)</text>
<line x1="151.10" y1="810.70" x2="156.30" y2="810.70" stroke="#fde725" stroke-width="1.8" />
<text x="157.90" y="812.91" font-size="6.4" text-anchor="start" fill="#333" stroke="#333" stroke-width="0.12"><tspan font-style="italic">GABRA3</tspan> (p.I342M)</text>
<text x="218.30" y="670.60" font-size="22.5" font-weight="bold" fill="#000" stroke="#000" stroke-width="0.35">J</text>
<line x1="254.10" y1="657.50" x2="254.10" y2="668.70" stroke="#8a8a8a" stroke-width="0.8" />
<rect x="248.00" y="660.20" width="12.30" height="5.80" fill="#d3d3d3" stroke="#666" stroke-width="0.5" />
<line x1="248.00" y1="663.10" x2="260.30" y2="663.10" stroke="#666" stroke-width="0.7" />
<text x="263.20" y="660.99" font-size="7.5" text-anchor="start" fill="#1a1a1a" stroke="#1a1a1a" stroke-width="0.12">Typical brain development</text>
<text x="263.20" y="669.79" font-size="7.5" text-anchor="start" fill="#1a1a1a" stroke="#1a1a1a" stroke-width="0.12">[Periods 5 &amp; 6]</text>
<circle cx="369.20" cy="663.10" r="3.50" fill="#6aacde"/>
<text x="374.20" y="665.83" font-size="7.9" text-anchor="start" fill="#1a1a1a" stroke="#1a1a1a" stroke-width="0.16">Control</text>
<circle cx="410.90" cy="663.10" r="3.50" fill="#2c2b6a"/>
<text x="416.50" y="665.83" font-size="7.9" text-anchor="start" fill="#1a1a1a" stroke="#1a1a1a" stroke-width="0.16">T21</text>
<line x1="244.20" y1="687.40" x2="341.10" y2="687.40" stroke="#ebebeb" stroke-width="0.6" />
<line x1="244.20" y1="712.80" x2="341.10" y2="712.80" stroke="#ebebeb" stroke-width="0.6" />
<line x1="244.20" y1="737.60" x2="341.10" y2="737.60" stroke="#ebebeb" stroke-width="0.6" />
<line x1="244.20" y1="761.50" x2="341.10" y2="761.50" stroke="#ebebeb" stroke-width="0.6" />
<line x1="254.60" y1="685.00" x2="254.60" y2="787.80" stroke="#ebebeb" stroke-width="0.6" />
<line x1="269.60" y1="685.00" x2="269.60" y2="787.80" stroke="#ebebeb" stroke-width="0.6" />
<line x1="285.20" y1="685.00" x2="285.20" y2="787.80" stroke="#ebebeb" stroke-width="0.6" />
<line x1="300.50" y1="685.00" x2="300.50" y2="787.80" stroke="#ebebeb" stroke-width="0.6" />
<line x1="316.20" y1="685.00" x2="316.20" y2="787.80" stroke="#ebebeb" stroke-width="0.6" />
<line x1="331.50" y1="685.00" x2="331.50" y2="787.80" stroke="#ebebeb" stroke-width="0.6" />
<line x1="244.20" y1="685.00" x2="244.20" y2="788.30" stroke="#707070" stroke-width="1.2" />
<line x1="243.70" y1="787.80" x2="341.10" y2="787.80" stroke="#909090" stroke-width="1.2" />
<line x1="242.20" y1="687.40" x2="244.20" y2="687.40" stroke="#707070" stroke-width="0.8" />
<line x1="242.20" y1="712.80" x2="244.20" y2="712.80" stroke="#707070" stroke-width="0.8" />
<line x1="242.20" y1="737.60" x2="244.20" y2="737.60" stroke="#707070" stroke-width="0.8" />
<line x1="242.20" y1="761.50" x2="244.20" y2="761.50" stroke="#707070" stroke-width="0.8" />
<line x1="242.20" y1="785.80" x2="244.20" y2="785.80" stroke="#707070" stroke-width="0.8" />
<line x1="254.60" y1="766.00" x2="254.60" y2="770.40" stroke="#444" stroke-width="0.8" />
<line x1="254.60" y1="775.30" x2="254.60" y2="780.00" stroke="#444" stroke-width="0.8" />
<rect x="248.50" y="770.40" width="12.20" height="4.90" fill="#d6d6d6" stroke="#555" stroke-width="0.6" />
<line x1="248.50" y1="772.70" x2="260.70" y2="772.70" stroke="#444" stroke-width="0.9" />
<circle cx="251.71" cy="770.13" r="1.55" fill="#2c2b6a"/>
<circle cx="255.19" cy="770.23" r="1.55" fill="#2c2b6a"/>
<circle cx="256.87" cy="775.20" r="1.55" fill="#2c2b6a"/>
<circle cx="257.25" cy="771.43" r="1.55" fill="#2c2b6a"/>
<circle cx="253.00" cy="770.04" r="1.55" fill="#2c2b6a"/>
<circle cx="252.97" cy="775.98" r="1.55" fill="#6aacde"/>
<circle cx="257.51" cy="772.89" r="1.55" fill="#6aacde"/>
<circle cx="259.77" cy="778.16" r="1.55" fill="#6aacde"/>
<circle cx="251.28" cy="766.28" r="1.55" fill="#2c2b6a"/>
<circle cx="258.00" cy="766.66" r="1.55" fill="#2c2b6a"/>
<circle cx="254.09" cy="768.45" r="1.55" fill="#2c2b6a"/>
<circle cx="251.82" cy="769.65" r="1.55" fill="#6aacde"/>
<circle cx="251.65" cy="778.69" r="1.55" fill="#6aacde"/>
<circle cx="257.80" cy="776.23" r="1.55" fill="#6aacde"/>
<circle cx="251.01" cy="778.96" r="1.55" fill="#6aacde"/>
<circle cx="250.67" cy="769.17" r="1.55" fill="#2c2b6a"/>
<circle cx="254.57" cy="771.39" r="1.55" fill="#6aacde"/>
<circle cx="259.00" cy="772.85" r="1.55" fill="#2c2b6a"/>
<circle cx="253.02" cy="773.46" r="1.55" fill="#2c2b6a"/>
<circle cx="255.12" cy="771.29" r="1.55" fill="#2c2b6a"/>
<circle cx="251.12" cy="777.73" r="1.55" fill="#6aacde"/>
<circle cx="251.34" cy="769.49" r="1.55" fill="#6aacde"/>
<circle cx="249.68" cy="765.17" r="1.55" fill="#2c2b6a"/>
<circle cx="259.30" cy="774.83" r="1.55" fill="#6aacde"/>
<circle cx="257.66" cy="773.22" r="1.55" fill="#6aacde"/>
<circle cx="254.56" cy="769.28" r="1.55" fill="#2c2b6a"/>
<circle cx="254.11" cy="776.58" r="1.55" fill="#6aacde"/>
<circle cx="259.75" cy="768.46" r="1.55" fill="#2c2b6a"/>
<circle cx="256.00" cy="775.93" r="1.55" fill="#6aacde"/>
<circle cx="259.48" cy="779.92" r="1.55" fill="#6aacde"/>
<circle cx="249.43" cy="774.86" r="1.55" fill="#6aacde"/>
<circle cx="255.44" cy="771.12" r="1.55" fill="#2c2b6a"/>
<circle cx="253.66" cy="768.27" r="1.55" fill="#2c2b6a"/>
<circle cx="249.75" cy="774.40" r="1.55" fill="#6aacde"/>
<circle cx="254.65" cy="773.27" r="1.55" fill="#6aacde"/>
<circle cx="258.50" cy="777.12" r="1.55" fill="#6aacde"/>
<circle cx="255.49" cy="770.39" r="1.55" fill="#6aacde"/>
<circle cx="250.70" cy="780.46" r="1.55" fill="#6aacde"/>
<circle cx="258.41" cy="773.25" r="1.55" fill="#6aacde"/>
<line x1="269.60" y1="767.00" x2="269.60" y2="772.40" stroke="#444" stroke-width="0.8" />
<line x1="269.60" y1="779.60" x2="269.60" y2="783.00" stroke="#444" stroke-width="0.8" />
<rect x="263.50" y="772.40" width="12.20" height="7.20" fill="#d6d6d6" stroke="#555" stroke-width="0.6" />
<line x1="263.50" y1="777.00" x2="275.70" y2="777.00" stroke="#444" stroke-width="0.9" />
<circle cx="271.95" cy="777.95" r="1.55" fill="#2c2b6a"/>
<circle cx="264.91" cy="774.52" r="1.55" fill="#6aacde"/>
<circle cx="265.64" cy="769.29" r="1.55" fill="#2c2b6a"/>
<circle cx="271.16" cy="782.36" r="1.55" fill="#6aacde"/>
<circle cx="268.50" cy="781.81" r="1.55" fill="#6aacde"/>
<circle cx="267.79" cy="776.04" r="1.55" fill="#6aacde"/>
<circle cx="266.94" cy="767.69" r="1.55" fill="#2c2b6a"/>
<circle cx="270.68" cy="771.43" r="1.55" fill="#2c2b6a"/>
<circle cx="272.44" cy="778.42" r="1.55" fill="#6aacde"/>
<circle cx="266.00" cy="777.34" r="1.55" fill="#6aacde"/>
<circle cx="273.39" cy="770.49" r="1.55" fill="#2c2b6a"/>
<circle cx="273.75" cy="777.31" r="1.55" fill="#6aacde"/>
<circle cx="270.86" cy="768.06" r="1.55" fill="#2c2b6a"/>
<circle cx="271.50" cy="780.58" r="1.55" fill="#6aacde"/>
<circle cx="267.56" cy="776.42" r="1.55" fill="#2c2b6a"/>
<circle cx="264.76" cy="776.03" r="1.55" fill="#6aacde"/>
<circle cx="274.34" cy="777.85" r="1.55" fill="#6aacde"/>
<circle cx="271.84" cy="776.22" r="1.55" fill="#6aacde"/>
<circle cx="272.15" cy="765.82" r="1.55" fill="#2c2b6a"/>
<circle cx="268.52" cy="775.41" r="1.55" fill="#2c2b6a"/>
<circle cx="272.90" cy="774.24" r="1.55" fill="#2c2b6a"/>
<circle cx="268.38" cy="774.29" r="1.55" fill="#6aacde"/>
<circle cx="272.58" cy="773.24" r="1.55" fill="#6aacde"/>
<circle cx="272.14" cy="773.71" r="1.55" fill="#2c2b6a"/>
<circle cx="274.06" cy="770.39" r="1.55" fill="#2c2b6a"/>
<circle cx="265.84" cy="779.28" r="1.55" fill="#6aacde"/>
<circle cx="269.38" cy="783.07" r="1.55" fill="#6aacde"/>
<circle cx="273.79" cy="778.35" r="1.55" fill="#6aacde"/>
<circle cx="273.32" cy="768.33" r="1.55" fill="#2c2b6a"/>
<circle cx="269.50" cy="771.99" r="1.55" fill="#2c2b6a"/>
<circle cx="271.11" cy="774.62" r="1.55" fill="#6aacde"/>
<circle cx="265.85" cy="780.31" r="1.55" fill="#6aacde"/>
<circle cx="272.85" cy="774.50" r="1.55" fill="#6aacde"/>
<circle cx="265.88" cy="777.62" r="1.55" fill="#6aacde"/>
<circle cx="266.83" cy="776.96" r="1.55" fill="#2c2b6a"/>
<circle cx="266.34" cy="779.69" r="1.55" fill="#6aacde"/>
<circle cx="270.30" cy="774.91" r="1.55" fill="#2c2b6a"/>
<circle cx="265.97" cy="780.38" r="1.55" fill="#6aacde"/>
<circle cx="270.69" cy="773.59" r="1.55" fill="#2c2b6a"/>
<line x1="285.20" y1="752.00" x2="285.20" y2="766.30" stroke="#444" stroke-width="0.8" />
<line x1="285.20" y1="774.30" x2="285.20" y2="782.00" stroke="#444" stroke-width="0.8" />
<rect x="279.10" y="766.30" width="12.20" height="8.00" fill="#d6d6d6" stroke="#555" stroke-width="0.6" />
<line x1="279.10" y1="771.50" x2="291.30" y2="771.50" stroke="#444" stroke-width="0.9" />
<circle cx="284.44" cy="776.88" r="1.55" fill="#6aacde"/>
<circle cx="290.22" cy="781.70" r="1.55" fill="#6aacde"/>
<circle cx="286.30" cy="777.23" r="1.55" fill="#6aacde"/>
<circle cx="290.06" cy="765.90" r="1.55" fill="#2c2b6a"/>
<circle cx="284.18" cy="759.08" r="1.55" fill="#2c2b6a"/>
<circle cx="285.27" cy="755.69" r="1.55" fill="#2c2b6a"/>
<circle cx="284.15" cy="770.61" r="1.55" fill="#6aacde"/>
<circle cx="284.68" cy="774.75" r="1.55" fill="#6aacde"/>
<circle cx="287.06" cy="757.86" r="1.55" fill="#2c2b6a"/>
<circle cx="286.03" cy="758.23" r="1.55" fill="#2c2b6a"/>
<circle cx="286.94" cy="761.10" r="1.55" fill="#2c2b6a"/>
<circle cx="281.68" cy="768.33" r="1.55" fill="#6aacde"/>
<circle cx="287.40" cy="778.90" r="1.55" fill="#6aacde"/>
<circle cx="285.35" cy="767.22" r="1.55" fill="#2c2b6a"/>
<circle cx="281.73" cy="772.21" r="1.55" fill="#6aacde"/>
<circle cx="286.92" cy="761.75" r="1.55" fill="#2c2b6a"/>
<circle cx="286.29" cy="768.62" r="1.55" fill="#6aacde"/>
<circle cx="280.94" cy="767.76" r="1.55" fill="#6aacde"/>
<circle cx="281.03" cy="768.46" r="1.55" fill="#2c2b6a"/>
<circle cx="280.85" cy="750.01" r="1.55" fill="#2c2b6a"/>
<circle cx="286.55" cy="765.24" r="1.55" fill="#2c2b6a"/>
<circle cx="283.82" cy="751.87" r="1.55" fill="#2c2b6a"/>
<circle cx="286.13" cy="771.79" r="1.55" fill="#6aacde"/>
<circle cx="289.11" cy="775.75" r="1.55" fill="#6aacde"/>
<circle cx="283.97" cy="773.43" r="1.55" fill="#6aacde"/>
<circle cx="285.43" cy="774.60" r="1.55" fill="#6aacde"/>
<circle cx="282.37" cy="779.03" r="1.55" fill="#6aacde"/>
<circle cx="286.81" cy="763.59" r="1.55" fill="#6aacde"/>
<circle cx="282.73" cy="772.86" r="1.55" fill="#6aacde"/>
<circle cx="284.59" cy="758.94" r="1.55" fill="#2c2b6a"/>
<circle cx="287.16" cy="762.42" r="1.55" fill="#2c2b6a"/>
<circle cx="286.05" cy="754.73" r="1.55" fill="#2c2b6a"/>
<circle cx="281.63" cy="758.15" r="1.55" fill="#2c2b6a"/>
<circle cx="285.19" cy="770.26" r="1.55" fill="#6aacde"/>
<circle cx="283.90" cy="776.10" r="1.55" fill="#6aacde"/>
<circle cx="281.80" cy="771.33" r="1.55" fill="#6aacde"/>
<circle cx="286.44" cy="775.94" r="1.55" fill="#6aacde"/>
<circle cx="282.24" cy="757.54" r="1.55" fill="#2c2b6a"/>
<circle cx="280.44" cy="769.73" r="1.55" fill="#6aacde"/>
<line x1="300.50" y1="726.00" x2="300.50" y2="742.10" stroke="#444" stroke-width="0.8" />
<line x1="300.50" y1="755.60" x2="300.50" y2="772.70" stroke="#444" stroke-width="0.8" />
<rect x="294.40" y="742.10" width="12.20" height="13.50" fill="#d6d6d6" stroke="#555" stroke-width="0.6" />
<line x1="294.40" y1="747.40" x2="306.60" y2="747.40" stroke="#444" stroke-width="0.9" />
<circle cx="302.37" cy="736.21" r="1.55" fill="#2c2b6a"/>
<circle cx="303.62" cy="753.00" r="1.55" fill="#6aacde"/>
<circle cx="304.98" cy="756.93" r="1.55" fill="#6aacde"/>
<circle cx="302.03" cy="734.11" r="1.55" fill="#2c2b6a"/>
<circle cx="304.48" cy="740.64" r="1.55" fill="#2c2b6a"/>
<circle cx="296.95" cy="746.32" r="1.55" fill="#6aacde"/>
<circle cx="301.61" cy="750.41" r="1.55" fill="#2c2b6a"/>
<circle cx="303.78" cy="758.09" r="1.55" fill="#6aacde"/>
<circle cx="298.40" cy="758.43" r="1.55" fill="#6aacde"/>
<circle cx="302.38" cy="758.85" r="1.55" fill="#6aacde"/>
<circle cx="305.39" cy="741.38" r="1.55" fill="#2c2b6a"/>
<circle cx="296.16" cy="741.78" r="1.55" fill="#2c2b6a"/>
<circle cx="300.85" cy="756.07" r="1.55" fill="#2c2b6a"/>
<circle cx="304.98" cy="744.90" r="1.55" fill="#2c2b6a"/>
<circle cx="298.96" cy="756.83" r="1.55" fill="#6aacde"/>
<circle cx="305.10" cy="757.58" r="1.55" fill="#2c2b6a"/>
<circle cx="303.78" cy="740.64" r="1.55" fill="#2c2b6a"/>
<circle cx="301.83" cy="748.76" r="1.55" fill="#6aacde"/>
<circle cx="305.68" cy="745.31" r="1.55" fill="#2c2b6a"/>
<circle cx="296.11" cy="762.13" r="1.55" fill="#6aacde"/>
<circle cx="302.87" cy="756.69" r="1.55" fill="#6aacde"/>
<circle cx="296.98" cy="762.69" r="1.55" fill="#6aacde"/>
<circle cx="302.68" cy="756.13" r="1.55" fill="#6aacde"/>
<circle cx="304.47" cy="735.84" r="1.55" fill="#2c2b6a"/>
<circle cx="303.69" cy="764.21" r="1.55" fill="#6aacde"/>
<circle cx="302.35" cy="749.24" r="1.55" fill="#6aacde"/>
<circle cx="304.56" cy="744.88" r="1.55" fill="#6aacde"/>
<circle cx="298.11" cy="753.33" r="1.55" fill="#6aacde"/>
<circle cx="295.69" cy="756.15" r="1.55" fill="#6aacde"/>
<circle cx="297.52" cy="743.19" r="1.55" fill="#6aacde"/>
<circle cx="298.96" cy="746.65" r="1.55" fill="#2c2b6a"/>
<circle cx="303.39" cy="755.80" r="1.55" fill="#2c2b6a"/>
<circle cx="303.37" cy="749.95" r="1.55" fill="#2c2b6a"/>
<circle cx="296.00" cy="756.46" r="1.55" fill="#6aacde"/>
<circle cx="299.55" cy="759.47" r="1.55" fill="#6aacde"/>
<circle cx="297.15" cy="744.98" r="1.55" fill="#2c2b6a"/>
<circle cx="303.56" cy="724.46" r="1.55" fill="#2c2b6a"/>
<circle cx="301.75" cy="755.71" r="1.55" fill="#6aacde"/>
<circle cx="298.11" cy="744.25" r="1.55" fill="#6aacde"/>
<line x1="316.20" y1="736.00" x2="316.20" y2="749.00" stroke="#444" stroke-width="0.8" />
<line x1="316.20" y1="758.50" x2="316.20" y2="773.00" stroke="#444" stroke-width="0.8" />
<rect x="310.10" y="749.00" width="12.20" height="9.50" fill="#d6d6d6" stroke="#555" stroke-width="0.6" />
<line x1="310.10" y1="754.00" x2="322.30" y2="754.00" stroke="#444" stroke-width="0.9" />
<circle cx="311.04" cy="763.66" r="1.55" fill="#6aacde"/>
<circle cx="320.26" cy="748.07" r="1.55" fill="#6aacde"/>
<circle cx="318.21" cy="768.18" r="1.55" fill="#6aacde"/>
<circle cx="313.07" cy="767.69" r="1.55" fill="#6aacde"/>
<circle cx="319.25" cy="770.29" r="1.55" fill="#6aacde"/>
<circle cx="314.20" cy="763.10" r="1.55" fill="#6aacde"/>
<circle cx="317.54" cy="762.45" r="1.55" fill="#6aacde"/>
<circle cx="311.22" cy="754.09" r="1.55" fill="#2c2b6a"/>
<circle cx="313.75" cy="764.00" r="1.55" fill="#6aacde"/>
<circle cx="318.81" cy="757.77" r="1.55" fill="#6aacde"/>
<circle cx="313.01" cy="742.63" r="1.55" fill="#2c2b6a"/>
<circle cx="311.60" cy="753.54" r="1.55" fill="#2c2b6a"/>
<circle cx="314.92" cy="758.21" r="1.55" fill="#6aacde"/>
<circle cx="318.42" cy="744.73" r="1.55" fill="#2c2b6a"/>
<circle cx="319.21" cy="737.24" r="1.55" fill="#2c2b6a"/>
<circle cx="319.45" cy="760.17" r="1.55" fill="#6aacde"/>
<circle cx="312.52" cy="767.25" r="1.55" fill="#6aacde"/>
<circle cx="314.08" cy="753.56" r="1.55" fill="#6aacde"/>
<circle cx="317.61" cy="747.90" r="1.55" fill="#2c2b6a"/>
<circle cx="317.05" cy="762.04" r="1.55" fill="#6aacde"/>
<circle cx="318.14" cy="747.31" r="1.55" fill="#2c2b6a"/>
<circle cx="317.61" cy="749.54" r="1.55" fill="#2c2b6a"/>
<circle cx="316.34" cy="744.87" r="1.55" fill="#2c2b6a"/>
<circle cx="318.60" cy="774.28" r="1.55" fill="#6aacde"/>
<circle cx="313.36" cy="765.02" r="1.55" fill="#6aacde"/>
<circle cx="314.89" cy="752.46" r="1.55" fill="#2c2b6a"/>
<circle cx="315.30" cy="742.07" r="1.55" fill="#2c2b6a"/>
<circle cx="314.60" cy="754.71" r="1.55" fill="#2c2b6a"/>
<circle cx="316.21" cy="760.96" r="1.55" fill="#2c2b6a"/>
<circle cx="311.57" cy="757.66" r="1.55" fill="#6aacde"/>
<circle cx="317.75" cy="747.95" r="1.55" fill="#2c2b6a"/>
<circle cx="319.35" cy="765.07" r="1.55" fill="#6aacde"/>
<circle cx="315.80" cy="758.11" r="1.55" fill="#6aacde"/>
<circle cx="319.59" cy="760.52" r="1.55" fill="#6aacde"/>
<circle cx="317.18" cy="749.31" r="1.55" fill="#2c2b6a"/>
<circle cx="313.15" cy="750.22" r="1.55" fill="#2c2b6a"/>
<circle cx="321.38" cy="752.88" r="1.55" fill="#6aacde"/>
<circle cx="313.60" cy="766.05" r="1.55" fill="#6aacde"/>
<circle cx="320.16" cy="752.78" r="1.55" fill="#2c2b6a"/>
<line x1="331.50" y1="737.00" x2="331.50" y2="751.70" stroke="#444" stroke-width="0.8" />
<line x1="331.50" y1="765.40" x2="331.50" y2="782.00" stroke="#444" stroke-width="0.8" />
<rect x="325.40" y="751.70" width="12.20" height="13.70" fill="#d6d6d6" stroke="#555" stroke-width="0.6" />
<line x1="325.40" y1="760.00" x2="337.60" y2="760.00" stroke="#444" stroke-width="0.9" />
<circle cx="333.20" cy="747.69" r="1.55" fill="#6aacde"/>
<circle cx="332.53" cy="753.75" r="1.55" fill="#6aacde"/>
<circle cx="334.63" cy="751.52" r="1.55" fill="#6aacde"/>
<circle cx="327.13" cy="776.11" r="1.55" fill="#6aacde"/>
<circle cx="329.84" cy="768.00" r="1.55" fill="#6aacde"/>
<circle cx="331.29" cy="751.88" r="1.55" fill="#2c2b6a"/>
<circle cx="329.73" cy="748.21" r="1.55" fill="#2c2b6a"/>
<circle cx="328.42" cy="766.43" r="1.55" fill="#6aacde"/>
<circle cx="328.38" cy="741.62" r="1.55" fill="#2c2b6a"/>
<circle cx="333.18" cy="763.77" r="1.55" fill="#6aacde"/>
<circle cx="328.19" cy="774.38" r="1.55" fill="#6aacde"/>
<circle cx="331.44" cy="751.32" r="1.55" fill="#2c2b6a"/>
<circle cx="329.29" cy="753.49" r="1.55" fill="#6aacde"/>
<circle cx="330.98" cy="759.95" r="1.55" fill="#2c2b6a"/>
<circle cx="331.82" cy="756.43" r="1.55" fill="#6aacde"/>
<circle cx="328.53" cy="763.49" r="1.55" fill="#2c2b6a"/>
<circle cx="335.80" cy="753.93" r="1.55" fill="#2c2b6a"/>
<circle cx="331.80" cy="752.90" r="1.55" fill="#2c2b6a"/>
<circle cx="334.46" cy="750.23" r="1.55" fill="#6aacde"/>
<circle cx="328.70" cy="758.12" r="1.55" fill="#2c2b6a"/>
<circle cx="335.80" cy="761.87" r="1.55" fill="#6aacde"/>
<circle cx="328.71" cy="752.88" r="1.55" fill="#2c2b6a"/>
<circle cx="331.48" cy="773.18" r="1.55" fill="#6aacde"/>
<circle cx="334.95" cy="758.96" r="1.55" fill="#2c2b6a"/>
<circle cx="329.80" cy="758.45" r="1.55" fill="#2c2b6a"/>
<circle cx="327.18" cy="758.90" r="1.55" fill="#6aacde"/>
<circle cx="334.37" cy="769.04" r="1.55" fill="#6aacde"/>
<circle cx="335.30" cy="753.92" r="1.55" fill="#2c2b6a"/>
<circle cx="329.21" cy="757.04" r="1.55" fill="#2c2b6a"/>
<circle cx="331.23" cy="756.36" r="1.55" fill="#2c2b6a"/>
<circle cx="330.08" cy="748.56" r="1.55" fill="#2c2b6a"/>
<circle cx="333.48" cy="757.67" r="1.55" fill="#2c2b6a"/>
<circle cx="329.51" cy="754.45" r="1.55" fill="#6aacde"/>
<circle cx="334.14" cy="755.91" r="1.55" fill="#6aacde"/>
<circle cx="333.12" cy="762.61" r="1.55" fill="#6aacde"/>
<circle cx="334.81" cy="765.36" r="1.55" fill="#6aacde"/>
<circle cx="329.45" cy="760.92" r="1.55" fill="#6aacde"/>
<circle cx="329.68" cy="770.58" r="1.55" fill="#6aacde"/>
<circle cx="334.32" cy="766.48" r="1.55" fill="#6aacde"/>
<line x1="244.20" y1="685.00" x2="244.20" y2="788.80" stroke="#707070" stroke-width="1.2" />
<line x1="243.70" y1="788.40" x2="341.10" y2="788.40" stroke="#909090" stroke-width="1.2" />
<line x1="254.60" y1="788.40" x2="254.60" y2="790.40" stroke="#909090" stroke-width="0.8" />
<line x1="269.60" y1="788.40" x2="269.60" y2="790.40" stroke="#909090" stroke-width="0.8" />
<line x1="285.20" y1="788.40" x2="285.20" y2="790.40" stroke="#909090" stroke-width="0.8" />
<line x1="300.50" y1="788.40" x2="300.50" y2="790.40" stroke="#909090" stroke-width="0.8" />
<line x1="316.20" y1="788.40" x2="316.20" y2="790.40" stroke="#909090" stroke-width="0.8" />
<line x1="331.50" y1="788.40" x2="331.50" y2="790.40" stroke="#909090" stroke-width="0.8" />
<text x="246.20" y="693.00" font-size="8.7" text-anchor="start" fill="#1a1a1a" stroke="#1a1a1a" stroke-width="0.16">PFC</text>
<text transform="translate(259.20,794.20) rotate(-45)" font-size="8.0" text-anchor="end" fill="#333" stroke="#333" stroke-width="0.16"><tspan font-style="italic">GRIA2</tspan> (p.R764G)</text>
<text transform="translate(274.20,794.20) rotate(-45)" font-size="8.0" text-anchor="end" fill="#333" stroke="#333" stroke-width="0.16"><tspan font-style="italic">CYFIP2</tspan> (p.K294E)</text>
<text transform="translate(289.80,794.20) rotate(-45)" font-size="8.0" text-anchor="end" fill="#333" stroke="#333" stroke-width="0.16"><tspan font-style="italic">GRIK2</tspan> (p.Y571C)</text>
<text transform="translate(305.10,794.20) rotate(-45)" font-size="8.0" text-anchor="end" fill="#333" stroke="#333" stroke-width="0.16"><tspan font-style="italic">GRIK2</tspan> (p.Q621R)</text>
<text transform="translate(320.80,794.20) rotate(-45)" font-size="8.0" text-anchor="end" fill="#333" stroke="#333" stroke-width="0.16"><tspan font-style="italic">GRIA3</tspan> (p.R775G)</text>
<text transform="translate(336.10,794.20) rotate(-45)" font-size="8.0" text-anchor="end" fill="#333" stroke="#333" stroke-width="0.16"><tspan font-style="italic">GABRA3</tspan> (p.I342M)</text>
<line x1="343.40" y1="687.40" x2="441.60" y2="687.40" stroke="#ebebeb" stroke-width="0.6" />
<line x1="343.40" y1="712.80" x2="441.60" y2="712.80" stroke="#ebebeb" stroke-width="0.6" />
<line x1="343.40" y1="737.60" x2="441.60" y2="737.60" stroke="#ebebeb" stroke-width="0.6" />
<line x1="343.40" y1="761.50" x2="441.60" y2="761.50" stroke="#ebebeb" stroke-width="0.6" />
<line x1="354.60" y1="685.00" x2="354.60" y2="787.80" stroke="#ebebeb" stroke-width="0.6" />
<line x1="370.20" y1="685.00" x2="370.20" y2="787.80" stroke="#ebebeb" stroke-width="0.6" />
<line x1="385.70" y1="685.00" x2="385.70" y2="787.80" stroke="#ebebeb" stroke-width="0.6" />
<line x1="401.30" y1="685.00" x2="401.30" y2="787.80" stroke="#ebebeb" stroke-width="0.6" />
<line x1="416.60" y1="685.00" x2="416.60" y2="787.80" stroke="#ebebeb" stroke-width="0.6" />
<line x1="432.30" y1="685.00" x2="432.30" y2="787.80" stroke="#ebebeb" stroke-width="0.6" />
<line x1="343.40" y1="685.00" x2="343.40" y2="788.30" stroke="#707070" stroke-width="1.2" />
<line x1="342.90" y1="787.80" x2="441.60" y2="787.80" stroke="#909090" stroke-width="1.2" />
<line x1="341.40" y1="687.40" x2="343.40" y2="687.40" stroke="#707070" stroke-width="0.8" />
<line x1="341.40" y1="712.80" x2="343.40" y2="712.80" stroke="#707070" stroke-width="0.8" />
<line x1="341.40" y1="737.60" x2="343.40" y2="737.60" stroke="#707070" stroke-width="0.8" />
<line x1="341.40" y1="761.50" x2="343.40" y2="761.50" stroke="#707070" stroke-width="0.8" />
<line x1="341.40" y1="785.80" x2="343.40" y2="785.80" stroke="#707070" stroke-width="0.8" />
<line x1="354.60" y1="765.00" x2="354.60" y2="771.20" stroke="#444" stroke-width="0.8" />
<line x1="354.60" y1="775.80" x2="354.60" y2="781.00" stroke="#444" stroke-width="0.8" />
<rect x="348.50" y="771.20" width="12.20" height="4.60" fill="#d6d6d6" stroke="#555" stroke-width="0.6" />
<line x1="348.50" y1="773.50" x2="360.70" y2="773.50" stroke="#444" stroke-width="0.9" />
<circle cx="357.41" cy="755.97" r="1.55" fill="#2c2b6a"/>
<circle cx="356.86" cy="764.71" r="1.55" fill="#2c2b6a"/>
<circle cx="356.50" cy="755.92" r="1.55" fill="#6aacde"/>
<circle cx="353.96" cy="750.65" r="1.55" fill="#2c2b6a"/>
<circle cx="350.73" cy="759.32" r="1.55" fill="#2c2b6a"/>
<circle cx="359.47" cy="746.87" r="1.55" fill="#6aacde"/>
<circle cx="357.66" cy="753.29" r="1.55" fill="#6aacde"/>
<circle cx="352.43" cy="769.29" r="1.55" fill="#6aacde"/>
<circle cx="351.47" cy="755.51" r="1.55" fill="#2c2b6a"/>
<circle cx="357.01" cy="761.19" r="1.55" fill="#2c2b6a"/>
<circle cx="356.80" cy="773.12" r="1.55" fill="#2c2b6a"/>
<circle cx="351.24" cy="765.24" r="1.55" fill="#6aacde"/>
<circle cx="350.17" cy="758.92" r="1.55" fill="#6aacde"/>
<circle cx="351.77" cy="769.36" r="1.55" fill="#2c2b6a"/>
<circle cx="358.78" cy="763.79" r="1.55" fill="#2c2b6a"/>
<circle cx="359.34" cy="764.90" r="1.55" fill="#2c2b6a"/>
<circle cx="356.19" cy="772.33" r="1.55" fill="#6aacde"/>
<circle cx="352.30" cy="742.46" r="1.55" fill="#6aacde"/>
<circle cx="351.07" cy="750.01" r="1.55" fill="#6aacde"/>
<circle cx="352.79" cy="767.09" r="1.55" fill="#2c2b6a"/>
<circle cx="352.16" cy="759.53" r="1.55" fill="#6aacde"/>
<circle cx="358.76" cy="762.18" r="1.55" fill="#2c2b6a"/>
<circle cx="358.84" cy="772.65" r="1.55" fill="#6aacde"/>
<circle cx="354.91" cy="766.68" r="1.55" fill="#6aacde"/>
<circle cx="357.61" cy="767.57" r="1.55" fill="#6aacde"/>
<circle cx="349.83" cy="758.79" r="1.55" fill="#2c2b6a"/>
<circle cx="355.95" cy="754.96" r="1.55" fill="#6aacde"/>
<circle cx="353.39" cy="768.67" r="1.55" fill="#2c2b6a"/>
<circle cx="350.55" cy="762.74" r="1.55" fill="#6aacde"/>
<circle cx="352.48" cy="772.87" r="1.55" fill="#2c2b6a"/>
<circle cx="349.70" cy="758.84" r="1.55" fill="#6aacde"/>
<circle cx="353.36" cy="762.60" r="1.55" fill="#2c2b6a"/>
<circle cx="353.66" cy="769.93" r="1.55" fill="#6aacde"/>
<circle cx="354.65" cy="746.79" r="1.55" fill="#6aacde"/>
<circle cx="357.25" cy="753.47" r="1.55" fill="#6aacde"/>
<circle cx="349.90" cy="768.01" r="1.55" fill="#6aacde"/>
<circle cx="359.29" cy="764.61" r="1.55" fill="#6aacde"/>
<circle cx="351.31" cy="766.92" r="1.55" fill="#2c2b6a"/>
<circle cx="358.53" cy="762.50" r="1.55" fill="#6aacde"/>
<line x1="370.20" y1="766.00" x2="370.20" y2="773.00" stroke="#444" stroke-width="0.8" />
<line x1="370.20" y1="780.70" x2="370.20" y2="784.00" stroke="#444" stroke-width="0.8" />
<rect x="364.10" y="773.00" width="12.20" height="7.70" fill="#d6d6d6" stroke="#555" stroke-width="0.6" />
<line x1="364.10" y1="777.30" x2="376.30" y2="777.30" stroke="#444" stroke-width="0.9" />
<circle cx="375.32" cy="774.98" r="1.55" fill="#2c2b6a"/>
<circle cx="368.04" cy="760.21" r="1.55" fill="#2c2b6a"/>
<circle cx="367.58" cy="753.62" r="1.55" fill="#6aacde"/>
<circle cx="370.59" cy="747.18" r="1.55" fill="#6aacde"/>
<circle cx="372.75" cy="762.29" r="1.55" fill="#6aacde"/>
<circle cx="371.55" cy="771.86" r="1.55" fill="#2c2b6a"/>
<circle cx="365.98" cy="767.07" r="1.55" fill="#6aacde"/>
<circle cx="367.05" cy="766.60" r="1.55" fill="#2c2b6a"/>
<circle cx="370.11" cy="764.75" r="1.55" fill="#2c2b6a"/>
<circle cx="368.28" cy="764.37" r="1.55" fill="#6aacde"/>
<circle cx="365.59" cy="766.80" r="1.55" fill="#2c2b6a"/>
<circle cx="374.95" cy="756.36" r="1.55" fill="#2c2b6a"/>
<circle cx="373.02" cy="766.08" r="1.55" fill="#6aacde"/>
<circle cx="368.55" cy="761.40" r="1.55" fill="#2c2b6a"/>
<circle cx="372.11" cy="766.70" r="1.55" fill="#2c2b6a"/>
<circle cx="374.00" cy="765.04" r="1.55" fill="#6aacde"/>
<circle cx="368.03" cy="770.53" r="1.55" fill="#6aacde"/>
<circle cx="373.13" cy="756.44" r="1.55" fill="#2c2b6a"/>
<circle cx="370.55" cy="742.75" r="1.55" fill="#6aacde"/>
<circle cx="366.93" cy="759.16" r="1.55" fill="#2c2b6a"/>
<circle cx="372.83" cy="764.78" r="1.55" fill="#6aacde"/>
<circle cx="370.76" cy="777.37" r="1.55" fill="#2c2b6a"/>
<circle cx="370.49" cy="773.26" r="1.55" fill="#6aacde"/>
<circle cx="369.47" cy="761.22" r="1.55" fill="#2c2b6a"/>
<circle cx="368.77" cy="760.14" r="1.55" fill="#2c2b6a"/>
<circle cx="368.05" cy="776.93" r="1.55" fill="#6aacde"/>
<circle cx="371.54" cy="747.17" r="1.55" fill="#6aacde"/>
<circle cx="367.71" cy="767.12" r="1.55" fill="#2c2b6a"/>
<circle cx="369.40" cy="762.31" r="1.55" fill="#6aacde"/>
<circle cx="372.24" cy="761.65" r="1.55" fill="#6aacde"/>
<circle cx="369.48" cy="745.67" r="1.55" fill="#2c2b6a"/>
<circle cx="367.50" cy="756.62" r="1.55" fill="#6aacde"/>
<circle cx="365.82" cy="751.40" r="1.55" fill="#6aacde"/>
<circle cx="371.84" cy="760.62" r="1.55" fill="#6aacde"/>
<circle cx="374.29" cy="749.25" r="1.55" fill="#2c2b6a"/>
<circle cx="367.11" cy="762.38" r="1.55" fill="#6aacde"/>
<circle cx="371.98" cy="777.68" r="1.55" fill="#6aacde"/>
<circle cx="374.65" cy="753.89" r="1.55" fill="#6aacde"/>
<circle cx="367.76" cy="767.81" r="1.55" fill="#6aacde"/>
<line x1="385.70" y1="750.00" x2="385.70" y2="766.30" stroke="#444" stroke-width="0.8" />
<line x1="385.70" y1="775.00" x2="385.70" y2="784.00" stroke="#444" stroke-width="0.8" />
<rect x="379.60" y="766.30" width="12.20" height="8.70" fill="#d6d6d6" stroke="#555" stroke-width="0.6" />
<line x1="379.60" y1="770.70" x2="391.80" y2="770.70" stroke="#444" stroke-width="0.9" />
<circle cx="384.55" cy="754.43" r="1.55" fill="#2c2b6a"/>
<circle cx="381.61" cy="754.17" r="1.55" fill="#2c2b6a"/>
<circle cx="384.67" cy="772.17" r="1.55" fill="#6aacde"/>
<circle cx="380.77" cy="757.21" r="1.55" fill="#2c2b6a"/>
<circle cx="381.30" cy="750.06" r="1.55" fill="#2c2b6a"/>
<circle cx="382.34" cy="760.89" r="1.55" fill="#2c2b6a"/>
<circle cx="386.47" cy="762.67" r="1.55" fill="#6aacde"/>
<circle cx="388.52" cy="772.36" r="1.55" fill="#6aacde"/>
<circle cx="389.76" cy="775.38" r="1.55" fill="#6aacde"/>
<circle cx="388.47" cy="776.45" r="1.55" fill="#6aacde"/>
<circle cx="388.89" cy="748.16" r="1.55" fill="#2c2b6a"/>
<circle cx="384.78" cy="767.34" r="1.55" fill="#6aacde"/>
<circle cx="387.20" cy="774.17" r="1.55" fill="#6aacde"/>
<circle cx="389.27" cy="751.61" r="1.55" fill="#2c2b6a"/>
<circle cx="384.71" cy="755.02" r="1.55" fill="#2c2b6a"/>
<circle cx="386.49" cy="759.89" r="1.55" fill="#6aacde"/>
<circle cx="380.91" cy="778.52" r="1.55" fill="#6aacde"/>
<circle cx="385.87" cy="757.69" r="1.55" fill="#6aacde"/>
<circle cx="387.30" cy="748.38" r="1.55" fill="#2c2b6a"/>
<circle cx="388.83" cy="764.98" r="1.55" fill="#6aacde"/>
<circle cx="386.32" cy="762.44" r="1.55" fill="#6aacde"/>
<circle cx="381.72" cy="753.69" r="1.55" fill="#2c2b6a"/>
<circle cx="389.07" cy="758.78" r="1.55" fill="#2c2b6a"/>
<circle cx="389.86" cy="738.15" r="1.55" fill="#2c2b6a"/>
<circle cx="390.27" cy="772.29" r="1.55" fill="#6aacde"/>
<circle cx="389.27" cy="767.43" r="1.55" fill="#6aacde"/>
<circle cx="386.93" cy="770.12" r="1.55" fill="#2c2b6a"/>
<circle cx="390.02" cy="755.99" r="1.55" fill="#6aacde"/>
<circle cx="389.25" cy="747.16" r="1.55" fill="#2c2b6a"/>
<circle cx="385.02" cy="775.81" r="1.55" fill="#6aacde"/>
<circle cx="383.34" cy="773.79" r="1.55" fill="#6aacde"/>
<circle cx="381.53" cy="779.35" r="1.55" fill="#6aacde"/>
<circle cx="386.93" cy="756.16" r="1.55" fill="#6aacde"/>
<circle cx="383.24" cy="769.55" r="1.55" fill="#6aacde"/>
<circle cx="390.34" cy="750.92" r="1.55" fill="#2c2b6a"/>
<circle cx="383.03" cy="776.29" r="1.55" fill="#6aacde"/>
<circle cx="390.71" cy="736.99" r="1.55" fill="#2c2b6a"/>
<circle cx="385.48" cy="763.72" r="1.55" fill="#6aacde"/>
<circle cx="381.29" cy="764.72" r="1.55" fill="#2c2b6a"/>
<line x1="401.30" y1="727.50" x2="401.30" y2="742.10" stroke="#444" stroke-width="0.8" />
<line x1="401.30" y1="756.60" x2="401.30" y2="772.70" stroke="#444" stroke-width="0.8" />
<rect x="395.20" y="742.10" width="12.20" height="14.50" fill="#d6d6d6" stroke="#555" stroke-width="0.6" />
<line x1="395.20" y1="747.40" x2="407.40" y2="747.40" stroke="#444" stroke-width="0.9" />
<circle cx="405.89" cy="744.67" r="1.55" fill="#2c2b6a"/>
<circle cx="402.79" cy="738.16" r="1.55" fill="#2c2b6a"/>
<circle cx="401.09" cy="727.11" r="1.55" fill="#2c2b6a"/>
<circle cx="402.76" cy="749.66" r="1.55" fill="#2c2b6a"/>
<circle cx="403.84" cy="745.30" r="1.55" fill="#6aacde"/>
<circle cx="404.92" cy="747.61" r="1.55" fill="#6aacde"/>
<circle cx="401.54" cy="756.89" r="1.55" fill="#6aacde"/>
<circle cx="402.70" cy="724.98" r="1.55" fill="#2c2b6a"/>
<circle cx="399.36" cy="745.17" r="1.55" fill="#2c2b6a"/>
<circle cx="403.58" cy="739.01" r="1.55" fill="#6aacde"/>
<circle cx="401.84" cy="752.37" r="1.55" fill="#6aacde"/>
<circle cx="399.38" cy="754.84" r="1.55" fill="#6aacde"/>
<circle cx="397.45" cy="730.00" r="1.55" fill="#2c2b6a"/>
<circle cx="396.48" cy="743.98" r="1.55" fill="#6aacde"/>
<circle cx="402.64" cy="734.42" r="1.55" fill="#6aacde"/>
<circle cx="405.22" cy="727.38" r="1.55" fill="#2c2b6a"/>
<circle cx="405.64" cy="722.50" r="1.55" fill="#2c2b6a"/>
<circle cx="403.48" cy="760.73" r="1.55" fill="#6aacde"/>
<circle cx="399.65" cy="735.40" r="1.55" fill="#2c2b6a"/>
<circle cx="398.43" cy="748.00" r="1.55" fill="#2c2b6a"/>
<circle cx="406.28" cy="743.83" r="1.55" fill="#6aacde"/>
<circle cx="404.36" cy="746.47" r="1.55" fill="#6aacde"/>
<circle cx="402.14" cy="744.17" r="1.55" fill="#6aacde"/>
<circle cx="398.01" cy="744.43" r="1.55" fill="#2c2b6a"/>
<circle cx="398.26" cy="743.32" r="1.55" fill="#2c2b6a"/>
<circle cx="402.69" cy="758.64" r="1.55" fill="#6aacde"/>
<circle cx="397.43" cy="763.71" r="1.55" fill="#6aacde"/>
<circle cx="398.64" cy="753.97" r="1.55" fill="#6aacde"/>
<circle cx="397.81" cy="734.92" r="1.55" fill="#2c2b6a"/>
<circle cx="396.36" cy="751.28" r="1.55" fill="#6aacde"/>
<circle cx="398.71" cy="750.04" r="1.55" fill="#6aacde"/>
<circle cx="402.31" cy="740.59" r="1.55" fill="#6aacde"/>
<circle cx="401.06" cy="753.60" r="1.55" fill="#6aacde"/>
<circle cx="398.36" cy="740.09" r="1.55" fill="#6aacde"/>
<circle cx="403.32" cy="756.67" r="1.55" fill="#6aacde"/>
<circle cx="398.81" cy="716.15" r="1.55" fill="#2c2b6a"/>
<circle cx="399.21" cy="731.11" r="1.55" fill="#2c2b6a"/>
<circle cx="401.03" cy="756.73" r="1.55" fill="#6aacde"/>
<circle cx="400.46" cy="750.17" r="1.55" fill="#2c2b6a"/>
<line x1="416.60" y1="735.00" x2="416.60" y2="749.00" stroke="#444" stroke-width="0.8" />
<line x1="416.60" y1="758.60" x2="416.60" y2="775.00" stroke="#444" stroke-width="0.8" />
<rect x="410.50" y="749.00" width="12.20" height="9.60" fill="#d6d6d6" stroke="#555" stroke-width="0.6" />
<line x1="410.50" y1="754.30" x2="422.70" y2="754.30" stroke="#444" stroke-width="0.9" />
<circle cx="420.43" cy="745.50" r="1.55" fill="#6aacde"/>
<circle cx="412.74" cy="729.80" r="1.55" fill="#2c2b6a"/>
<circle cx="414.57" cy="758.30" r="1.55" fill="#6aacde"/>
<circle cx="415.84" cy="734.51" r="1.55" fill="#6aacde"/>
<circle cx="418.48" cy="728.18" r="1.55" fill="#2c2b6a"/>
<circle cx="415.08" cy="735.94" r="1.55" fill="#6aacde"/>
<circle cx="413.34" cy="743.57" r="1.55" fill="#6aacde"/>
<circle cx="416.01" cy="767.07" r="1.55" fill="#6aacde"/>
<circle cx="414.68" cy="738.30" r="1.55" fill="#6aacde"/>
<circle cx="419.48" cy="752.73" r="1.55" fill="#2c2b6a"/>
<circle cx="419.03" cy="745.37" r="1.55" fill="#2c2b6a"/>
<circle cx="411.42" cy="722.60" r="1.55" fill="#2c2b6a"/>
<circle cx="417.78" cy="759.71" r="1.55" fill="#6aacde"/>
<circle cx="413.52" cy="737.70" r="1.55" fill="#2c2b6a"/>
<circle cx="415.88" cy="756.78" r="1.55" fill="#2c2b6a"/>
<circle cx="417.31" cy="747.00" r="1.55" fill="#2c2b6a"/>
<circle cx="418.46" cy="736.70" r="1.55" fill="#2c2b6a"/>
<circle cx="418.02" cy="737.13" r="1.55" fill="#6aacde"/>
<circle cx="419.93" cy="739.39" r="1.55" fill="#6aacde"/>
<circle cx="416.05" cy="747.39" r="1.55" fill="#2c2b6a"/>
<circle cx="420.74" cy="741.04" r="1.55" fill="#6aacde"/>
<circle cx="416.98" cy="743.37" r="1.55" fill="#6aacde"/>
<circle cx="417.67" cy="740.31" r="1.55" fill="#6aacde"/>
<circle cx="416.03" cy="750.94" r="1.55" fill="#6aacde"/>
<circle cx="414.44" cy="761.74" r="1.55" fill="#6aacde"/>
<circle cx="412.83" cy="742.96" r="1.55" fill="#2c2b6a"/>
<circle cx="414.63" cy="752.20" r="1.55" fill="#6aacde"/>
<circle cx="420.07" cy="743.94" r="1.55" fill="#2c2b6a"/>
<circle cx="418.18" cy="737.80" r="1.55" fill="#6aacde"/>
<circle cx="413.73" cy="729.82" r="1.55" fill="#6aacde"/>
<circle cx="415.88" cy="741.39" r="1.55" fill="#2c2b6a"/>
<circle cx="416.20" cy="752.72" r="1.55" fill="#6aacde"/>
<circle cx="418.93" cy="720.28" r="1.55" fill="#2c2b6a"/>
<circle cx="419.28" cy="736.18" r="1.55" fill="#2c2b6a"/>
<circle cx="413.87" cy="743.63" r="1.55" fill="#2c2b6a"/>
<circle cx="412.23" cy="737.03" r="1.55" fill="#6aacde"/>
<circle cx="414.77" cy="742.49" r="1.55" fill="#6aacde"/>
<circle cx="420.35" cy="744.59" r="1.55" fill="#6aacde"/>
<circle cx="411.76" cy="738.73" r="1.55" fill="#2c2b6a"/>
<line x1="432.30" y1="733.00" x2="432.30" y2="752.00" stroke="#444" stroke-width="0.8" />
<line x1="432.30" y1="765.40" x2="432.30" y2="784.00" stroke="#444" stroke-width="0.8" />
<rect x="426.20" y="752.00" width="12.20" height="13.40" fill="#d6d6d6" stroke="#555" stroke-width="0.6" />
<line x1="426.20" y1="760.50" x2="438.40" y2="760.50" stroke="#444" stroke-width="0.9" />
<circle cx="435.02" cy="760.79" r="1.55" fill="#6aacde"/>
<circle cx="435.07" cy="732.13" r="1.55" fill="#2c2b6a"/>
<circle cx="437.02" cy="732.66" r="1.55" fill="#2c2b6a"/>
<circle cx="431.62" cy="734.43" r="1.55" fill="#6aacde"/>
<circle cx="430.89" cy="748.50" r="1.55" fill="#6aacde"/>
<circle cx="428.34" cy="742.33" r="1.55" fill="#6aacde"/>
<circle cx="429.17" cy="753.62" r="1.55" fill="#6aacde"/>
<circle cx="428.45" cy="763.41" r="1.55" fill="#6aacde"/>
<circle cx="436.11" cy="753.24" r="1.55" fill="#6aacde"/>
<circle cx="436.20" cy="745.57" r="1.55" fill="#2c2b6a"/>
<circle cx="430.91" cy="733.02" r="1.55" fill="#2c2b6a"/>
<circle cx="429.98" cy="736.21" r="1.55" fill="#2c2b6a"/>
<circle cx="435.98" cy="718.75" r="1.55" fill="#6aacde"/>
<circle cx="435.98" cy="738.68" r="1.55" fill="#6aacde"/>
<circle cx="435.91" cy="726.01" r="1.55" fill="#6aacde"/>
<circle cx="428.17" cy="737.85" r="1.55" fill="#6aacde"/>
<circle cx="429.13" cy="738.44" r="1.55" fill="#2c2b6a"/>
<circle cx="437.45" cy="728.59" r="1.55" fill="#2c2b6a"/>
<circle cx="433.95" cy="757.22" r="1.55" fill="#6aacde"/>
<circle cx="432.71" cy="739.75" r="1.55" fill="#2c2b6a"/>
<circle cx="430.30" cy="741.82" r="1.55" fill="#6aacde"/>
<circle cx="430.98" cy="733.95" r="1.55" fill="#6aacde"/>
<circle cx="427.78" cy="703.86" r="1.55" fill="#2c2b6a"/>
<circle cx="436.68" cy="755.83" r="1.55" fill="#2c2b6a"/>
<circle cx="434.09" cy="741.57" r="1.55" fill="#2c2b6a"/>
<circle cx="432.84" cy="741.70" r="1.55" fill="#6aacde"/>
<circle cx="437.26" cy="738.36" r="1.55" fill="#6aacde"/>
<circle cx="432.13" cy="717.72" r="1.55" fill="#6aacde"/>
<circle cx="428.12" cy="746.53" r="1.55" fill="#2c2b6a"/>
<circle cx="431.42" cy="739.75" r="1.55" fill="#2c2b6a"/>
<circle cx="433.34" cy="742.31" r="1.55" fill="#6aacde"/>
<circle cx="430.34" cy="743.79" r="1.55" fill="#6aacde"/>
<circle cx="437.38" cy="723.92" r="1.55" fill="#2c2b6a"/>
<circle cx="432.09" cy="736.52" r="1.55" fill="#6aacde"/>
<circle cx="432.96" cy="725.34" r="1.55" fill="#6aacde"/>
<circle cx="430.72" cy="742.22" r="1.55" fill="#6aacde"/>
<circle cx="427.53" cy="733.38" r="1.55" fill="#2c2b6a"/>
<circle cx="435.47" cy="727.05" r="1.55" fill="#2c2b6a"/>
<circle cx="428.34" cy="722.42" r="1.55" fill="#2c2b6a"/>
<line x1="343.40" y1="685.00" x2="343.40" y2="788.80" stroke="#707070" stroke-width="1.2" />
<line x1="342.90" y1="788.40" x2="441.60" y2="788.40" stroke="#909090" stroke-width="1.2" />
<line x1="354.60" y1="788.40" x2="354.60" y2="790.40" stroke="#909090" stroke-width="0.8" />
<line x1="370.20" y1="788.40" x2="370.20" y2="790.40" stroke="#909090" stroke-width="0.8" />
<line x1="385.70" y1="788.40" x2="385.70" y2="790.40" stroke="#909090" stroke-width="0.8" />
<line x1="401.30" y1="788.40" x2="401.30" y2="790.40" stroke="#909090" stroke-width="0.8" />
<line x1="416.60" y1="788.40" x2="416.60" y2="790.40" stroke="#909090" stroke-width="0.8" />
<line x1="432.30" y1="788.40" x2="432.30" y2="790.40" stroke="#909090" stroke-width="0.8" />
<text x="345.40" y="693.00" font-size="8.7" text-anchor="start" fill="#1a1a1a" stroke="#1a1a1a" stroke-width="0.16">Hippocampus</text>
<text transform="translate(359.20,794.20) rotate(-45)" font-size="8.0" text-anchor="end" fill="#333" stroke="#333" stroke-width="0.16"><tspan font-style="italic">GRIA2</tspan> (p.R764G)</text>
<text transform="translate(374.80,794.20) rotate(-45)" font-size="8.0" text-anchor="end" fill="#333" stroke="#333" stroke-width="0.16"><tspan font-style="italic">CYFIP2</tspan> (p.K294E)</text>
<text transform="translate(390.30,794.20) rotate(-45)" font-size="8.0" text-anchor="end" fill="#333" stroke="#333" stroke-width="0.16"><tspan font-style="italic">GRIK2</tspan> (p.Y571C)</text>
<text transform="translate(405.90,794.20) rotate(-45)" font-size="8.0" text-anchor="end" fill="#333" stroke="#333" stroke-width="0.16"><tspan font-style="italic">GRIK2</tspan> (p.Q621R)</text>
<text transform="translate(421.20,794.20) rotate(-45)" font-size="8.0" text-anchor="end" fill="#333" stroke="#333" stroke-width="0.16"><tspan font-style="italic">GRIA3</tspan> (p.R775G)</text>
<text transform="translate(436.90,794.20) rotate(-45)" font-size="8.0" text-anchor="end" fill="#333" stroke="#333" stroke-width="0.16"><tspan font-style="italic">GABRA3</tspan> (p.I342M)</text>
<circle cx="357.00" cy="719.30" r="1.55" fill="#2c2b6a"/>
<circle cx="370.50" cy="714.50" r="1.55" fill="#2c2b6a"/>
<line x1="242.20" y1="687.40" x2="244.20" y2="687.40" stroke="#707070" stroke-width="0.8" />
<text transform="translate(240.60,687.40) rotate(-90)" font-size="8.8" text-anchor="middle" fill="#333" stroke="#333" stroke-width="0.16">100</text>
<line x1="242.20" y1="712.80" x2="244.20" y2="712.80" stroke="#707070" stroke-width="0.8" />
<text transform="translate(240.60,712.80) rotate(-90)" font-size="8.8" text-anchor="middle" fill="#333" stroke="#333" stroke-width="0.16">75</text>
<line x1="242.20" y1="737.60" x2="244.20" y2="737.60" stroke="#707070" stroke-width="0.8" />
<text transform="translate(240.60,737.60) rotate(-90)" font-size="8.8" text-anchor="middle" fill="#333" stroke="#333" stroke-width="0.16">50</text>
<line x1="242.20" y1="761.50" x2="244.20" y2="761.50" stroke="#707070" stroke-width="0.8" />
<text transform="translate(240.60,761.50) rotate(-90)" font-size="8.8" text-anchor="middle" fill="#333" stroke="#333" stroke-width="0.16">25</text>
<line x1="242.20" y1="785.80" x2="244.20" y2="785.80" stroke="#707070" stroke-width="0.8" />
<text transform="translate(240.60,785.80) rotate(-90)" font-size="8.8" text-anchor="middle" fill="#333" stroke="#333" stroke-width="0.16">0</text>
<text transform="translate(228.58,737.60) rotate(-90)" font-size="9.8" text-anchor="middle" fill="#1a1a1a" stroke="#1a1a1a" stroke-width="0.16">Editing level (%)</text>
<text x="450.70" y="669.80" font-size="22.5" font-weight="bold" fill="#000" stroke="#000" stroke-width="0.35">K</text>
<line x1="489.35" y1="657.10" x2="489.35" y2="669.10" stroke="#8a8a8a" stroke-width="0.8" />
<rect x="484.50" y="659.60" width="9.70" height="7.00" fill="#6aacde" stroke="#555" stroke-width="0.4" />
<line x1="484.50" y1="663.10" x2="494.20" y2="663.10" stroke="#4b81ad" stroke-width="1" />
<text x="496.70" y="665.83" font-size="7.9" text-anchor="start" fill="#1a1a1a" stroke="#1a1a1a" stroke-width="0.16">Control</text>
<line x1="543.80" y1="657.10" x2="543.80" y2="669.10" stroke="#8a8a8a" stroke-width="0.8" />
<rect x="538.40" y="659.60" width="10.80" height="7.00" fill="#2c2b6a" stroke="#555" stroke-width="0.4" />
<line x1="538.40" y1="663.10" x2="549.20" y2="663.10" stroke="#b4b4d4" stroke-width="1" />
<text x="551.70" y="665.83" font-size="7.9" text-anchor="start" fill="#1a1a1a" stroke="#1a1a1a" stroke-width="0.16">T21</text>
<line x1="480.10" y1="704.00" x2="579.00" y2="704.00" stroke="#ebebeb" stroke-width="0.6" />
<line x1="480.10" y1="730.90" x2="579.00" y2="730.90" stroke="#ebebeb" stroke-width="0.6" />
<line x1="480.10" y1="757.40" x2="579.00" y2="757.40" stroke="#ebebeb" stroke-width="0.6" />
<line x1="480.10" y1="783.70" x2="579.00" y2="783.70" stroke="#ebebeb" stroke-width="0.6" />
<line x1="489.90" y1="686.50" x2="489.90" y2="787.80" stroke="#ebebeb" stroke-width="0.6" />
<line x1="505.60" y1="686.50" x2="505.60" y2="787.80" stroke="#ebebeb" stroke-width="0.6" />
<line x1="521.30" y1="686.50" x2="521.30" y2="787.80" stroke="#ebebeb" stroke-width="0.6" />
<line x1="537.60" y1="686.50" x2="537.60" y2="787.80" stroke="#ebebeb" stroke-width="0.6" />
<line x1="553.60" y1="686.50" x2="553.60" y2="787.80" stroke="#ebebeb" stroke-width="0.6" />
<line x1="569.70" y1="686.50" x2="569.70" y2="787.80" stroke="#ebebeb" stroke-width="0.6" />
<line x1="480.10" y1="686.50" x2="480.10" y2="788.30" stroke="#444" stroke-width="1.2" />
<line x1="479.60" y1="787.80" x2="579.00" y2="787.80" stroke="#8a8a8a" stroke-width="1.2" />
<line x1="480.10" y1="757.40" x2="579.00" y2="757.40" stroke="#333" stroke-width="0.9" stroke-dasharray="1.5,1.3"/>
<line x1="486.90" y1="748.00" x2="486.90" y2="756.60" stroke="#555" stroke-width="0.7" />
<line x1="486.90" y1="771.20" x2="486.90" y2="780.00" stroke="#555" stroke-width="0.7" />
<rect x="484.00" y="756.60" width="5.80" height="14.60" fill="#6aacde" stroke="#333" stroke-width="0.5" />
<line x1="484.00" y1="764.70" x2="489.80" y2="764.70" stroke="#4b81ad" stroke-width="0.9" />
<line x1="493.30" y1="740.00" x2="493.30" y2="747.20" stroke="#555" stroke-width="0.7" />
<line x1="493.30" y1="760.40" x2="493.30" y2="765.00" stroke="#555" stroke-width="0.7" />
<rect x="490.40" y="747.20" width="5.80" height="13.20" fill="#2c2b6a" stroke="#333" stroke-width="0.5" />
<line x1="490.40" y1="750.10" x2="496.20" y2="750.10" stroke="#b4b4d4" stroke-width="0.9" />
<line x1="502.30" y1="755.00" x2="502.30" y2="760.40" stroke="#555" stroke-width="0.7" />
<line x1="502.30" y1="766.80" x2="502.30" y2="770.00" stroke="#555" stroke-width="0.7" />
<rect x="499.40" y="760.40" width="5.80" height="6.40" fill="#6aacde" stroke="#333" stroke-width="0.5" />
<line x1="499.40" y1="763.30" x2="505.20" y2="763.30" stroke="#4b81ad" stroke-width="0.9" />
<line x1="508.70" y1="742.00" x2="508.70" y2="750.70" stroke="#555" stroke-width="0.7" />
<line x1="508.70" y1="759.50" x2="508.70" y2="768.00" stroke="#555" stroke-width="0.7" />
<rect x="505.80" y="750.70" width="5.80" height="8.80" fill="#2c2b6a" stroke="#333" stroke-width="0.5" />
<line x1="505.80" y1="753.60" x2="511.60" y2="753.60" stroke="#b4b4d4" stroke-width="0.9" />
<line x1="518.10" y1="726.00" x2="518.10" y2="752.20" stroke="#555" stroke-width="0.7" />
<line x1="518.10" y1="769.70" x2="518.10" y2="775.00" stroke="#555" stroke-width="0.7" />
<rect x="515.20" y="752.20" width="5.80" height="17.50" fill="#6aacde" stroke="#333" stroke-width="0.5" />
<line x1="515.20" y1="760.40" x2="521.00" y2="760.40" stroke="#4b81ad" stroke-width="0.9" />
<line x1="524.50" y1="727.00" x2="524.50" y2="734.70" stroke="#555" stroke-width="0.7" />
<line x1="524.50" y1="749.30" x2="524.50" y2="755.00" stroke="#555" stroke-width="0.7" />
<rect x="521.60" y="734.70" width="5.80" height="14.60" fill="#2c2b6a" stroke="#333" stroke-width="0.5" />
<line x1="521.60" y1="741.40" x2="527.40" y2="741.40" stroke="#b4b4d4" stroke-width="0.9" />
<line x1="534.60" y1="739.00" x2="534.60" y2="754.20" stroke="#555" stroke-width="0.7" />
<line x1="534.60" y1="766.20" x2="534.60" y2="776.00" stroke="#555" stroke-width="0.7" />
<rect x="531.70" y="754.20" width="5.80" height="12.00" fill="#6aacde" stroke="#333" stroke-width="0.5" />
<line x1="531.70" y1="759.50" x2="537.50" y2="759.50" stroke="#4b81ad" stroke-width="0.9" />
<line x1="540.50" y1="730.00" x2="540.50" y2="739.00" stroke="#555" stroke-width="0.7" />
<line x1="540.50" y1="748.70" x2="540.50" y2="755.00" stroke="#555" stroke-width="0.7" />
<rect x="537.60" y="739.00" width="5.80" height="9.70" fill="#2c2b6a" stroke="#333" stroke-width="0.5" />
<line x1="537.60" y1="743.40" x2="543.40" y2="743.40" stroke="#b4b4d4" stroke-width="0.9" />
<line x1="550.70" y1="740.00" x2="550.70" y2="755.70" stroke="#555" stroke-width="0.7" />
<line x1="550.70" y1="770.30" x2="550.70" y2="775.00" stroke="#555" stroke-width="0.7" />
<rect x="547.80" y="755.70" width="5.80" height="14.60" fill="#6aacde" stroke="#333" stroke-width="0.5" />
<line x1="547.80" y1="761.00" x2="553.60" y2="761.00" stroke="#4b81ad" stroke-width="0.9" />
<line x1="556.50" y1="738.00" x2="556.50" y2="745.80" stroke="#555" stroke-width="0.7" />
<line x1="556.50" y1="761.50" x2="556.50" y2="771.00" stroke="#555" stroke-width="0.7" />
<rect x="553.60" y="745.80" width="5.80" height="15.70" fill="#2c2b6a" stroke="#333" stroke-width="0.5" />
<line x1="553.60" y1="755.70" x2="559.40" y2="755.70" stroke="#b4b4d4" stroke-width="0.9" />
<line x1="566.70" y1="744.00" x2="566.70" y2="755.10" stroke="#555" stroke-width="0.7" />
<line x1="566.70" y1="765.30" x2="566.70" y2="773.00" stroke="#555" stroke-width="0.7" />
<rect x="563.80" y="755.10" width="5.80" height="10.20" fill="#6aacde" stroke="#333" stroke-width="0.5" />
<line x1="563.80" y1="760.00" x2="569.60" y2="760.00" stroke="#4b81ad" stroke-width="0.9" />
<line x1="572.60" y1="737.00" x2="572.60" y2="744.90" stroke="#555" stroke-width="0.7" />
<line x1="572.60" y1="753.60" x2="572.60" y2="760.00" stroke="#555" stroke-width="0.7" />
<rect x="569.70" y="744.90" width="5.80" height="8.70" fill="#2c2b6a" stroke="#333" stroke-width="0.5" />
<line x1="569.70" y1="749.30" x2="575.50" y2="749.30" stroke="#b4b4d4" stroke-width="0.9" />
<line x1="480.10" y1="686.50" x2="480.10" y2="788.80" stroke="#444" stroke-width="1.2" />
<line x1="479.60" y1="788.40" x2="579.00" y2="788.40" stroke="#8a8a8a" stroke-width="1.2" />
<line x1="489.90" y1="788.40" x2="489.90" y2="790.40" stroke="#8a8a8a" stroke-width="0.8" />
<line x1="505.60" y1="788.40" x2="505.60" y2="790.40" stroke="#8a8a8a" stroke-width="0.8" />
<line x1="521.30" y1="788.40" x2="521.30" y2="790.40" stroke="#8a8a8a" stroke-width="0.8" />
<line x1="537.60" y1="788.40" x2="537.60" y2="790.40" stroke="#8a8a8a" stroke-width="0.8" />
<line x1="553.60" y1="788.40" x2="553.60" y2="790.40" stroke="#8a8a8a" stroke-width="0.8" />
<line x1="569.70" y1="788.40" x2="569.70" y2="790.40" stroke="#8a8a8a" stroke-width="0.8" />
<text x="481.90" y="693.00" font-size="8.7" text-anchor="start" fill="#1a1a1a" stroke="#1a1a1a" stroke-width="0.16">PFC</text>
<text transform="translate(493.80,796.30) rotate(-45)" font-size="7.9" text-anchor="end" fill="#333" stroke="#333" stroke-width="0.16"><tspan font-style="italic">GRIA2</tspan> (p.R764G)</text>
<text transform="translate(509.50,796.30) rotate(-45)" font-size="7.9" text-anchor="end" fill="#333" stroke="#333" stroke-width="0.16"><tspan font-style="italic">CYFIP2</tspan> (p.K294E)</text>
<text transform="translate(525.20,796.30) rotate(-45)" font-size="7.9" text-anchor="end" fill="#333" stroke="#333" stroke-width="0.16"><tspan font-style="italic">GRIK2</tspan> (p.Y571C)</text>
<text transform="translate(541.50,796.30) rotate(-45)" font-size="7.9" text-anchor="end" fill="#333" stroke="#333" stroke-width="0.16"><tspan font-style="italic">GRIK2</tspan> (p.Q621R)</text>
<text transform="translate(557.50,796.30) rotate(-45)" font-size="7.9" text-anchor="end" fill="#333" stroke="#333" stroke-width="0.16"><tspan font-style="italic">GRIA3</tspan> (p.R775G)</text>
<text transform="translate(573.60,796.30) rotate(-45)" font-size="7.9" text-anchor="end" fill="#333" stroke="#333" stroke-width="0.16"><tspan font-style="italic">GABRA3</tspan> (p.I342M)</text>
<line x1="582.20" y1="704.00" x2="680.00" y2="704.00" stroke="#ebebeb" stroke-width="0.6" />
<line x1="582.20" y1="730.90" x2="680.00" y2="730.90" stroke="#ebebeb" stroke-width="0.6" />
<line x1="582.20" y1="757.40" x2="680.00" y2="757.40" stroke="#ebebeb" stroke-width="0.6" />
<line x1="582.20" y1="783.70" x2="680.00" y2="783.70" stroke="#ebebeb" stroke-width="0.6" />
<line x1="593.60" y1="686.50" x2="593.60" y2="787.80" stroke="#ebebeb" stroke-width="0.6" />
<line x1="610.00" y1="686.50" x2="610.00" y2="787.80" stroke="#ebebeb" stroke-width="0.6" />
<line x1="626.00" y1="686.50" x2="626.00" y2="787.80" stroke="#ebebeb" stroke-width="0.6" />
<line x1="642.00" y1="686.50" x2="642.00" y2="787.80" stroke="#ebebeb" stroke-width="0.6" />
<line x1="658.10" y1="686.50" x2="658.10" y2="787.80" stroke="#ebebeb" stroke-width="0.6" />
<line x1="674.20" y1="686.50" x2="674.20" y2="787.80" stroke="#ebebeb" stroke-width="0.6" />
<line x1="582.20" y1="686.50" x2="582.20" y2="788.30" stroke="#444" stroke-width="1.2" />
<line x1="581.70" y1="787.80" x2="680.00" y2="787.80" stroke="#8a8a8a" stroke-width="1.2" />
<line x1="582.20" y1="757.40" x2="680.00" y2="757.40" stroke="#333" stroke-width="0.9" stroke-dasharray="1.5,1.3"/>
<line x1="590.70" y1="740.50" x2="590.70" y2="749.30" stroke="#555" stroke-width="0.7" />
<line x1="590.70" y1="761.00" x2="590.70" y2="772.60" stroke="#555" stroke-width="0.7" />
<rect x="587.80" y="749.30" width="5.80" height="11.70" fill="#6aacde" stroke="#333" stroke-width="0.5" />
<line x1="587.80" y1="755.10" x2="593.60" y2="755.10" stroke="#4b81ad" stroke-width="0.9" />
<line x1="596.50" y1="705.50" x2="596.50" y2="721.50" stroke="#555" stroke-width="0.7" />
<line x1="596.50" y1="739.60" x2="596.50" y2="762.40" stroke="#555" stroke-width="0.7" />
<rect x="593.60" y="721.50" width="5.80" height="18.10" fill="#2c2b6a" stroke="#333" stroke-width="0.5" />
<line x1="593.60" y1="729.40" x2="599.40" y2="729.40" stroke="#b4b4d4" stroke-width="0.9" />
<line x1="607.00" y1="743.00" x2="607.00" y2="751.60" stroke="#555" stroke-width="0.7" />
<line x1="607.00" y1="763.30" x2="607.00" y2="768.00" stroke="#555" stroke-width="0.7" />
<rect x="604.10" y="751.60" width="5.80" height="11.70" fill="#6aacde" stroke="#333" stroke-width="0.5" />
<line x1="604.10" y1="757.40" x2="609.90" y2="757.40" stroke="#4b81ad" stroke-width="0.9" />
<line x1="612.90" y1="724.00" x2="612.90" y2="736.70" stroke="#555" stroke-width="0.7" />
<line x1="612.90" y1="749.30" x2="612.90" y2="766.00" stroke="#555" stroke-width="0.7" />
<rect x="610.00" y="736.70" width="5.80" height="12.60" fill="#2c2b6a" stroke="#333" stroke-width="0.5" />
<line x1="610.00" y1="744.00" x2="615.80" y2="744.00" stroke="#b4b4d4" stroke-width="0.9" />
<line x1="623.10" y1="735.00" x2="623.10" y2="742.80" stroke="#555" stroke-width="0.7" />
<line x1="623.10" y1="764.70" x2="623.10" y2="775.00" stroke="#555" stroke-width="0.7" />
<rect x="620.20" y="742.80" width="5.80" height="21.90" fill="#6aacde" stroke="#333" stroke-width="0.5" />
<line x1="620.20" y1="759.50" x2="626.00" y2="759.50" stroke="#4b81ad" stroke-width="0.9" />
<line x1="628.90" y1="693.00" x2="628.90" y2="721.00" stroke="#555" stroke-width="0.7" />
<line x1="628.90" y1="751.60" x2="628.90" y2="757.00" stroke="#555" stroke-width="0.7" />
<rect x="626.00" y="721.00" width="5.80" height="30.60" fill="#2c2b6a" stroke="#333" stroke-width="0.5" />
<line x1="626.00" y1="728.80" x2="631.80" y2="728.80" stroke="#b4b4d4" stroke-width="0.9" />
<line x1="639.10" y1="735.00" x2="639.10" y2="749.90" stroke="#555" stroke-width="0.7" />
<line x1="639.10" y1="765.30" x2="639.10" y2="780.00" stroke="#555" stroke-width="0.7" />
<rect x="636.20" y="749.90" width="5.80" height="15.40" fill="#6aacde" stroke="#333" stroke-width="0.5" />
<line x1="636.20" y1="759.50" x2="642.00" y2="759.50" stroke="#4b81ad" stroke-width="0.9" />
<line x1="644.90" y1="715.00" x2="644.90" y2="726.50" stroke="#555" stroke-width="0.7" />
<line x1="644.90" y1="754.20" x2="644.90" y2="770.00" stroke="#555" stroke-width="0.7" />
<rect x="642.00" y="726.50" width="5.80" height="27.70" fill="#2c2b6a" stroke="#333" stroke-width="0.5" />
<line x1="642.00" y1="736.10" x2="647.80" y2="736.10" stroke="#b4b4d4" stroke-width="0.9" />
<line x1="654.90" y1="735.00" x2="654.90" y2="750.70" stroke="#555" stroke-width="0.7" />
<line x1="654.90" y1="763.90" x2="654.90" y2="778.00" stroke="#555" stroke-width="0.7" />
<rect x="652.00" y="750.70" width="5.80" height="13.20" fill="#6aacde" stroke="#333" stroke-width="0.5" />
<line x1="652.00" y1="759.50" x2="657.80" y2="759.50" stroke="#4b81ad" stroke-width="0.9" />
<line x1="661.00" y1="720.00" x2="661.00" y2="731.20" stroke="#555" stroke-width="0.7" />
<line x1="661.00" y1="744.00" x2="661.00" y2="752.00" stroke="#555" stroke-width="0.7" />
<rect x="658.10" y="731.20" width="5.80" height="12.80" fill="#2c2b6a" stroke="#333" stroke-width="0.5" />
<line x1="658.10" y1="734.70" x2="663.90" y2="734.70" stroke="#b4b4d4" stroke-width="0.9" />
<line x1="671.30" y1="740.00" x2="671.30" y2="748.70" stroke="#555" stroke-width="0.7" />
<line x1="671.30" y1="765.30" x2="671.30" y2="775.00" stroke="#555" stroke-width="0.7" />
<rect x="668.40" y="748.70" width="5.80" height="16.60" fill="#6aacde" stroke="#333" stroke-width="0.5" />
<line x1="668.40" y1="756.00" x2="674.20" y2="756.00" stroke="#4b81ad" stroke-width="0.9" />
<line x1="677.10" y1="704.00" x2="677.10" y2="725.30" stroke="#555" stroke-width="0.7" />
<line x1="677.10" y1="741.40" x2="677.10" y2="752.00" stroke="#555" stroke-width="0.7" />
<rect x="674.20" y="725.30" width="5.80" height="16.10" fill="#2c2b6a" stroke="#333" stroke-width="0.5" />
<line x1="674.20" y1="736.70" x2="680.00" y2="736.70" stroke="#b4b4d4" stroke-width="0.9" />
<line x1="582.20" y1="686.50" x2="582.20" y2="788.80" stroke="#444" stroke-width="1.2" />
<line x1="581.70" y1="788.40" x2="680.00" y2="788.40" stroke="#8a8a8a" stroke-width="1.2" />
<line x1="593.60" y1="788.40" x2="593.60" y2="790.40" stroke="#8a8a8a" stroke-width="0.8" />
<line x1="610.00" y1="788.40" x2="610.00" y2="790.40" stroke="#8a8a8a" stroke-width="0.8" />
<line x1="626.00" y1="788.40" x2="626.00" y2="790.40" stroke="#8a8a8a" stroke-width="0.8" />
<line x1="642.00" y1="788.40" x2="642.00" y2="790.40" stroke="#8a8a8a" stroke-width="0.8" />
<line x1="658.10" y1="788.40" x2="658.10" y2="790.40" stroke="#8a8a8a" stroke-width="0.8" />
<line x1="674.20" y1="788.40" x2="674.20" y2="790.40" stroke="#8a8a8a" stroke-width="0.8" />
<text x="584.00" y="693.00" font-size="8.7" text-anchor="start" fill="#1a1a1a" stroke="#1a1a1a" stroke-width="0.16">Hippocampus</text>
<text transform="translate(597.50,796.30) rotate(-45)" font-size="7.9" text-anchor="end" fill="#333" stroke="#333" stroke-width="0.16"><tspan font-style="italic">GRIA2</tspan> (p.R764G)</text>
<text transform="translate(613.90,796.30) rotate(-45)" font-size="7.9" text-anchor="end" fill="#333" stroke="#333" stroke-width="0.16"><tspan font-style="italic">CYFIP2</tspan> (p.K294E)</text>
<text transform="translate(629.90,796.30) rotate(-45)" font-size="7.9" text-anchor="end" fill="#333" stroke="#333" stroke-width="0.16"><tspan font-style="italic">GRIK2</tspan> (p.Y571C)</text>
<text transform="translate(645.90,796.30) rotate(-45)" font-size="7.9" text-anchor="end" fill="#333" stroke="#333" stroke-width="0.16"><tspan font-style="italic">GRIK2</tspan> (p.Q621R)</text>
<text transform="translate(662.00,796.30) rotate(-45)" font-size="7.9" text-anchor="end" fill="#333" stroke="#333" stroke-width="0.16"><tspan font-style="italic">GRIA3</tspan> (p.R775G)</text>
<text transform="translate(678.10,796.30) rotate(-45)" font-size="7.9" text-anchor="end" fill="#333" stroke="#333" stroke-width="0.16"><tspan font-style="italic">GABRA3</tspan> (p.I342M)</text>
<line x1="478.10" y1="704.00" x2="480.10" y2="704.00" stroke="#444" stroke-width="0.8" />
<text transform="translate(476.50,704.00) rotate(-90)" font-size="8.8" text-anchor="middle" fill="#333" stroke="#333" stroke-width="0.16">4</text>
<line x1="478.10" y1="730.90" x2="480.10" y2="730.90" stroke="#444" stroke-width="0.8" />
<text transform="translate(476.50,730.90) rotate(-90)" font-size="8.8" text-anchor="middle" fill="#333" stroke="#333" stroke-width="0.16">2</text>
<line x1="478.10" y1="757.40" x2="480.10" y2="757.40" stroke="#444" stroke-width="0.8" />
<text transform="translate(476.50,757.40) rotate(-90)" font-size="8.8" text-anchor="middle" fill="#333" stroke="#333" stroke-width="0.16">0</text>
<line x1="478.10" y1="783.70" x2="480.10" y2="783.70" stroke="#444" stroke-width="0.8" />
<text transform="translate(476.50,783.70) rotate(-90)" font-size="8.8" text-anchor="middle" fill="#333" stroke="#333" stroke-width="0.16">-2</text>
<text transform="translate(457.57,736.50) rotate(-90)" font-size="8.9" text-anchor="middle" fill="#1a1a1a" stroke="#1a1a1a" stroke-width="0.16">Normalized editing <tspan font-style="italic">z</tspan>-score</text>
<text transform="translate(468.06,734.50) rotate(-90)" font-size="8.3" text-anchor="middle" fill="#1a1a1a" stroke="#1a1a1a" stroke-width="0.16">(v.s. typical brain development)</text>
</svg></body></html>
